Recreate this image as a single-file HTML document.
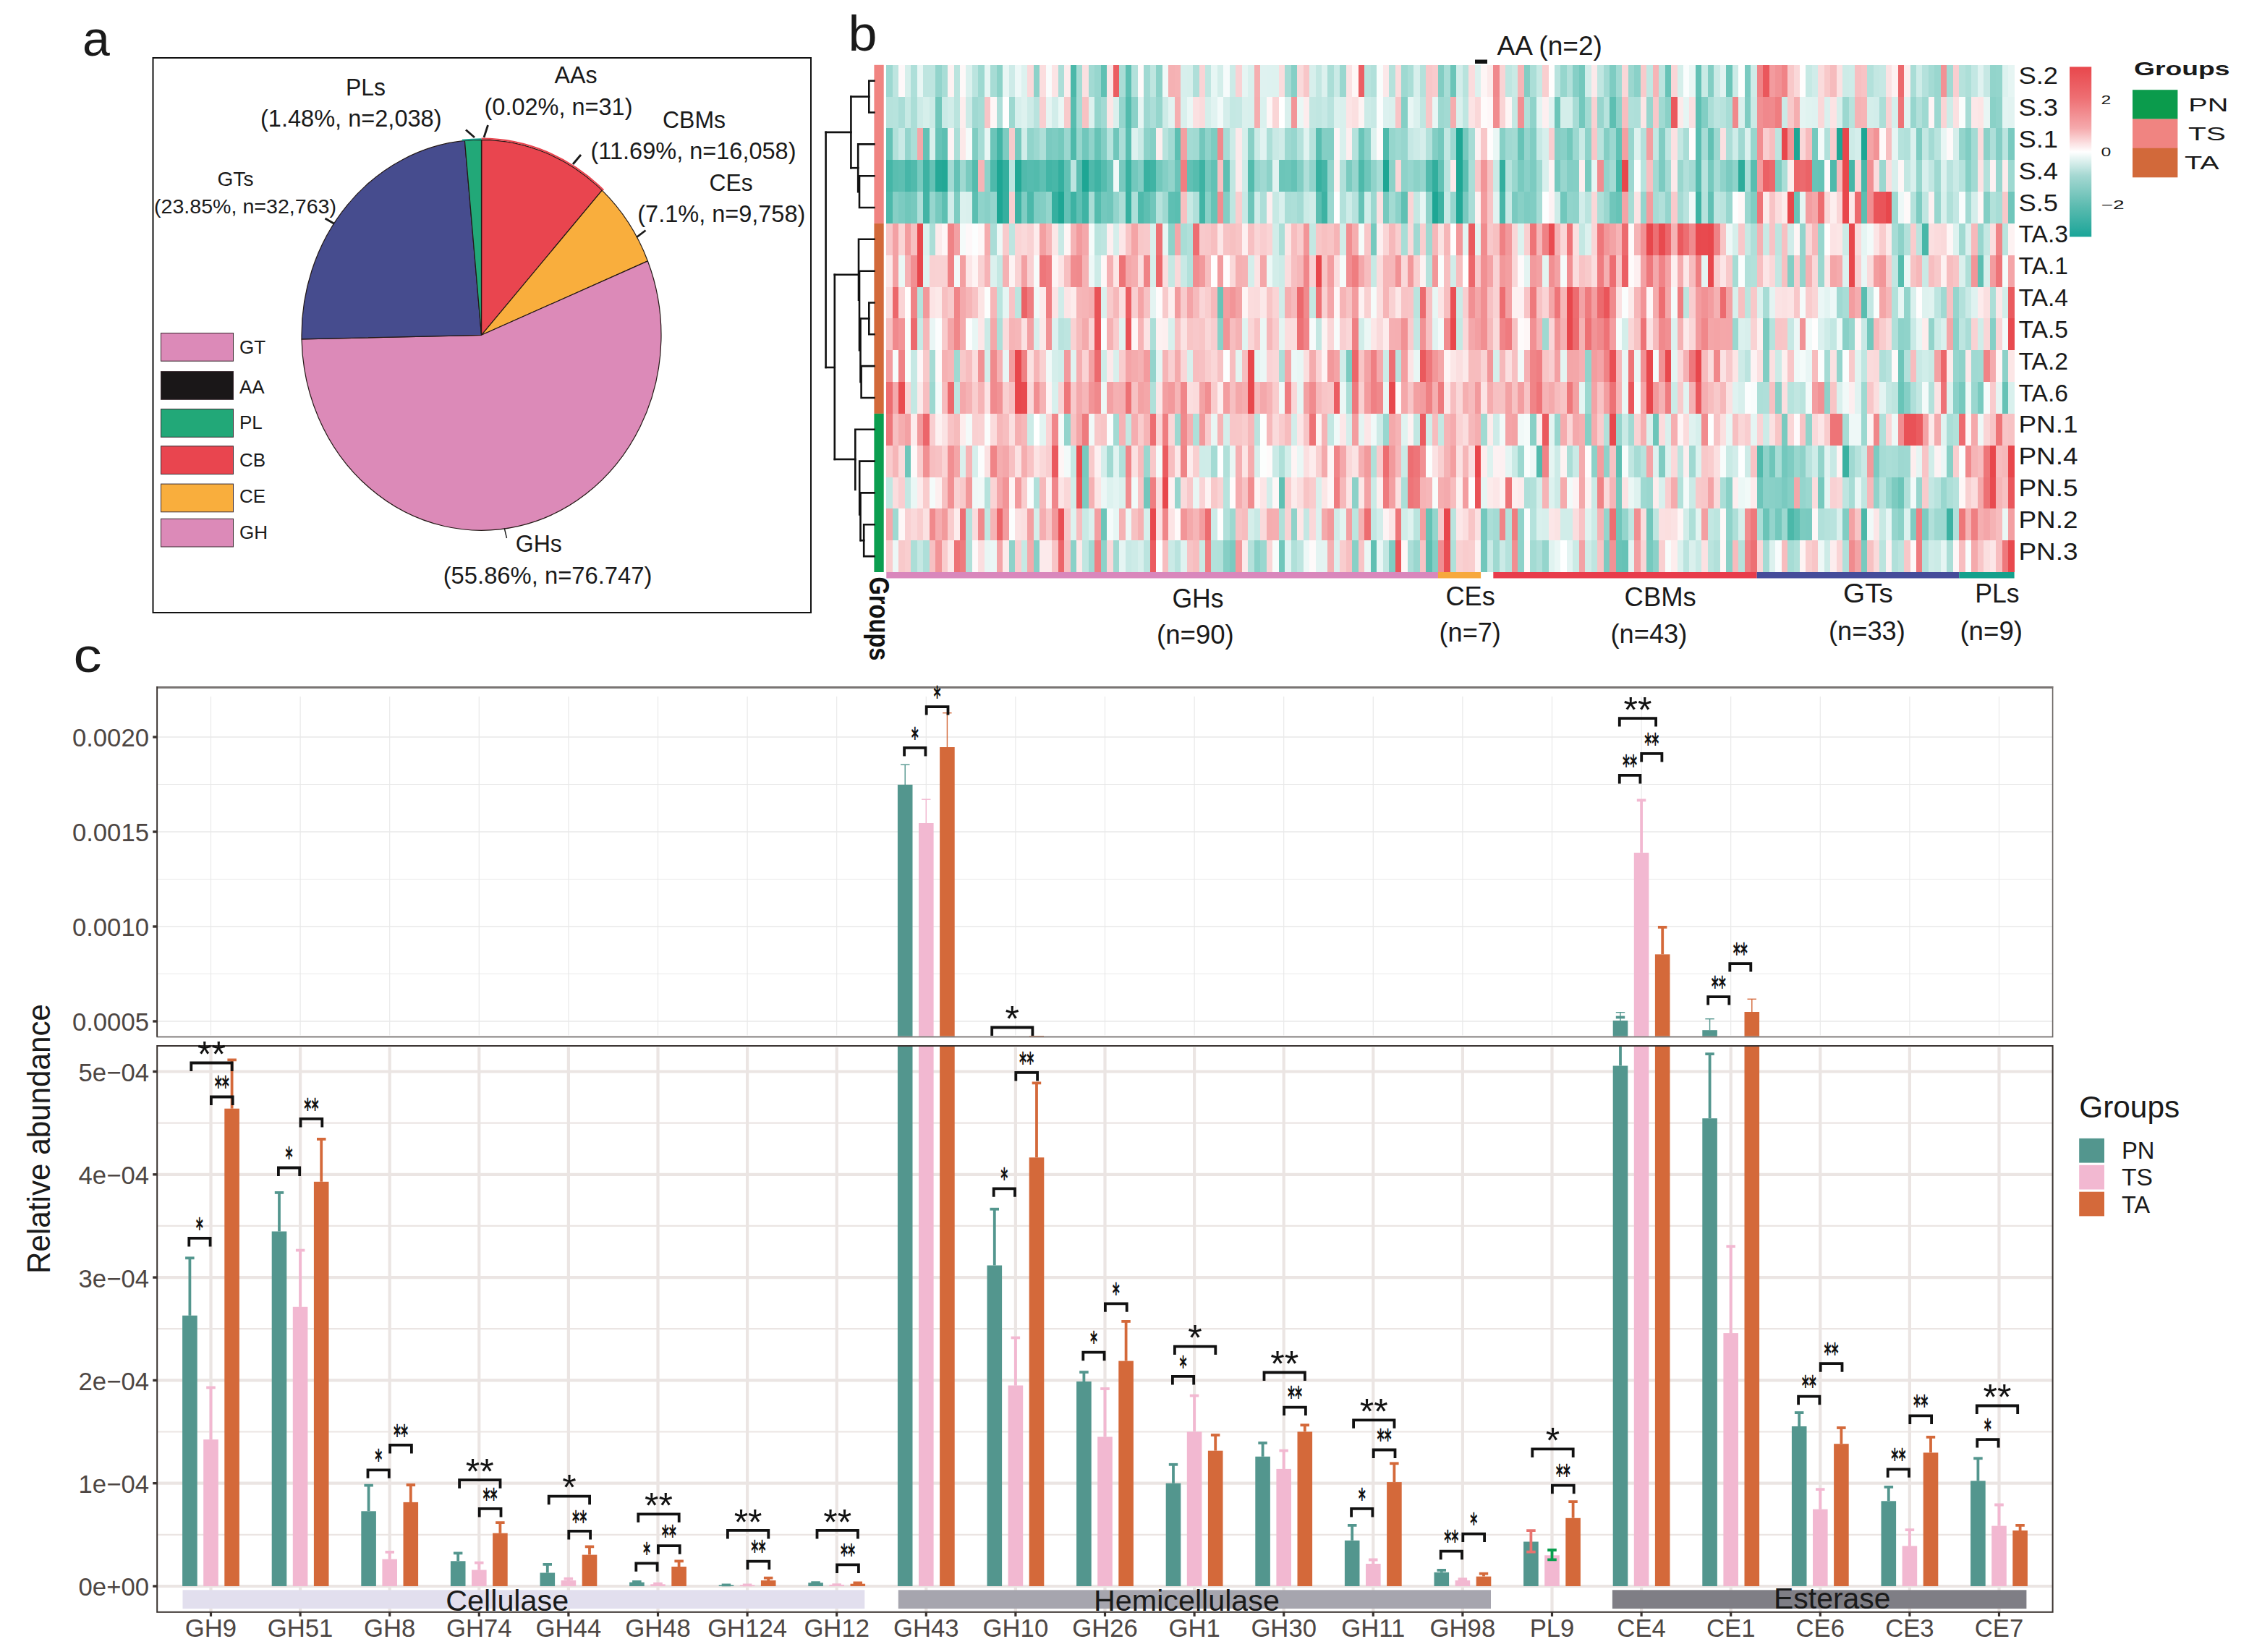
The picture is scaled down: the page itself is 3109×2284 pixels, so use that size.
<!DOCTYPE html>
<html lang="en"><head><meta charset="utf-8"><title>CAZyme figure</title>
<style>
html,body{margin:0;padding:0;background:#fff;}
body{width:3109px;height:2284px;overflow:hidden;}
svg{display:block;}
svg text{font-family:"Liberation Sans",sans-serif;}
</style></head><body>
<svg width="3109" height="2284" viewBox="0 0 3109 2284">
<rect x="0" y="0" width="3109" height="2284" fill="#ffffff"/>
<g id="panel-a">
<text x="114.0" y="77.0" font-size="68" fill="#1a1a1a">a</text>
<rect x="211.5" y="80" width="909.5" height="767" fill="none" stroke="#111" stroke-width="2"/>
<path d="M665.5,463.3 L665.50,193.30 A248.5,270 0 0 1 665.81,193.30 Z" fill="#1a1718" stroke="#231815" stroke-width="1.2" stroke-linejoin="round"/>
<path d="M665.5,463.3 L665.81,193.30 A248.5,270 0 0 1 832.28,263.14 Z" fill="#E9454F" stroke="#231815" stroke-width="1.2" stroke-linejoin="round"/>
<path d="M665.5,463.3 L832.28,263.14 A248.5,270 0 0 1 895.44,360.92 Z" fill="#F9AE3D" stroke="#231815" stroke-width="1.2" stroke-linejoin="round"/>
<path d="M665.5,463.3 L895.44,360.92 A248.5,270 0 1 1 417.05,468.90 Z" fill="#DC8AB8" stroke="#231815" stroke-width="1.2" stroke-linejoin="round"/>
<path d="M665.5,463.3 L417.05,468.90 A248.5,270 0 0 1 642.42,194.47 Z" fill="#464C8E" stroke="#231815" stroke-width="1.2" stroke-linejoin="round"/>
<path d="M665.5,463.3 L642.42,194.47 A248.5,270 0 0 1 665.50,193.30 Z" fill="#22A878" stroke="#231815" stroke-width="1.2" stroke-linejoin="round"/>
<path d="M665.50,191.68 A250.0,271.6 0 0 1 834.33,262.98" fill="none" stroke="#E9454F" stroke-width="2.2"/>
<path d="M638.90,193.76 A249.5,271.1 0 0 1 665.50,192.22" fill="none" stroke="#13A08C" stroke-width="2"/>
<line x1="644.0" y1="179.5" x2="656.0" y2="190.0" stroke="#1a1a1a" stroke-width="2.8"/>
<line x1="674.5" y1="173.0" x2="669.0" y2="190.0" stroke="#1a1a1a" stroke-width="2.8"/>
<line x1="803.0" y1="214.0" x2="792.0" y2="227.0" stroke="#1a1a1a" stroke-width="2.8"/>
<line x1="892.5" y1="318.5" x2="880.0" y2="328.0" stroke="#1a1a1a" stroke-width="2.8"/>
<line x1="449.5" y1="302.0" x2="461.5" y2="309.0" stroke="#1a1a1a" stroke-width="2.8"/>
<line x1="697.3" y1="730.5" x2="700.5" y2="744.0" stroke="#1a1a1a" stroke-width="1.4"/>
<text x="478.0" y="131.5" font-size="33.5" textLength="55.0" lengthAdjust="spacingAndGlyphs" fill="#1a1a1a">PLs</text>
<text x="360.0" y="174.5" font-size="33.5" textLength="250.5" lengthAdjust="spacingAndGlyphs" fill="#1a1a1a">(1.48%, n=2,038)</text>
<text x="766.5" y="115.3" font-size="33.5" textLength="59.0" lengthAdjust="spacingAndGlyphs" fill="#1a1a1a">AAs</text>
<text x="669.5" y="158.6" font-size="33.5" textLength="205.0" lengthAdjust="spacingAndGlyphs" fill="#1a1a1a">(0.02%, n=31)</text>
<text x="916.0" y="176.6" font-size="33.5" textLength="87.0" lengthAdjust="spacingAndGlyphs" fill="#1a1a1a">CBMs</text>
<text x="816.5" y="220.0" font-size="33.5" textLength="284.0" lengthAdjust="spacingAndGlyphs" fill="#1a1a1a">(11.69%, n=16,058)</text>
<text x="980.6" y="263.7" font-size="33.5" textLength="60.0" lengthAdjust="spacingAndGlyphs" fill="#1a1a1a">CEs</text>
<text x="881.3" y="307.3" font-size="33.5" textLength="232.0" lengthAdjust="spacingAndGlyphs" fill="#1a1a1a">(7.1%, n=9,758)</text>
<text x="300.5" y="256.5" font-size="28.5" textLength="50.0" lengthAdjust="spacingAndGlyphs" fill="#1a1a1a">GTs</text>
<text x="213.0" y="295.0" font-size="28.5" textLength="252.0" lengthAdjust="spacingAndGlyphs" fill="#1a1a1a">(23.85%, n=32,763)</text>
<text x="712.8" y="762.8" font-size="33.5" textLength="64.0" lengthAdjust="spacingAndGlyphs" fill="#1a1a1a">GHs</text>
<text x="612.7" y="807.2" font-size="33.5" textLength="288.7" lengthAdjust="spacingAndGlyphs" fill="#1a1a1a">(55.86%, n=76.747)</text>
<rect x="222.5" y="460.5" width="100" height="38.7" fill="#DC8AB8" stroke="#3a2a30" stroke-width="1"/>
<text x="331.0" y="489.4" font-size="26" fill="#1a1a1a">GT</text>
<rect x="222.5" y="513.6" width="100" height="38.7" fill="#1a1718" stroke="#3a2a30" stroke-width="1"/>
<text x="331.0" y="543.6" font-size="26" fill="#1a1a1a">AA</text>
<rect x="222.5" y="565.6" width="100" height="38.7" fill="#22A878" stroke="#3a2a30" stroke-width="1"/>
<text x="331.0" y="592.9" font-size="26" fill="#1a1a1a">PL</text>
<rect x="222.5" y="616.8" width="100" height="38.7" fill="#E9454F" stroke="#3a2a30" stroke-width="1"/>
<text x="331.0" y="645.1" font-size="26" fill="#1a1a1a">CB</text>
<rect x="222.5" y="669.1" width="100" height="38.7" fill="#F9AE3D" stroke="#3a2a30" stroke-width="1"/>
<text x="331.0" y="694.7" font-size="26" fill="#1a1a1a">CE</text>
<rect x="222.5" y="717.3" width="100" height="38.7" fill="#DC8AB8" stroke="#3a2a30" stroke-width="1"/>
<text x="331.0" y="744.5" font-size="26" fill="#1a1a1a">GH</text>
</g>
<g id="panel-b">
<text x="1172.5" y="69.5" font-size="68" textLength="40.0" lengthAdjust="spacingAndGlyphs" fill="#1a1a1a">b</text>
<g shape-rendering="crispEdges">
<rect x="1225.30" y="89.80" width="8.77" height="44.12" fill="#9dd8d1"/>
<rect x="1233.77" y="89.80" width="8.77" height="44.12" fill="#bee5e0"/>
<rect x="1242.25" y="89.80" width="8.77" height="44.12" fill="#fef8f9"/>
<rect x="1250.72" y="89.80" width="8.77" height="44.12" fill="#d6efeb"/>
<rect x="1259.20" y="89.80" width="8.77" height="44.12" fill="#aedfd9"/>
<rect x="1267.67" y="89.80" width="8.77" height="44.12" fill="#e8f6f4"/>
<rect x="1276.15" y="89.80" width="8.77" height="44.12" fill="#bee5e0"/>
<rect x="1284.62" y="89.80" width="8.77" height="44.12" fill="#bee5e0"/>
<rect x="1293.10" y="89.80" width="8.77" height="44.12" fill="#93d4cc"/>
<rect x="1301.57" y="89.80" width="8.77" height="44.12" fill="#a9ddd6"/>
<rect x="1310.04" y="89.80" width="8.77" height="44.12" fill="#fdf2f2"/>
<rect x="1318.52" y="89.80" width="8.77" height="44.12" fill="#bae4de"/>
<rect x="1326.99" y="89.80" width="8.77" height="44.12" fill="#fef8f8"/>
<rect x="1335.47" y="89.80" width="8.77" height="44.12" fill="#dbf1ee"/>
<rect x="1343.94" y="89.80" width="8.77" height="44.12" fill="#bbe4df"/>
<rect x="1352.42" y="89.80" width="8.77" height="44.12" fill="#9ed9d1"/>
<rect x="1360.89" y="89.80" width="8.77" height="44.12" fill="#e6f5f3"/>
<rect x="1369.37" y="89.80" width="8.77" height="44.12" fill="#a7dcd5"/>
<rect x="1377.84" y="89.80" width="8.77" height="44.12" fill="#8cd2c8"/>
<rect x="1386.31" y="89.80" width="8.77" height="44.12" fill="#e8f6f4"/>
<rect x="1394.79" y="89.80" width="8.77" height="44.12" fill="#ceebe8"/>
<rect x="1403.26" y="89.80" width="8.77" height="44.12" fill="#edf8f7"/>
<rect x="1411.74" y="89.80" width="8.77" height="44.12" fill="#ddf2ef"/>
<rect x="1420.21" y="89.80" width="8.77" height="44.12" fill="#fad9da"/>
<rect x="1428.69" y="89.80" width="8.77" height="44.12" fill="#8dd2c9"/>
<rect x="1437.16" y="89.80" width="8.77" height="44.12" fill="#fbddde"/>
<rect x="1445.64" y="89.80" width="8.77" height="44.12" fill="#f9fcfc"/>
<rect x="1454.11" y="89.80" width="8.77" height="44.12" fill="#fce4e5"/>
<rect x="1462.58" y="89.80" width="8.77" height="44.12" fill="#acded8"/>
<rect x="1471.06" y="89.80" width="8.77" height="44.12" fill="#fdeced"/>
<rect x="1479.53" y="89.80" width="8.77" height="44.12" fill="#4bb8a9"/>
<rect x="1488.01" y="89.80" width="8.77" height="44.12" fill="#a5dcd4"/>
<rect x="1496.48" y="89.80" width="8.77" height="44.12" fill="#fbe0e1"/>
<rect x="1504.96" y="89.80" width="8.77" height="44.12" fill="#a2dad3"/>
<rect x="1513.43" y="89.80" width="8.77" height="44.12" fill="#97d6ce"/>
<rect x="1521.91" y="89.80" width="8.77" height="44.12" fill="#60c0b3"/>
<rect x="1530.38" y="89.80" width="8.77" height="44.12" fill="#fce6e7"/>
<rect x="1538.85" y="89.80" width="8.77" height="44.12" fill="#eb5e62"/>
<rect x="1547.33" y="89.80" width="8.77" height="44.12" fill="#a9ddd6"/>
<rect x="1555.80" y="89.80" width="8.77" height="44.12" fill="#5cbfb2"/>
<rect x="1564.28" y="89.80" width="8.77" height="44.12" fill="#b3e1db"/>
<rect x="1572.75" y="89.80" width="8.77" height="44.12" fill="#fefafa"/>
<rect x="1581.23" y="89.80" width="8.77" height="44.12" fill="#a0d9d2"/>
<rect x="1589.70" y="89.80" width="8.77" height="44.12" fill="#bfe6e0"/>
<rect x="1598.18" y="89.80" width="8.77" height="44.12" fill="#8cd2c8"/>
<rect x="1606.65" y="89.80" width="8.77" height="44.12" fill="#eff9f8"/>
<rect x="1615.12" y="89.80" width="8.77" height="44.12" fill="#f5b1b3"/>
<rect x="1623.60" y="89.80" width="8.77" height="44.12" fill="#f6b3b5"/>
<rect x="1632.07" y="89.80" width="8.77" height="44.12" fill="#d7efec"/>
<rect x="1640.55" y="89.80" width="8.77" height="44.12" fill="#d6efeb"/>
<rect x="1649.02" y="89.80" width="8.77" height="44.12" fill="#afdfd9"/>
<rect x="1657.50" y="89.80" width="8.77" height="44.12" fill="#fad3d5"/>
<rect x="1665.97" y="89.80" width="8.77" height="44.12" fill="#bfe6e1"/>
<rect x="1674.45" y="89.80" width="8.77" height="44.12" fill="#e7f6f4"/>
<rect x="1682.92" y="89.80" width="8.77" height="44.12" fill="#d4eeea"/>
<rect x="1691.40" y="89.80" width="8.77" height="44.12" fill="#f6fbfb"/>
<rect x="1699.87" y="89.80" width="8.77" height="44.12" fill="#ccebe7"/>
<rect x="1708.34" y="89.80" width="8.77" height="44.12" fill="#f9d2d4"/>
<rect x="1716.82" y="89.80" width="8.77" height="44.12" fill="#e6f5f3"/>
<rect x="1725.29" y="89.80" width="8.77" height="44.12" fill="#d9f0ed"/>
<rect x="1733.77" y="89.80" width="8.77" height="44.12" fill="#f5aeb0"/>
<rect x="1742.24" y="89.80" width="8.77" height="44.12" fill="#dff2f0"/>
<rect x="1750.72" y="89.80" width="8.77" height="44.12" fill="#def2f0"/>
<rect x="1759.19" y="89.80" width="8.77" height="44.12" fill="#def2ef"/>
<rect x="1767.67" y="89.80" width="8.77" height="44.12" fill="#fbdcdd"/>
<rect x="1776.14" y="89.80" width="8.77" height="44.12" fill="#a5dbd4"/>
<rect x="1784.61" y="89.80" width="8.77" height="44.12" fill="#86cfc6"/>
<rect x="1793.09" y="89.80" width="8.77" height="44.12" fill="#fadadb"/>
<rect x="1801.56" y="89.80" width="8.77" height="44.12" fill="#f8c6c8"/>
<rect x="1810.04" y="89.80" width="8.77" height="44.12" fill="#d7efec"/>
<rect x="1818.51" y="89.80" width="8.77" height="44.12" fill="#c3e7e2"/>
<rect x="1826.99" y="89.80" width="8.77" height="44.12" fill="#dcf1ee"/>
<rect x="1835.46" y="89.80" width="8.77" height="44.12" fill="#abded7"/>
<rect x="1843.94" y="89.80" width="8.77" height="44.12" fill="#caeae6"/>
<rect x="1852.41" y="89.80" width="8.77" height="44.12" fill="#9ad7cf"/>
<rect x="1860.88" y="89.80" width="8.77" height="44.12" fill="#fbe2e3"/>
<rect x="1869.36" y="89.80" width="8.77" height="44.12" fill="#fef7f7"/>
<rect x="1877.83" y="89.80" width="8.77" height="44.12" fill="#eb5f64"/>
<rect x="1886.31" y="89.80" width="8.77" height="44.12" fill="#b7e3dd"/>
<rect x="1894.78" y="89.80" width="8.77" height="44.12" fill="#b1e0da"/>
<rect x="1903.26" y="89.80" width="8.77" height="44.12" fill="#f9fdfc"/>
<rect x="1911.73" y="89.80" width="8.77" height="44.12" fill="#fce8e9"/>
<rect x="1920.21" y="89.80" width="8.77" height="44.12" fill="#b5e2dc"/>
<rect x="1928.68" y="89.80" width="8.77" height="44.12" fill="#fbdbdc"/>
<rect x="1937.15" y="89.80" width="8.77" height="44.12" fill="#9ed9d1"/>
<rect x="1945.63" y="89.80" width="8.77" height="44.12" fill="#abded7"/>
<rect x="1954.10" y="89.80" width="8.77" height="44.12" fill="#d7efec"/>
<rect x="1962.58" y="89.80" width="8.77" height="44.12" fill="#b4e1db"/>
<rect x="1971.05" y="89.80" width="8.77" height="44.12" fill="#f8c7c9"/>
<rect x="1979.53" y="89.80" width="8.77" height="44.12" fill="#f9cbcd"/>
<rect x="1988.00" y="89.80" width="8.77" height="44.12" fill="#82cdc3"/>
<rect x="1996.48" y="89.80" width="8.77" height="44.12" fill="#a8ddd6"/>
<rect x="2004.95" y="89.80" width="8.77" height="44.12" fill="#6ac4b8"/>
<rect x="2013.42" y="89.80" width="8.77" height="44.12" fill="#d2edea"/>
<rect x="2021.90" y="89.80" width="8.77" height="44.12" fill="#b8e3dd"/>
<rect x="2030.37" y="89.80" width="8.77" height="44.12" fill="#fbdcdd"/>
<rect x="2038.85" y="89.80" width="8.77" height="44.12" fill="#dcf1ee"/>
<rect x="2047.32" y="89.80" width="8.77" height="44.12" fill="#fef5f5"/>
<rect x="2055.80" y="89.80" width="8.77" height="44.12" fill="#fceaea"/>
<rect x="2064.27" y="89.80" width="8.77" height="44.12" fill="#f0888c"/>
<rect x="2072.75" y="89.80" width="8.77" height="44.12" fill="#f9d3d4"/>
<rect x="2081.22" y="89.80" width="8.77" height="44.12" fill="#bfe6e1"/>
<rect x="2089.69" y="89.80" width="8.77" height="44.12" fill="#c9eae5"/>
<rect x="2098.17" y="89.80" width="8.77" height="44.12" fill="#f6b5b7"/>
<rect x="2106.64" y="89.80" width="8.77" height="44.12" fill="#82cdc3"/>
<rect x="2115.12" y="89.80" width="8.77" height="44.12" fill="#abded7"/>
<rect x="2123.59" y="89.80" width="8.77" height="44.12" fill="#c7e9e4"/>
<rect x="2132.07" y="89.80" width="8.77" height="44.12" fill="#f9cecf"/>
<rect x="2140.54" y="89.80" width="8.77" height="44.12" fill="#fffdfd"/>
<rect x="2149.02" y="89.80" width="8.77" height="44.12" fill="#b9e3de"/>
<rect x="2157.49" y="89.80" width="8.77" height="44.12" fill="#96d6cd"/>
<rect x="2165.96" y="89.80" width="8.77" height="44.12" fill="#b2e0da"/>
<rect x="2174.44" y="89.80" width="8.77" height="44.12" fill="#86cfc6"/>
<rect x="2182.91" y="89.80" width="8.77" height="44.12" fill="#74c8bd"/>
<rect x="2191.39" y="89.80" width="8.77" height="44.12" fill="#d2edea"/>
<rect x="2199.86" y="89.80" width="8.77" height="44.12" fill="#fce9ea"/>
<rect x="2208.34" y="89.80" width="8.77" height="44.12" fill="#c0e6e1"/>
<rect x="2216.81" y="89.80" width="8.77" height="44.12" fill="#a2dad3"/>
<rect x="2225.29" y="89.80" width="8.77" height="44.12" fill="#7eccc2"/>
<rect x="2233.76" y="89.80" width="8.77" height="44.12" fill="#a2dad3"/>
<rect x="2242.23" y="89.80" width="8.77" height="44.12" fill="#fad7d8"/>
<rect x="2250.71" y="89.80" width="8.77" height="44.12" fill="#9bd7cf"/>
<rect x="2259.18" y="89.80" width="8.77" height="44.12" fill="#8ad1c8"/>
<rect x="2267.66" y="89.80" width="8.77" height="44.12" fill="#f8cacb"/>
<rect x="2276.13" y="89.80" width="8.77" height="44.12" fill="#c1e7e2"/>
<rect x="2284.61" y="89.80" width="8.77" height="44.12" fill="#f6b4b6"/>
<rect x="2293.08" y="89.80" width="8.77" height="44.12" fill="#bbe4df"/>
<rect x="2301.56" y="89.80" width="8.77" height="44.12" fill="#67c3b7"/>
<rect x="2310.03" y="89.80" width="8.77" height="44.12" fill="#fad6d7"/>
<rect x="2318.50" y="89.80" width="8.77" height="44.12" fill="#d6efeb"/>
<rect x="2326.98" y="89.80" width="8.77" height="44.12" fill="#fafdfd"/>
<rect x="2335.45" y="89.80" width="8.77" height="44.12" fill="#eaf7f5"/>
<rect x="2343.93" y="89.80" width="8.77" height="44.12" fill="#63c1b5"/>
<rect x="2352.40" y="89.80" width="8.77" height="44.12" fill="#c9eae5"/>
<rect x="2360.88" y="89.80" width="8.77" height="44.12" fill="#83cec4"/>
<rect x="2369.35" y="89.80" width="8.77" height="44.12" fill="#cbeae6"/>
<rect x="2377.83" y="89.80" width="8.77" height="44.12" fill="#e1f3f1"/>
<rect x="2386.30" y="89.80" width="8.77" height="44.12" fill="#6cc5b9"/>
<rect x="2394.77" y="89.80" width="8.77" height="44.12" fill="#ccebe7"/>
<rect x="2403.25" y="89.80" width="8.77" height="44.12" fill="#fcfefd"/>
<rect x="2411.72" y="89.80" width="8.77" height="44.12" fill="#7acac0"/>
<rect x="2420.20" y="89.80" width="8.77" height="44.12" fill="#cfece8"/>
<rect x="2428.67" y="89.80" width="8.77" height="44.12" fill="#f08588"/>
<rect x="2437.15" y="89.80" width="8.77" height="44.12" fill="#ea575c"/>
<rect x="2445.62" y="89.80" width="8.77" height="44.12" fill="#f39b9e"/>
<rect x="2454.10" y="89.80" width="8.77" height="44.12" fill="#f19295"/>
<rect x="2462.57" y="89.80" width="8.77" height="44.12" fill="#f08386"/>
<rect x="2471.05" y="89.80" width="8.77" height="44.12" fill="#f8c8c9"/>
<rect x="2479.52" y="89.80" width="8.77" height="44.12" fill="#fad8d9"/>
<rect x="2487.99" y="89.80" width="8.77" height="44.12" fill="#fffdfd"/>
<rect x="2496.47" y="89.80" width="8.77" height="44.12" fill="#c6e9e4"/>
<rect x="2504.94" y="89.80" width="8.77" height="44.12" fill="#d0ece9"/>
<rect x="2513.42" y="89.80" width="8.77" height="44.12" fill="#fadbdc"/>
<rect x="2521.89" y="89.80" width="8.77" height="44.12" fill="#f8c9ca"/>
<rect x="2530.37" y="89.80" width="8.77" height="44.12" fill="#f6bbbd"/>
<rect x="2538.84" y="89.80" width="8.77" height="44.12" fill="#fbe1e2"/>
<rect x="2547.32" y="89.80" width="8.77" height="44.12" fill="#cdebe7"/>
<rect x="2555.79" y="89.80" width="8.77" height="44.12" fill="#ceece8"/>
<rect x="2564.26" y="89.80" width="8.77" height="44.12" fill="#f7bfc1"/>
<rect x="2572.74" y="89.80" width="8.77" height="44.12" fill="#f8c3c5"/>
<rect x="2581.21" y="89.80" width="8.77" height="44.12" fill="#b3e1db"/>
<rect x="2589.69" y="89.80" width="8.77" height="44.12" fill="#c3e7e2"/>
<rect x="2598.16" y="89.80" width="8.77" height="44.12" fill="#c6e8e4"/>
<rect x="2606.64" y="89.80" width="8.77" height="44.12" fill="#fbe2e3"/>
<rect x="2615.11" y="89.80" width="8.77" height="44.12" fill="#fdf2f2"/>
<rect x="2623.59" y="89.80" width="8.77" height="44.12" fill="#ec686c"/>
<rect x="2632.06" y="89.80" width="8.77" height="44.12" fill="#fdeeef"/>
<rect x="2640.53" y="89.80" width="8.77" height="44.12" fill="#a9ddd6"/>
<rect x="2649.01" y="89.80" width="8.77" height="44.12" fill="#ceece8"/>
<rect x="2657.48" y="89.80" width="8.77" height="44.12" fill="#b4e1dc"/>
<rect x="2665.96" y="89.80" width="8.77" height="44.12" fill="#a4dbd4"/>
<rect x="2674.43" y="89.80" width="8.77" height="44.12" fill="#9ad7cf"/>
<rect x="2682.91" y="89.80" width="8.77" height="44.12" fill="#f19295"/>
<rect x="2691.38" y="89.80" width="8.77" height="44.12" fill="#a2dad3"/>
<rect x="2699.86" y="89.80" width="8.77" height="44.12" fill="#f9ced0"/>
<rect x="2708.33" y="89.80" width="8.77" height="44.12" fill="#b6e2dc"/>
<rect x="2716.80" y="89.80" width="8.77" height="44.12" fill="#addfd8"/>
<rect x="2725.28" y="89.80" width="8.77" height="44.12" fill="#c3e7e3"/>
<rect x="2733.75" y="89.80" width="8.77" height="44.12" fill="#dff2f0"/>
<rect x="2742.23" y="89.80" width="8.77" height="44.12" fill="#c6e8e4"/>
<rect x="2750.70" y="89.80" width="8.77" height="44.12" fill="#92d4cb"/>
<rect x="2759.18" y="89.80" width="8.77" height="44.12" fill="#94d5cc"/>
<rect x="2767.65" y="89.80" width="8.77" height="44.12" fill="#ddf2ef"/>
<rect x="2776.13" y="89.80" width="8.77" height="44.12" fill="#e6f5f3"/>
<rect x="1225.30" y="133.62" width="8.77" height="44.12" fill="#b6e2dc"/>
<rect x="1233.77" y="133.62" width="8.77" height="44.12" fill="#b7e3dd"/>
<rect x="1242.25" y="133.62" width="8.77" height="44.12" fill="#aaddd7"/>
<rect x="1250.72" y="133.62" width="8.77" height="44.12" fill="#c7e9e4"/>
<rect x="1259.20" y="133.62" width="8.77" height="44.12" fill="#abded7"/>
<rect x="1267.67" y="133.62" width="8.77" height="44.12" fill="#cdebe7"/>
<rect x="1276.15" y="133.62" width="8.77" height="44.12" fill="#d6efeb"/>
<rect x="1284.62" y="133.62" width="8.77" height="44.12" fill="#cbebe6"/>
<rect x="1293.10" y="133.62" width="8.77" height="44.12" fill="#71c7bb"/>
<rect x="1301.57" y="133.62" width="8.77" height="44.12" fill="#caeae6"/>
<rect x="1310.04" y="133.62" width="8.77" height="44.12" fill="#d1ede9"/>
<rect x="1318.52" y="133.62" width="8.77" height="44.12" fill="#bae4de"/>
<rect x="1326.99" y="133.62" width="8.77" height="44.12" fill="#fdeded"/>
<rect x="1335.47" y="133.62" width="8.77" height="44.12" fill="#cdebe7"/>
<rect x="1343.94" y="133.62" width="8.77" height="44.12" fill="#a0d9d2"/>
<rect x="1352.42" y="133.62" width="8.77" height="44.12" fill="#a6dcd5"/>
<rect x="1360.89" y="133.62" width="8.77" height="44.12" fill="#f8c5c7"/>
<rect x="1369.37" y="133.62" width="8.77" height="44.12" fill="#fef6f6"/>
<rect x="1377.84" y="133.62" width="8.77" height="44.12" fill="#acded8"/>
<rect x="1386.31" y="133.62" width="8.77" height="44.12" fill="#fffefe"/>
<rect x="1394.79" y="133.62" width="8.77" height="44.12" fill="#9dd8d0"/>
<rect x="1403.26" y="133.62" width="8.77" height="44.12" fill="#d7efec"/>
<rect x="1411.74" y="133.62" width="8.77" height="44.12" fill="#def2ef"/>
<rect x="1420.21" y="133.62" width="8.77" height="44.12" fill="#cdebe7"/>
<rect x="1428.69" y="133.62" width="8.77" height="44.12" fill="#b9e3de"/>
<rect x="1437.16" y="133.62" width="8.77" height="44.12" fill="#f9ced0"/>
<rect x="1445.64" y="133.62" width="8.77" height="44.12" fill="#e6f5f3"/>
<rect x="1454.11" y="133.62" width="8.77" height="44.12" fill="#d2edea"/>
<rect x="1462.58" y="133.62" width="8.77" height="44.12" fill="#eaf7f5"/>
<rect x="1471.06" y="133.62" width="8.77" height="44.12" fill="#f8cacb"/>
<rect x="1479.53" y="133.62" width="8.77" height="44.12" fill="#57bdaf"/>
<rect x="1488.01" y="133.62" width="8.77" height="44.12" fill="#a6dcd5"/>
<rect x="1496.48" y="133.62" width="8.77" height="44.12" fill="#f7c2c3"/>
<rect x="1504.96" y="133.62" width="8.77" height="44.12" fill="#dcf1ee"/>
<rect x="1513.43" y="133.62" width="8.77" height="44.12" fill="#94d5cc"/>
<rect x="1521.91" y="133.62" width="8.77" height="44.12" fill="#a2dad3"/>
<rect x="1530.38" y="133.62" width="8.77" height="44.12" fill="#fce6e6"/>
<rect x="1538.85" y="133.62" width="8.77" height="44.12" fill="#daf0ed"/>
<rect x="1547.33" y="133.62" width="8.77" height="44.12" fill="#95d5cd"/>
<rect x="1555.80" y="133.62" width="8.77" height="44.12" fill="#52bbad"/>
<rect x="1564.28" y="133.62" width="8.77" height="44.12" fill="#8bd1c8"/>
<rect x="1572.75" y="133.62" width="8.77" height="44.12" fill="#e6f5f3"/>
<rect x="1581.23" y="133.62" width="8.77" height="44.12" fill="#9ed8d1"/>
<rect x="1589.70" y="133.62" width="8.77" height="44.12" fill="#acded8"/>
<rect x="1598.18" y="133.62" width="8.77" height="44.12" fill="#96d6cd"/>
<rect x="1606.65" y="133.62" width="8.77" height="44.12" fill="#cdebe7"/>
<rect x="1615.12" y="133.62" width="8.77" height="44.12" fill="#e2f3f1"/>
<rect x="1623.60" y="133.62" width="8.77" height="44.12" fill="#f5aeb0"/>
<rect x="1632.07" y="133.62" width="8.77" height="44.12" fill="#d9f0ed"/>
<rect x="1640.55" y="133.62" width="8.77" height="44.12" fill="#eaf7f5"/>
<rect x="1649.02" y="133.62" width="8.77" height="44.12" fill="#fbe0e1"/>
<rect x="1657.50" y="133.62" width="8.77" height="44.12" fill="#fadbdc"/>
<rect x="1665.97" y="133.62" width="8.77" height="44.12" fill="#d5efeb"/>
<rect x="1674.45" y="133.62" width="8.77" height="44.12" fill="#e1f3f1"/>
<rect x="1682.92" y="133.62" width="8.77" height="44.12" fill="#f2faf9"/>
<rect x="1691.40" y="133.62" width="8.77" height="44.12" fill="#d5eeeb"/>
<rect x="1699.87" y="133.62" width="8.77" height="44.12" fill="#c4e8e3"/>
<rect x="1708.34" y="133.62" width="8.77" height="44.12" fill="#c6e8e4"/>
<rect x="1716.82" y="133.62" width="8.77" height="44.12" fill="#daf0ed"/>
<rect x="1725.29" y="133.62" width="8.77" height="44.12" fill="#d8f0ed"/>
<rect x="1733.77" y="133.62" width="8.77" height="44.12" fill="#f5acae"/>
<rect x="1742.24" y="133.62" width="8.77" height="44.12" fill="#daf1ee"/>
<rect x="1750.72" y="133.62" width="8.77" height="44.12" fill="#fef6f6"/>
<rect x="1759.19" y="133.62" width="8.77" height="44.12" fill="#fad5d6"/>
<rect x="1767.67" y="133.62" width="8.77" height="44.12" fill="#ffffff"/>
<rect x="1776.14" y="133.62" width="8.77" height="44.12" fill="#d9f0ed"/>
<rect x="1784.61" y="133.62" width="8.77" height="44.12" fill="#f29598"/>
<rect x="1793.09" y="133.62" width="8.77" height="44.12" fill="#eaf7f5"/>
<rect x="1801.56" y="133.62" width="8.77" height="44.12" fill="#fdeced"/>
<rect x="1810.04" y="133.62" width="8.77" height="44.12" fill="#c3e7e2"/>
<rect x="1818.51" y="133.62" width="8.77" height="44.12" fill="#c0e6e1"/>
<rect x="1826.99" y="133.62" width="8.77" height="44.12" fill="#c7e9e5"/>
<rect x="1835.46" y="133.62" width="8.77" height="44.12" fill="#b9e3de"/>
<rect x="1843.94" y="133.62" width="8.77" height="44.12" fill="#dcf1ee"/>
<rect x="1852.41" y="133.62" width="8.77" height="44.12" fill="#d9f0ed"/>
<rect x="1860.88" y="133.62" width="8.77" height="44.12" fill="#fce4e5"/>
<rect x="1869.36" y="133.62" width="8.77" height="44.12" fill="#fbdfe0"/>
<rect x="1877.83" y="133.62" width="8.77" height="44.12" fill="#fdf3f3"/>
<rect x="1886.31" y="133.62" width="8.77" height="44.12" fill="#ccebe7"/>
<rect x="1894.78" y="133.62" width="8.77" height="44.12" fill="#c8e9e5"/>
<rect x="1903.26" y="133.62" width="8.77" height="44.12" fill="#fbfdfd"/>
<rect x="1911.73" y="133.62" width="8.77" height="44.12" fill="#dcf1ef"/>
<rect x="1920.21" y="133.62" width="8.77" height="44.12" fill="#daf0ed"/>
<rect x="1928.68" y="133.62" width="8.77" height="44.12" fill="#f8c4c6"/>
<rect x="1937.15" y="133.62" width="8.77" height="44.12" fill="#84cfc5"/>
<rect x="1945.63" y="133.62" width="8.77" height="44.12" fill="#e8f6f4"/>
<rect x="1954.10" y="133.62" width="8.77" height="44.12" fill="#dbf1ee"/>
<rect x="1962.58" y="133.62" width="8.77" height="44.12" fill="#c0e6e1"/>
<rect x="1971.05" y="133.62" width="8.77" height="44.12" fill="#f8c7c8"/>
<rect x="1979.53" y="133.62" width="8.77" height="44.12" fill="#e8f6f4"/>
<rect x="1988.00" y="133.62" width="8.77" height="44.12" fill="#9dd8d0"/>
<rect x="1996.48" y="133.62" width="8.77" height="44.12" fill="#a2dad3"/>
<rect x="2004.95" y="133.62" width="8.77" height="44.12" fill="#f5acae"/>
<rect x="2013.42" y="133.62" width="8.77" height="44.12" fill="#d9f0ed"/>
<rect x="2021.90" y="133.62" width="8.77" height="44.12" fill="#bfe6e1"/>
<rect x="2030.37" y="133.62" width="8.77" height="44.12" fill="#fce3e4"/>
<rect x="2038.85" y="133.62" width="8.77" height="44.12" fill="#fad7d8"/>
<rect x="2047.32" y="133.62" width="8.77" height="44.12" fill="#fefbfb"/>
<rect x="2055.80" y="133.62" width="8.77" height="44.12" fill="#fef7f8"/>
<rect x="2064.27" y="133.62" width="8.77" height="44.12" fill="#f18c8f"/>
<rect x="2072.75" y="133.62" width="8.77" height="44.12" fill="#fad4d5"/>
<rect x="2081.22" y="133.62" width="8.77" height="44.12" fill="#fef5f5"/>
<rect x="2089.69" y="133.62" width="8.77" height="44.12" fill="#c5e8e3"/>
<rect x="2098.17" y="133.62" width="8.77" height="44.12" fill="#f18f92"/>
<rect x="2106.64" y="133.62" width="8.77" height="44.12" fill="#b0e0d9"/>
<rect x="2115.12" y="133.62" width="8.77" height="44.12" fill="#90d3ca"/>
<rect x="2123.59" y="133.62" width="8.77" height="44.12" fill="#e3f4f2"/>
<rect x="2132.07" y="133.62" width="8.77" height="44.12" fill="#fdeff0"/>
<rect x="2140.54" y="133.62" width="8.77" height="44.12" fill="#e1f3f1"/>
<rect x="2149.02" y="133.62" width="8.77" height="44.12" fill="#6dc5b9"/>
<rect x="2157.49" y="133.62" width="8.77" height="44.12" fill="#d4eeea"/>
<rect x="2165.96" y="133.62" width="8.77" height="44.12" fill="#d4eeea"/>
<rect x="2174.44" y="133.62" width="8.77" height="44.12" fill="#a7dcd5"/>
<rect x="2182.91" y="133.62" width="8.77" height="44.12" fill="#73c8bd"/>
<rect x="2191.39" y="133.62" width="8.77" height="44.12" fill="#a3dbd3"/>
<rect x="2199.86" y="133.62" width="8.77" height="44.12" fill="#f9d1d2"/>
<rect x="2208.34" y="133.62" width="8.77" height="44.12" fill="#98d6ce"/>
<rect x="2216.81" y="133.62" width="8.77" height="44.12" fill="#b7e3dd"/>
<rect x="2225.29" y="133.62" width="8.77" height="44.12" fill="#5dbfb2"/>
<rect x="2233.76" y="133.62" width="8.77" height="44.12" fill="#8ed2c9"/>
<rect x="2242.23" y="133.62" width="8.77" height="44.12" fill="#f7bec0"/>
<rect x="2250.71" y="133.62" width="8.77" height="44.12" fill="#b0e0da"/>
<rect x="2259.18" y="133.62" width="8.77" height="44.12" fill="#aedfd9"/>
<rect x="2267.66" y="133.62" width="8.77" height="44.12" fill="#fce5e5"/>
<rect x="2276.13" y="133.62" width="8.77" height="44.12" fill="#98d6ce"/>
<rect x="2284.61" y="133.62" width="8.77" height="44.12" fill="#f8c7c9"/>
<rect x="2293.08" y="133.62" width="8.77" height="44.12" fill="#a0dad2"/>
<rect x="2301.56" y="133.62" width="8.77" height="44.12" fill="#8ad1c7"/>
<rect x="2310.03" y="133.62" width="8.77" height="44.12" fill="#ea585d"/>
<rect x="2318.50" y="133.62" width="8.77" height="44.12" fill="#fceaea"/>
<rect x="2326.98" y="133.62" width="8.77" height="44.12" fill="#e5f5f3"/>
<rect x="2335.45" y="133.62" width="8.77" height="44.12" fill="#fbe0e1"/>
<rect x="2343.93" y="133.62" width="8.77" height="44.12" fill="#5cbfb2"/>
<rect x="2352.40" y="133.62" width="8.77" height="44.12" fill="#82cec4"/>
<rect x="2360.88" y="133.62" width="8.77" height="44.12" fill="#abded7"/>
<rect x="2369.35" y="133.62" width="8.77" height="44.12" fill="#bde5e0"/>
<rect x="2377.83" y="133.62" width="8.77" height="44.12" fill="#b8e3dd"/>
<rect x="2386.30" y="133.62" width="8.77" height="44.12" fill="#a8ddd6"/>
<rect x="2394.77" y="133.62" width="8.77" height="44.12" fill="#f0888b"/>
<rect x="2403.25" y="133.62" width="8.77" height="44.12" fill="#daf0ed"/>
<rect x="2411.72" y="133.62" width="8.77" height="44.12" fill="#7fccc2"/>
<rect x="2420.20" y="133.62" width="8.77" height="44.12" fill="#caeae6"/>
<rect x="2428.67" y="133.62" width="8.77" height="44.12" fill="#f19093"/>
<rect x="2437.15" y="133.62" width="8.77" height="44.12" fill="#f0888c"/>
<rect x="2445.62" y="133.62" width="8.77" height="44.12" fill="#f08a8d"/>
<rect x="2454.10" y="133.62" width="8.77" height="44.12" fill="#ef7d80"/>
<rect x="2462.57" y="133.62" width="8.77" height="44.12" fill="#cbeae6"/>
<rect x="2471.05" y="133.62" width="8.77" height="44.12" fill="#f8c9ca"/>
<rect x="2479.52" y="133.62" width="8.77" height="44.12" fill="#f5aeb0"/>
<rect x="2487.99" y="133.62" width="8.77" height="44.12" fill="#e4f4f2"/>
<rect x="2496.47" y="133.62" width="8.77" height="44.12" fill="#e0f3f0"/>
<rect x="2504.94" y="133.62" width="8.77" height="44.12" fill="#dff2f0"/>
<rect x="2513.42" y="133.62" width="8.77" height="44.12" fill="#fad8d9"/>
<rect x="2521.89" y="133.62" width="8.77" height="44.12" fill="#daf0ee"/>
<rect x="2530.37" y="133.62" width="8.77" height="44.12" fill="#fce3e4"/>
<rect x="2538.84" y="133.62" width="8.77" height="44.12" fill="#d6efeb"/>
<rect x="2547.32" y="133.62" width="8.77" height="44.12" fill="#9cd8d0"/>
<rect x="2555.79" y="133.62" width="8.77" height="44.12" fill="#b8e3dd"/>
<rect x="2564.26" y="133.62" width="8.77" height="44.12" fill="#f5b3b5"/>
<rect x="2572.74" y="133.62" width="8.77" height="44.12" fill="#f6b5b7"/>
<rect x="2581.21" y="133.62" width="8.77" height="44.12" fill="#d4eeea"/>
<rect x="2589.69" y="133.62" width="8.77" height="44.12" fill="#d2edea"/>
<rect x="2598.16" y="133.62" width="8.77" height="44.12" fill="#acded7"/>
<rect x="2606.64" y="133.62" width="8.77" height="44.12" fill="#f9d2d3"/>
<rect x="2615.11" y="133.62" width="8.77" height="44.12" fill="#d5efeb"/>
<rect x="2623.59" y="133.62" width="8.77" height="44.12" fill="#ee7377"/>
<rect x="2632.06" y="133.62" width="8.77" height="44.12" fill="#e1f3f1"/>
<rect x="2640.53" y="133.62" width="8.77" height="44.12" fill="#97d6ce"/>
<rect x="2649.01" y="133.62" width="8.77" height="44.12" fill="#b2e0da"/>
<rect x="2657.48" y="133.62" width="8.77" height="44.12" fill="#9ed9d1"/>
<rect x="2665.96" y="133.62" width="8.77" height="44.12" fill="#fef4f5"/>
<rect x="2674.43" y="133.62" width="8.77" height="44.12" fill="#9cd8d0"/>
<rect x="2682.91" y="133.62" width="8.77" height="44.12" fill="#fad4d5"/>
<rect x="2691.38" y="133.62" width="8.77" height="44.12" fill="#ceece8"/>
<rect x="2699.86" y="133.62" width="8.77" height="44.12" fill="#fbe0e1"/>
<rect x="2708.33" y="133.62" width="8.77" height="44.12" fill="#f9fdfc"/>
<rect x="2716.80" y="133.62" width="8.77" height="44.12" fill="#a6dcd5"/>
<rect x="2725.28" y="133.62" width="8.77" height="44.12" fill="#fce7e8"/>
<rect x="2733.75" y="133.62" width="8.77" height="44.12" fill="#fce5e5"/>
<rect x="2742.23" y="133.62" width="8.77" height="44.12" fill="#e8f6f4"/>
<rect x="2750.70" y="133.62" width="8.77" height="44.12" fill="#8ad1c7"/>
<rect x="2759.18" y="133.62" width="8.77" height="44.12" fill="#90d3ca"/>
<rect x="2767.65" y="133.62" width="8.77" height="44.12" fill="#e3f4f2"/>
<rect x="2776.13" y="133.62" width="8.77" height="44.12" fill="#e2f3f1"/>
<rect x="1225.30" y="177.45" width="8.77" height="44.12" fill="#65c2b6"/>
<rect x="1233.77" y="177.45" width="8.77" height="44.12" fill="#b2e1da"/>
<rect x="1242.25" y="177.45" width="8.77" height="44.12" fill="#caeae6"/>
<rect x="1250.72" y="177.45" width="8.77" height="44.12" fill="#95d5cd"/>
<rect x="1259.20" y="177.45" width="8.77" height="44.12" fill="#abded7"/>
<rect x="1267.67" y="177.45" width="8.77" height="44.12" fill="#f4a7a9"/>
<rect x="1276.15" y="177.45" width="8.77" height="44.12" fill="#62c1b5"/>
<rect x="1284.62" y="177.45" width="8.77" height="44.12" fill="#d8f0ec"/>
<rect x="1293.10" y="177.45" width="8.77" height="44.12" fill="#67c3b7"/>
<rect x="1301.57" y="177.45" width="8.77" height="44.12" fill="#5dbfb2"/>
<rect x="1310.04" y="177.45" width="8.77" height="44.12" fill="#fef3f4"/>
<rect x="1318.52" y="177.45" width="8.77" height="44.12" fill="#acded7"/>
<rect x="1326.99" y="177.45" width="8.77" height="44.12" fill="#fce9e9"/>
<rect x="1335.47" y="177.45" width="8.77" height="44.12" fill="#f5fbfa"/>
<rect x="1343.94" y="177.45" width="8.77" height="44.12" fill="#80cdc2"/>
<rect x="1352.42" y="177.45" width="8.77" height="44.12" fill="#a6dcd5"/>
<rect x="1360.89" y="177.45" width="8.77" height="44.12" fill="#e8f6f4"/>
<rect x="1369.37" y="177.45" width="8.77" height="44.12" fill="#6cc5b9"/>
<rect x="1377.84" y="177.45" width="8.77" height="44.12" fill="#42b4a5"/>
<rect x="1386.31" y="177.45" width="8.77" height="44.12" fill="#7dccc1"/>
<rect x="1394.79" y="177.45" width="8.77" height="44.12" fill="#f8cbcc"/>
<rect x="1403.26" y="177.45" width="8.77" height="44.12" fill="#76c9be"/>
<rect x="1411.74" y="177.45" width="8.77" height="44.12" fill="#d1ede9"/>
<rect x="1420.21" y="177.45" width="8.77" height="44.12" fill="#91d4cb"/>
<rect x="1428.69" y="177.45" width="8.77" height="44.12" fill="#9cd8d0"/>
<rect x="1437.16" y="177.45" width="8.77" height="44.12" fill="#aedfd8"/>
<rect x="1445.64" y="177.45" width="8.77" height="44.12" fill="#7acac0"/>
<rect x="1454.11" y="177.45" width="8.77" height="44.12" fill="#7eccc2"/>
<rect x="1462.58" y="177.45" width="8.77" height="44.12" fill="#75c9bd"/>
<rect x="1471.06" y="177.45" width="8.77" height="44.12" fill="#9bd7cf"/>
<rect x="1479.53" y="177.45" width="8.77" height="44.12" fill="#4db9aa"/>
<rect x="1488.01" y="177.45" width="8.77" height="44.12" fill="#97d6cd"/>
<rect x="1496.48" y="177.45" width="8.77" height="44.12" fill="#71c7bc"/>
<rect x="1504.96" y="177.45" width="8.77" height="44.12" fill="#90d3ca"/>
<rect x="1513.43" y="177.45" width="8.77" height="44.12" fill="#67c3b6"/>
<rect x="1521.91" y="177.45" width="8.77" height="44.12" fill="#83cec4"/>
<rect x="1530.38" y="177.45" width="8.77" height="44.12" fill="#b7e3dd"/>
<rect x="1538.85" y="177.45" width="8.77" height="44.12" fill="#70c6bb"/>
<rect x="1547.33" y="177.45" width="8.77" height="44.12" fill="#acded8"/>
<rect x="1555.80" y="177.45" width="8.77" height="44.12" fill="#59bdb0"/>
<rect x="1564.28" y="177.45" width="8.77" height="44.12" fill="#ddf1ef"/>
<rect x="1572.75" y="177.45" width="8.77" height="44.12" fill="#caeae6"/>
<rect x="1581.23" y="177.45" width="8.77" height="44.12" fill="#8dd2c9"/>
<rect x="1589.70" y="177.45" width="8.77" height="44.12" fill="#85cfc5"/>
<rect x="1598.18" y="177.45" width="8.77" height="44.12" fill="#fdeeee"/>
<rect x="1606.65" y="177.45" width="8.77" height="44.12" fill="#b8e3dd"/>
<rect x="1615.12" y="177.45" width="8.77" height="44.12" fill="#a2dad3"/>
<rect x="1623.60" y="177.45" width="8.77" height="44.12" fill="#5dbfb2"/>
<rect x="1632.07" y="177.45" width="8.77" height="44.12" fill="#f39fa2"/>
<rect x="1640.55" y="177.45" width="8.77" height="44.12" fill="#a4dbd4"/>
<rect x="1649.02" y="177.45" width="8.77" height="44.12" fill="#a1dad2"/>
<rect x="1657.50" y="177.45" width="8.77" height="44.12" fill="#73c7bc"/>
<rect x="1665.97" y="177.45" width="8.77" height="44.12" fill="#90d3ca"/>
<rect x="1674.45" y="177.45" width="8.77" height="44.12" fill="#7dccc1"/>
<rect x="1682.92" y="177.45" width="8.77" height="44.12" fill="#f0898c"/>
<rect x="1691.40" y="177.45" width="8.77" height="44.12" fill="#a7dcd5"/>
<rect x="1699.87" y="177.45" width="8.77" height="44.12" fill="#cdebe7"/>
<rect x="1708.34" y="177.45" width="8.77" height="44.12" fill="#fce9ea"/>
<rect x="1716.82" y="177.45" width="8.77" height="44.12" fill="#d5efeb"/>
<rect x="1725.29" y="177.45" width="8.77" height="44.12" fill="#88d0c6"/>
<rect x="1733.77" y="177.45" width="8.77" height="44.12" fill="#cbebe6"/>
<rect x="1742.24" y="177.45" width="8.77" height="44.12" fill="#e1f3f1"/>
<rect x="1750.72" y="177.45" width="8.77" height="44.12" fill="#addfd8"/>
<rect x="1759.19" y="177.45" width="8.77" height="44.12" fill="#c9e9e5"/>
<rect x="1767.67" y="177.45" width="8.77" height="44.12" fill="#d0ece8"/>
<rect x="1776.14" y="177.45" width="8.77" height="44.12" fill="#9ed9d1"/>
<rect x="1784.61" y="177.45" width="8.77" height="44.12" fill="#97d6ce"/>
<rect x="1793.09" y="177.45" width="8.77" height="44.12" fill="#b5e2dc"/>
<rect x="1801.56" y="177.45" width="8.77" height="44.12" fill="#e0f3f0"/>
<rect x="1810.04" y="177.45" width="8.77" height="44.12" fill="#b8e3dd"/>
<rect x="1818.51" y="177.45" width="8.77" height="44.12" fill="#59bdb0"/>
<rect x="1826.99" y="177.45" width="8.77" height="44.12" fill="#84cec4"/>
<rect x="1835.46" y="177.45" width="8.77" height="44.12" fill="#83cec4"/>
<rect x="1843.94" y="177.45" width="8.77" height="44.12" fill="#fef5f6"/>
<rect x="1852.41" y="177.45" width="8.77" height="44.12" fill="#d9f0ed"/>
<rect x="1860.88" y="177.45" width="8.77" height="44.12" fill="#fdeeef"/>
<rect x="1869.36" y="177.45" width="8.77" height="44.12" fill="#b5e2dc"/>
<rect x="1877.83" y="177.45" width="8.77" height="44.12" fill="#69c4b8"/>
<rect x="1886.31" y="177.45" width="8.77" height="44.12" fill="#8bd1c8"/>
<rect x="1894.78" y="177.45" width="8.77" height="44.12" fill="#def2ef"/>
<rect x="1903.26" y="177.45" width="8.77" height="44.12" fill="#fefbfb"/>
<rect x="1911.73" y="177.45" width="8.77" height="44.12" fill="#4fbaab"/>
<rect x="1920.21" y="177.45" width="8.77" height="44.12" fill="#96d6cd"/>
<rect x="1928.68" y="177.45" width="8.77" height="44.12" fill="#9ed9d1"/>
<rect x="1937.15" y="177.45" width="8.77" height="44.12" fill="#97d6ce"/>
<rect x="1945.63" y="177.45" width="8.77" height="44.12" fill="#c6e8e4"/>
<rect x="1954.10" y="177.45" width="8.77" height="44.12" fill="#cdebe7"/>
<rect x="1962.58" y="177.45" width="8.77" height="44.12" fill="#d5eeeb"/>
<rect x="1971.05" y="177.45" width="8.77" height="44.12" fill="#b3e1db"/>
<rect x="1979.53" y="177.45" width="8.77" height="44.12" fill="#83cec4"/>
<rect x="1988.00" y="177.45" width="8.77" height="44.12" fill="#74c8bd"/>
<rect x="1996.48" y="177.45" width="8.77" height="44.12" fill="#c3e7e2"/>
<rect x="2004.95" y="177.45" width="8.77" height="44.12" fill="#9dd8d1"/>
<rect x="2013.42" y="177.45" width="8.77" height="44.12" fill="#1ea694"/>
<rect x="2021.90" y="177.45" width="8.77" height="44.12" fill="#76c9be"/>
<rect x="2030.37" y="177.45" width="8.77" height="44.12" fill="#a7dcd5"/>
<rect x="2038.85" y="177.45" width="8.77" height="44.12" fill="#fdf1f2"/>
<rect x="2047.32" y="177.45" width="8.77" height="44.12" fill="#f8c6c8"/>
<rect x="2055.80" y="177.45" width="8.77" height="44.12" fill="#fffcfc"/>
<rect x="2064.27" y="177.45" width="8.77" height="44.12" fill="#eaf7f5"/>
<rect x="2072.75" y="177.45" width="8.77" height="44.12" fill="#87d0c6"/>
<rect x="2081.22" y="177.45" width="8.77" height="44.12" fill="#a0d9d2"/>
<rect x="2089.69" y="177.45" width="8.77" height="44.12" fill="#a3dbd3"/>
<rect x="2098.17" y="177.45" width="8.77" height="44.12" fill="#67c3b7"/>
<rect x="2106.64" y="177.45" width="8.77" height="44.12" fill="#95d5cd"/>
<rect x="2115.12" y="177.45" width="8.77" height="44.12" fill="#81cdc3"/>
<rect x="2123.59" y="177.45" width="8.77" height="44.12" fill="#c7e9e5"/>
<rect x="2132.07" y="177.45" width="8.77" height="44.12" fill="#d7efec"/>
<rect x="2140.54" y="177.45" width="8.77" height="44.12" fill="#f9ced0"/>
<rect x="2149.02" y="177.45" width="8.77" height="44.12" fill="#84cec4"/>
<rect x="2157.49" y="177.45" width="8.77" height="44.12" fill="#89d0c7"/>
<rect x="2165.96" y="177.45" width="8.77" height="44.12" fill="#73c8bc"/>
<rect x="2174.44" y="177.45" width="8.77" height="44.12" fill="#9cd8d0"/>
<rect x="2182.91" y="177.45" width="8.77" height="44.12" fill="#c9eae5"/>
<rect x="2191.39" y="177.45" width="8.77" height="44.12" fill="#8dd2c9"/>
<rect x="2199.86" y="177.45" width="8.77" height="44.12" fill="#f8c6c8"/>
<rect x="2208.34" y="177.45" width="8.77" height="44.12" fill="#b8e3dd"/>
<rect x="2216.81" y="177.45" width="8.77" height="44.12" fill="#84cec4"/>
<rect x="2225.29" y="177.45" width="8.77" height="44.12" fill="#9cd8d0"/>
<rect x="2233.76" y="177.45" width="8.77" height="44.12" fill="#61c1b4"/>
<rect x="2242.23" y="177.45" width="8.77" height="44.12" fill="#f3a0a2"/>
<rect x="2250.71" y="177.45" width="8.77" height="44.12" fill="#97d6ce"/>
<rect x="2259.18" y="177.45" width="8.77" height="44.12" fill="#def2ef"/>
<rect x="2267.66" y="177.45" width="8.77" height="44.12" fill="#b3e1db"/>
<rect x="2276.13" y="177.45" width="8.77" height="44.12" fill="#f39fa1"/>
<rect x="2284.61" y="177.45" width="8.77" height="44.12" fill="#c3e7e2"/>
<rect x="2293.08" y="177.45" width="8.77" height="44.12" fill="#81cdc3"/>
<rect x="2301.56" y="177.45" width="8.77" height="44.12" fill="#c0e6e1"/>
<rect x="2310.03" y="177.45" width="8.77" height="44.12" fill="#fbe1e2"/>
<rect x="2318.50" y="177.45" width="8.77" height="44.12" fill="#c3e7e2"/>
<rect x="2326.98" y="177.45" width="8.77" height="44.12" fill="#a9ddd6"/>
<rect x="2335.45" y="177.45" width="8.77" height="44.12" fill="#fffcfc"/>
<rect x="2343.93" y="177.45" width="8.77" height="44.12" fill="#59bdb0"/>
<rect x="2352.40" y="177.45" width="8.77" height="44.12" fill="#a7dcd5"/>
<rect x="2360.88" y="177.45" width="8.77" height="44.12" fill="#62c1b4"/>
<rect x="2369.35" y="177.45" width="8.77" height="44.12" fill="#9ed9d1"/>
<rect x="2377.83" y="177.45" width="8.77" height="44.12" fill="#fbe0e1"/>
<rect x="2386.30" y="177.45" width="8.77" height="44.12" fill="#added8"/>
<rect x="2394.77" y="177.45" width="8.77" height="44.12" fill="#ceece8"/>
<rect x="2403.25" y="177.45" width="8.77" height="44.12" fill="#a0d9d2"/>
<rect x="2411.72" y="177.45" width="8.77" height="44.12" fill="#dcf1ee"/>
<rect x="2420.20" y="177.45" width="8.77" height="44.12" fill="#97d6cd"/>
<rect x="2428.67" y="177.45" width="8.77" height="44.12" fill="#f18e91"/>
<rect x="2437.15" y="177.45" width="8.77" height="44.12" fill="#f9cdcf"/>
<rect x="2445.62" y="177.45" width="8.77" height="44.12" fill="#f7bfc0"/>
<rect x="2454.10" y="177.45" width="8.77" height="44.12" fill="#bde5e0"/>
<rect x="2462.57" y="177.45" width="8.77" height="44.12" fill="#e8474c"/>
<rect x="2471.05" y="177.45" width="8.77" height="44.12" fill="#f29496"/>
<rect x="2479.52" y="177.45" width="8.77" height="44.12" fill="#1ea694"/>
<rect x="2487.99" y="177.45" width="8.77" height="44.12" fill="#fad7d8"/>
<rect x="2496.47" y="177.45" width="8.77" height="44.12" fill="#f7bbbd"/>
<rect x="2504.94" y="177.45" width="8.77" height="44.12" fill="#75c9be"/>
<rect x="2513.42" y="177.45" width="8.77" height="44.12" fill="#f3faf9"/>
<rect x="2521.89" y="177.45" width="8.77" height="44.12" fill="#b1e0da"/>
<rect x="2530.37" y="177.45" width="8.77" height="44.12" fill="#f9ccce"/>
<rect x="2538.84" y="177.45" width="8.77" height="44.12" fill="#1ea694"/>
<rect x="2547.32" y="177.45" width="8.77" height="44.12" fill="#e8474c"/>
<rect x="2555.79" y="177.45" width="8.77" height="44.12" fill="#cdebe7"/>
<rect x="2564.26" y="177.45" width="8.77" height="44.12" fill="#d4eeeb"/>
<rect x="2572.74" y="177.45" width="8.77" height="44.12" fill="#1ea694"/>
<rect x="2581.21" y="177.45" width="8.77" height="44.12" fill="#f4a4a6"/>
<rect x="2589.69" y="177.45" width="8.77" height="44.12" fill="#f29396"/>
<rect x="2598.16" y="177.45" width="8.77" height="44.12" fill="#fef9f9"/>
<rect x="2606.64" y="177.45" width="8.77" height="44.12" fill="#f7bec0"/>
<rect x="2615.11" y="177.45" width="8.77" height="44.12" fill="#e6f5f3"/>
<rect x="2623.59" y="177.45" width="8.77" height="44.12" fill="#b5e2dc"/>
<rect x="2632.06" y="177.45" width="8.77" height="44.12" fill="#b1e0da"/>
<rect x="2640.53" y="177.45" width="8.77" height="44.12" fill="#dbf1ee"/>
<rect x="2649.01" y="177.45" width="8.77" height="44.12" fill="#80cdc3"/>
<rect x="2657.48" y="177.45" width="8.77" height="44.12" fill="#c2e7e2"/>
<rect x="2665.96" y="177.45" width="8.77" height="44.12" fill="#a4dbd4"/>
<rect x="2674.43" y="177.45" width="8.77" height="44.12" fill="#bae4de"/>
<rect x="2682.91" y="177.45" width="8.77" height="44.12" fill="#e9f6f4"/>
<rect x="2691.38" y="177.45" width="8.77" height="44.12" fill="#fef9f9"/>
<rect x="2699.86" y="177.45" width="8.77" height="44.12" fill="#d5eeeb"/>
<rect x="2708.33" y="177.45" width="8.77" height="44.12" fill="#94d5cc"/>
<rect x="2716.80" y="177.45" width="8.77" height="44.12" fill="#80cdc3"/>
<rect x="2725.28" y="177.45" width="8.77" height="44.12" fill="#a4dbd4"/>
<rect x="2733.75" y="177.45" width="8.77" height="44.12" fill="#fadbdc"/>
<rect x="2742.23" y="177.45" width="8.77" height="44.12" fill="#8cd1c8"/>
<rect x="2750.70" y="177.45" width="8.77" height="44.12" fill="#aedfd9"/>
<rect x="2759.18" y="177.45" width="8.77" height="44.12" fill="#84cec5"/>
<rect x="2767.65" y="177.45" width="8.77" height="44.12" fill="#bbe4df"/>
<rect x="2776.13" y="177.45" width="8.77" height="44.12" fill="#7acac0"/>
<rect x="1225.30" y="221.28" width="8.77" height="44.12" fill="#45b6a7"/>
<rect x="1233.77" y="221.28" width="8.77" height="44.12" fill="#5abeb0"/>
<rect x="1242.25" y="221.28" width="8.77" height="44.12" fill="#5ebfb2"/>
<rect x="1250.72" y="221.28" width="8.77" height="44.12" fill="#47b6a8"/>
<rect x="1259.20" y="221.28" width="8.77" height="44.12" fill="#51baac"/>
<rect x="1267.67" y="221.28" width="8.77" height="44.12" fill="#7acbc0"/>
<rect x="1276.15" y="221.28" width="8.77" height="44.12" fill="#3db2a3"/>
<rect x="1284.62" y="221.28" width="8.77" height="44.12" fill="#66c2b6"/>
<rect x="1293.10" y="221.28" width="8.77" height="44.12" fill="#26a998"/>
<rect x="1301.57" y="221.28" width="8.77" height="44.12" fill="#22a896"/>
<rect x="1310.04" y="221.28" width="8.77" height="44.12" fill="#a4dbd4"/>
<rect x="1318.52" y="221.28" width="8.77" height="44.12" fill="#65c2b6"/>
<rect x="1326.99" y="221.28" width="8.77" height="44.12" fill="#9fd9d1"/>
<rect x="1335.47" y="221.28" width="8.77" height="44.12" fill="#7acbc0"/>
<rect x="1343.94" y="221.28" width="8.77" height="44.12" fill="#53bbad"/>
<rect x="1352.42" y="221.28" width="8.77" height="44.12" fill="#f6b4b6"/>
<rect x="1360.89" y="221.28" width="8.77" height="44.12" fill="#8dd2c9"/>
<rect x="1369.37" y="221.28" width="8.77" height="44.12" fill="#4eb9ab"/>
<rect x="1377.84" y="221.28" width="8.77" height="44.12" fill="#1ea694"/>
<rect x="1386.31" y="221.28" width="8.77" height="44.12" fill="#34af9e"/>
<rect x="1394.79" y="221.28" width="8.77" height="44.12" fill="#bee5e0"/>
<rect x="1403.26" y="221.28" width="8.77" height="44.12" fill="#23a896"/>
<rect x="1411.74" y="221.28" width="8.77" height="44.12" fill="#51baac"/>
<rect x="1420.21" y="221.28" width="8.77" height="44.12" fill="#56bcaf"/>
<rect x="1428.69" y="221.28" width="8.77" height="44.12" fill="#53bbad"/>
<rect x="1437.16" y="221.28" width="8.77" height="44.12" fill="#5fc0b3"/>
<rect x="1445.64" y="221.28" width="8.77" height="44.12" fill="#43b5a6"/>
<rect x="1454.11" y="221.28" width="8.77" height="44.12" fill="#48b7a8"/>
<rect x="1462.58" y="221.28" width="8.77" height="44.12" fill="#34af9f"/>
<rect x="1471.06" y="221.28" width="8.77" height="44.12" fill="#62c1b4"/>
<rect x="1479.53" y="221.28" width="8.77" height="44.12" fill="#bee5e0"/>
<rect x="1488.01" y="221.28" width="8.77" height="44.12" fill="#5cbeb1"/>
<rect x="1496.48" y="221.28" width="8.77" height="44.12" fill="#1ea694"/>
<rect x="1504.96" y="221.28" width="8.77" height="44.12" fill="#4fb9ab"/>
<rect x="1513.43" y="221.28" width="8.77" height="44.12" fill="#3fb3a4"/>
<rect x="1521.91" y="221.28" width="8.77" height="44.12" fill="#55bcae"/>
<rect x="1530.38" y="221.28" width="8.77" height="44.12" fill="#6dc5ba"/>
<rect x="1538.85" y="221.28" width="8.77" height="44.12" fill="#f0f9f8"/>
<rect x="1547.33" y="221.28" width="8.77" height="44.12" fill="#78c9bf"/>
<rect x="1555.80" y="221.28" width="8.77" height="44.12" fill="#39b1a1"/>
<rect x="1564.28" y="221.28" width="8.77" height="44.12" fill="#73c8bd"/>
<rect x="1572.75" y="221.28" width="8.77" height="44.12" fill="#84cec5"/>
<rect x="1581.23" y="221.28" width="8.77" height="44.12" fill="#3ab1a1"/>
<rect x="1589.70" y="221.28" width="8.77" height="44.12" fill="#40b3a4"/>
<rect x="1598.18" y="221.28" width="8.77" height="44.12" fill="#73c8bc"/>
<rect x="1606.65" y="221.28" width="8.77" height="44.12" fill="#84cfc5"/>
<rect x="1615.12" y="221.28" width="8.77" height="44.12" fill="#92d4cb"/>
<rect x="1623.60" y="221.28" width="8.77" height="44.12" fill="#6bc4b9"/>
<rect x="1632.07" y="221.28" width="8.77" height="44.12" fill="#ef7e81"/>
<rect x="1640.55" y="221.28" width="8.77" height="44.12" fill="#61c0b4"/>
<rect x="1649.02" y="221.28" width="8.77" height="44.12" fill="#57bdaf"/>
<rect x="1657.50" y="221.28" width="8.77" height="44.12" fill="#3db2a3"/>
<rect x="1665.97" y="221.28" width="8.77" height="44.12" fill="#75c8bd"/>
<rect x="1674.45" y="221.28" width="8.77" height="44.12" fill="#62c1b5"/>
<rect x="1682.92" y="221.28" width="8.77" height="44.12" fill="#f7c0c2"/>
<rect x="1691.40" y="221.28" width="8.77" height="44.12" fill="#5cbfb2"/>
<rect x="1699.87" y="221.28" width="8.77" height="44.12" fill="#c0e6e1"/>
<rect x="1708.34" y="221.28" width="8.77" height="44.12" fill="#fceaeb"/>
<rect x="1716.82" y="221.28" width="8.77" height="44.12" fill="#cfece8"/>
<rect x="1725.29" y="221.28" width="8.77" height="44.12" fill="#53bbad"/>
<rect x="1733.77" y="221.28" width="8.77" height="44.12" fill="#95d5cd"/>
<rect x="1742.24" y="221.28" width="8.77" height="44.12" fill="#a0d9d2"/>
<rect x="1750.72" y="221.28" width="8.77" height="44.12" fill="#8dd2c9"/>
<rect x="1759.19" y="221.28" width="8.77" height="44.12" fill="#e1f3f1"/>
<rect x="1767.67" y="221.28" width="8.77" height="44.12" fill="#6cc5b9"/>
<rect x="1776.14" y="221.28" width="8.77" height="44.12" fill="#6ec6ba"/>
<rect x="1784.61" y="221.28" width="8.77" height="44.12" fill="#65c2b6"/>
<rect x="1793.09" y="221.28" width="8.77" height="44.12" fill="#82cec4"/>
<rect x="1801.56" y="221.28" width="8.77" height="44.12" fill="#afdfd9"/>
<rect x="1810.04" y="221.28" width="8.77" height="44.12" fill="#93d4cc"/>
<rect x="1818.51" y="221.28" width="8.77" height="44.12" fill="#37b0a0"/>
<rect x="1826.99" y="221.28" width="8.77" height="44.12" fill="#45b5a7"/>
<rect x="1835.46" y="221.28" width="8.77" height="44.12" fill="#92d4cb"/>
<rect x="1843.94" y="221.28" width="8.77" height="44.12" fill="#fdf1f1"/>
<rect x="1852.41" y="221.28" width="8.77" height="44.12" fill="#b1e0da"/>
<rect x="1860.88" y="221.28" width="8.77" height="44.12" fill="#7bcbc0"/>
<rect x="1869.36" y="221.28" width="8.77" height="44.12" fill="#96d5cd"/>
<rect x="1877.83" y="221.28" width="8.77" height="44.12" fill="#4db9aa"/>
<rect x="1886.31" y="221.28" width="8.77" height="44.12" fill="#6ec6ba"/>
<rect x="1894.78" y="221.28" width="8.77" height="44.12" fill="#90d3ca"/>
<rect x="1903.26" y="221.28" width="8.77" height="44.12" fill="#a8ddd6"/>
<rect x="1911.73" y="221.28" width="8.77" height="44.12" fill="#1ea694"/>
<rect x="1920.21" y="221.28" width="8.77" height="44.12" fill="#8cd2c8"/>
<rect x="1928.68" y="221.28" width="8.77" height="44.12" fill="#fad5d6"/>
<rect x="1937.15" y="221.28" width="8.77" height="44.12" fill="#8ed2c9"/>
<rect x="1945.63" y="221.28" width="8.77" height="44.12" fill="#97d6ce"/>
<rect x="1954.10" y="221.28" width="8.77" height="44.12" fill="#8cd2c8"/>
<rect x="1962.58" y="221.28" width="8.77" height="44.12" fill="#96d5cd"/>
<rect x="1971.05" y="221.28" width="8.77" height="44.12" fill="#54bbae"/>
<rect x="1979.53" y="221.28" width="8.77" height="44.12" fill="#32ae9d"/>
<rect x="1988.00" y="221.28" width="8.77" height="44.12" fill="#62c1b4"/>
<rect x="1996.48" y="221.28" width="8.77" height="44.12" fill="#bbe4df"/>
<rect x="2004.95" y="221.28" width="8.77" height="44.12" fill="#fce9ea"/>
<rect x="2013.42" y="221.28" width="8.77" height="44.12" fill="#1ea694"/>
<rect x="2021.90" y="221.28" width="8.77" height="44.12" fill="#5cbfb2"/>
<rect x="2030.37" y="221.28" width="8.77" height="44.12" fill="#abded7"/>
<rect x="2038.85" y="221.28" width="8.77" height="44.12" fill="#f8c8c9"/>
<rect x="2047.32" y="221.28" width="8.77" height="44.12" fill="#f29598"/>
<rect x="2055.80" y="221.28" width="8.77" height="44.12" fill="#f7c1c2"/>
<rect x="2064.27" y="221.28" width="8.77" height="44.12" fill="#cbeae6"/>
<rect x="2072.75" y="221.28" width="8.77" height="44.12" fill="#34af9f"/>
<rect x="2081.22" y="221.28" width="8.77" height="44.12" fill="#b6e2dc"/>
<rect x="2089.69" y="221.28" width="8.77" height="44.12" fill="#99d7ce"/>
<rect x="2098.17" y="221.28" width="8.77" height="44.12" fill="#79cabf"/>
<rect x="2106.64" y="221.28" width="8.77" height="44.12" fill="#8ad1c8"/>
<rect x="2115.12" y="221.28" width="8.77" height="44.12" fill="#7ccbc1"/>
<rect x="2123.59" y="221.28" width="8.77" height="44.12" fill="#a0dad2"/>
<rect x="2132.07" y="221.28" width="8.77" height="44.12" fill="#d9f0ed"/>
<rect x="2140.54" y="221.28" width="8.77" height="44.12" fill="#fdf3f3"/>
<rect x="2149.02" y="221.28" width="8.77" height="44.12" fill="#76c9be"/>
<rect x="2157.49" y="221.28" width="8.77" height="44.12" fill="#98d6ce"/>
<rect x="2165.96" y="221.28" width="8.77" height="44.12" fill="#84cec5"/>
<rect x="2174.44" y="221.28" width="8.77" height="44.12" fill="#85cfc5"/>
<rect x="2182.91" y="221.28" width="8.77" height="44.12" fill="#fdeeef"/>
<rect x="2191.39" y="221.28" width="8.77" height="44.12" fill="#79cabf"/>
<rect x="2199.86" y="221.28" width="8.77" height="44.12" fill="#e6f5f3"/>
<rect x="2208.34" y="221.28" width="8.77" height="44.12" fill="#f18d90"/>
<rect x="2216.81" y="221.28" width="8.77" height="44.12" fill="#93d4cb"/>
<rect x="2225.29" y="221.28" width="8.77" height="44.12" fill="#a4dbd4"/>
<rect x="2233.76" y="221.28" width="8.77" height="44.12" fill="#48b7a8"/>
<rect x="2242.23" y="221.28" width="8.77" height="44.12" fill="#e8474c"/>
<rect x="2250.71" y="221.28" width="8.77" height="44.12" fill="#9dd8d1"/>
<rect x="2259.18" y="221.28" width="8.77" height="44.12" fill="#fafdfc"/>
<rect x="2267.66" y="221.28" width="8.77" height="44.12" fill="#b7e3dd"/>
<rect x="2276.13" y="221.28" width="8.77" height="44.12" fill="#f7bfc1"/>
<rect x="2284.61" y="221.28" width="8.77" height="44.12" fill="#a1dad2"/>
<rect x="2293.08" y="221.28" width="8.77" height="44.12" fill="#7ccbc1"/>
<rect x="2301.56" y="221.28" width="8.77" height="44.12" fill="#a5dbd4"/>
<rect x="2310.03" y="221.28" width="8.77" height="44.12" fill="#fce9ea"/>
<rect x="2318.50" y="221.28" width="8.77" height="44.12" fill="#99d7ce"/>
<rect x="2326.98" y="221.28" width="8.77" height="44.12" fill="#b1e0da"/>
<rect x="2335.45" y="221.28" width="8.77" height="44.12" fill="#a4dbd4"/>
<rect x="2343.93" y="221.28" width="8.77" height="44.12" fill="#56bcaf"/>
<rect x="2352.40" y="221.28" width="8.77" height="44.12" fill="#b8e3dd"/>
<rect x="2360.88" y="221.28" width="8.77" height="44.12" fill="#76c9be"/>
<rect x="2369.35" y="221.28" width="8.77" height="44.12" fill="#a6dcd5"/>
<rect x="2377.83" y="221.28" width="8.77" height="44.12" fill="#90d3ca"/>
<rect x="2386.30" y="221.28" width="8.77" height="44.12" fill="#7ccbc1"/>
<rect x="2394.77" y="221.28" width="8.77" height="44.12" fill="#8fd3ca"/>
<rect x="2403.25" y="221.28" width="8.77" height="44.12" fill="#2dac9b"/>
<rect x="2411.72" y="221.28" width="8.77" height="44.12" fill="#acded8"/>
<rect x="2420.20" y="221.28" width="8.77" height="44.12" fill="#59bdb0"/>
<rect x="2428.67" y="221.28" width="8.77" height="44.12" fill="#f39c9e"/>
<rect x="2437.15" y="221.28" width="8.77" height="44.12" fill="#eb6166"/>
<rect x="2445.62" y="221.28" width="8.77" height="44.12" fill="#ec686c"/>
<rect x="2454.10" y="221.28" width="8.77" height="44.12" fill="#7dccc1"/>
<rect x="2462.57" y="221.28" width="8.77" height="44.12" fill="#abded7"/>
<rect x="2471.05" y="221.28" width="8.77" height="44.12" fill="#fdeded"/>
<rect x="2479.52" y="221.28" width="8.77" height="44.12" fill="#ec6569"/>
<rect x="2487.99" y="221.28" width="8.77" height="44.12" fill="#ec6a6e"/>
<rect x="2496.47" y="221.28" width="8.77" height="44.12" fill="#eb6367"/>
<rect x="2504.94" y="221.28" width="8.77" height="44.12" fill="#68c3b7"/>
<rect x="2513.42" y="221.28" width="8.77" height="44.12" fill="#66c3b6"/>
<rect x="2521.89" y="221.28" width="8.77" height="44.12" fill="#fef9fa"/>
<rect x="2530.37" y="221.28" width="8.77" height="44.12" fill="#4eb9ab"/>
<rect x="2538.84" y="221.28" width="8.77" height="44.12" fill="#f6babc"/>
<rect x="2547.32" y="221.28" width="8.77" height="44.12" fill="#e8474c"/>
<rect x="2555.79" y="221.28" width="8.77" height="44.12" fill="#46b6a7"/>
<rect x="2564.26" y="221.28" width="8.77" height="44.12" fill="#fad6d7"/>
<rect x="2572.74" y="221.28" width="8.77" height="44.12" fill="#4ab7a9"/>
<rect x="2581.21" y="221.28" width="8.77" height="44.12" fill="#f19093"/>
<rect x="2589.69" y="221.28" width="8.77" height="44.12" fill="#fbddde"/>
<rect x="2598.16" y="221.28" width="8.77" height="44.12" fill="#9bd7cf"/>
<rect x="2606.64" y="221.28" width="8.77" height="44.12" fill="#fbdedf"/>
<rect x="2615.11" y="221.28" width="8.77" height="44.12" fill="#d8efec"/>
<rect x="2623.59" y="221.28" width="8.77" height="44.12" fill="#fef6f6"/>
<rect x="2632.06" y="221.28" width="8.77" height="44.12" fill="#c3e7e2"/>
<rect x="2640.53" y="221.28" width="8.77" height="44.12" fill="#d9f0ed"/>
<rect x="2649.01" y="221.28" width="8.77" height="44.12" fill="#97d6cd"/>
<rect x="2657.48" y="221.28" width="8.77" height="44.12" fill="#d7efec"/>
<rect x="2665.96" y="221.28" width="8.77" height="44.12" fill="#c2e7e2"/>
<rect x="2674.43" y="221.28" width="8.77" height="44.12" fill="#9fd9d1"/>
<rect x="2682.91" y="221.28" width="8.77" height="44.12" fill="#dcf1ee"/>
<rect x="2691.38" y="221.28" width="8.77" height="44.12" fill="#b9e3de"/>
<rect x="2699.86" y="221.28" width="8.77" height="44.12" fill="#caeae6"/>
<rect x="2708.33" y="221.28" width="8.77" height="44.12" fill="#b7e3dd"/>
<rect x="2716.80" y="221.28" width="8.77" height="44.12" fill="#87d0c6"/>
<rect x="2725.28" y="221.28" width="8.77" height="44.12" fill="#a2dad3"/>
<rect x="2733.75" y="221.28" width="8.77" height="44.12" fill="#fce3e4"/>
<rect x="2742.23" y="221.28" width="8.77" height="44.12" fill="#b3e1db"/>
<rect x="2750.70" y="221.28" width="8.77" height="44.12" fill="#fdf1f2"/>
<rect x="2759.18" y="221.28" width="8.77" height="44.12" fill="#98d6ce"/>
<rect x="2767.65" y="221.28" width="8.77" height="44.12" fill="#fcebeb"/>
<rect x="2776.13" y="221.28" width="8.77" height="44.12" fill="#9ed9d1"/>
<rect x="1225.30" y="265.10" width="8.77" height="44.12" fill="#4db9ab"/>
<rect x="1233.77" y="265.10" width="8.77" height="44.12" fill="#86cfc5"/>
<rect x="1242.25" y="265.10" width="8.77" height="44.12" fill="#7ccbc1"/>
<rect x="1250.72" y="265.10" width="8.77" height="44.12" fill="#71c7bb"/>
<rect x="1259.20" y="265.10" width="8.77" height="44.12" fill="#77c9be"/>
<rect x="1267.67" y="265.10" width="8.77" height="44.12" fill="#afdfd9"/>
<rect x="1276.15" y="265.10" width="8.77" height="44.12" fill="#42b4a5"/>
<rect x="1284.62" y="265.10" width="8.77" height="44.12" fill="#97d6ce"/>
<rect x="1293.10" y="265.10" width="8.77" height="44.12" fill="#78cabf"/>
<rect x="1301.57" y="265.10" width="8.77" height="44.12" fill="#5ebfb2"/>
<rect x="1310.04" y="265.10" width="8.77" height="44.12" fill="#d2edea"/>
<rect x="1318.52" y="265.10" width="8.77" height="44.12" fill="#7eccc1"/>
<rect x="1326.99" y="265.10" width="8.77" height="44.12" fill="#dcf1ee"/>
<rect x="1335.47" y="265.10" width="8.77" height="44.12" fill="#daf0ed"/>
<rect x="1343.94" y="265.10" width="8.77" height="44.12" fill="#5bbeb1"/>
<rect x="1352.42" y="265.10" width="8.77" height="44.12" fill="#8fd3ca"/>
<rect x="1360.89" y="265.10" width="8.77" height="44.12" fill="#89d0c7"/>
<rect x="1369.37" y="265.10" width="8.77" height="44.12" fill="#95d5cd"/>
<rect x="1377.84" y="265.10" width="8.77" height="44.12" fill="#1ea694"/>
<rect x="1386.31" y="265.10" width="8.77" height="44.12" fill="#36af9f"/>
<rect x="1394.79" y="265.10" width="8.77" height="44.12" fill="#f9cfd0"/>
<rect x="1403.26" y="265.10" width="8.77" height="44.12" fill="#3db2a3"/>
<rect x="1411.74" y="265.10" width="8.77" height="44.12" fill="#80cdc3"/>
<rect x="1420.21" y="265.10" width="8.77" height="44.12" fill="#4cb8aa"/>
<rect x="1428.69" y="265.10" width="8.77" height="44.12" fill="#80cdc3"/>
<rect x="1437.16" y="265.10" width="8.77" height="44.12" fill="#83cec4"/>
<rect x="1445.64" y="265.10" width="8.77" height="44.12" fill="#94d5cc"/>
<rect x="1454.11" y="265.10" width="8.77" height="44.12" fill="#35af9f"/>
<rect x="1462.58" y="265.10" width="8.77" height="44.12" fill="#1ea694"/>
<rect x="1471.06" y="265.10" width="8.77" height="44.12" fill="#65c2b6"/>
<rect x="1479.53" y="265.10" width="8.77" height="44.12" fill="#3db2a3"/>
<rect x="1488.01" y="265.10" width="8.77" height="44.12" fill="#60c0b4"/>
<rect x="1496.48" y="265.10" width="8.77" height="44.12" fill="#3fb3a4"/>
<rect x="1504.96" y="265.10" width="8.77" height="44.12" fill="#a9ddd6"/>
<rect x="1513.43" y="265.10" width="8.77" height="44.12" fill="#55bcae"/>
<rect x="1521.91" y="265.10" width="8.77" height="44.12" fill="#74c8bd"/>
<rect x="1530.38" y="265.10" width="8.77" height="44.12" fill="#70c6bb"/>
<rect x="1538.85" y="265.10" width="8.77" height="44.12" fill="#93d4cc"/>
<rect x="1547.33" y="265.10" width="8.77" height="44.12" fill="#acded7"/>
<rect x="1555.80" y="265.10" width="8.77" height="44.12" fill="#36b0a0"/>
<rect x="1564.28" y="265.10" width="8.77" height="44.12" fill="#aedfd9"/>
<rect x="1572.75" y="265.10" width="8.77" height="44.12" fill="#4fb9ab"/>
<rect x="1581.23" y="265.10" width="8.77" height="44.12" fill="#5ebfb2"/>
<rect x="1589.70" y="265.10" width="8.77" height="44.12" fill="#70c6bb"/>
<rect x="1598.18" y="265.10" width="8.77" height="44.12" fill="#b6e2dc"/>
<rect x="1606.65" y="265.10" width="8.77" height="44.12" fill="#9fd9d1"/>
<rect x="1615.12" y="265.10" width="8.77" height="44.12" fill="#5ebfb3"/>
<rect x="1623.60" y="265.10" width="8.77" height="44.12" fill="#5abeb1"/>
<rect x="1632.07" y="265.10" width="8.77" height="44.12" fill="#f7c0c1"/>
<rect x="1640.55" y="265.10" width="8.77" height="44.12" fill="#c7e9e4"/>
<rect x="1649.02" y="265.10" width="8.77" height="44.12" fill="#b1e0da"/>
<rect x="1657.50" y="265.10" width="8.77" height="44.12" fill="#41b4a5"/>
<rect x="1665.97" y="265.10" width="8.77" height="44.12" fill="#89d1c7"/>
<rect x="1674.45" y="265.10" width="8.77" height="44.12" fill="#66c3b6"/>
<rect x="1682.92" y="265.10" width="8.77" height="44.12" fill="#f18d90"/>
<rect x="1691.40" y="265.10" width="8.77" height="44.12" fill="#83cec4"/>
<rect x="1699.87" y="265.10" width="8.77" height="44.12" fill="#bfe6e1"/>
<rect x="1708.34" y="265.10" width="8.77" height="44.12" fill="#f9cecf"/>
<rect x="1716.82" y="265.10" width="8.77" height="44.12" fill="#c8e9e5"/>
<rect x="1725.29" y="265.10" width="8.77" height="44.12" fill="#6dc5ba"/>
<rect x="1733.77" y="265.10" width="8.77" height="44.12" fill="#d0ece9"/>
<rect x="1742.24" y="265.10" width="8.77" height="44.12" fill="#added8"/>
<rect x="1750.72" y="265.10" width="8.77" height="44.12" fill="#fdeeef"/>
<rect x="1759.19" y="265.10" width="8.77" height="44.12" fill="#c7e9e4"/>
<rect x="1767.67" y="265.10" width="8.77" height="44.12" fill="#d9f0ed"/>
<rect x="1776.14" y="265.10" width="8.77" height="44.12" fill="#abded7"/>
<rect x="1784.61" y="265.10" width="8.77" height="44.12" fill="#addfd8"/>
<rect x="1793.09" y="265.10" width="8.77" height="44.12" fill="#a4dbd4"/>
<rect x="1801.56" y="265.10" width="8.77" height="44.12" fill="#cbebe6"/>
<rect x="1810.04" y="265.10" width="8.77" height="44.12" fill="#d1ede9"/>
<rect x="1818.51" y="265.10" width="8.77" height="44.12" fill="#5bbeb1"/>
<rect x="1826.99" y="265.10" width="8.77" height="44.12" fill="#3db2a3"/>
<rect x="1835.46" y="265.10" width="8.77" height="44.12" fill="#9bd8d0"/>
<rect x="1843.94" y="265.10" width="8.77" height="44.12" fill="#fffefe"/>
<rect x="1852.41" y="265.10" width="8.77" height="44.12" fill="#b3e1db"/>
<rect x="1860.88" y="265.10" width="8.77" height="44.12" fill="#ceece8"/>
<rect x="1869.36" y="265.10" width="8.77" height="44.12" fill="#b7e2dd"/>
<rect x="1877.83" y="265.10" width="8.77" height="44.12" fill="#65c2b6"/>
<rect x="1886.31" y="265.10" width="8.77" height="44.12" fill="#d1ede9"/>
<rect x="1894.78" y="265.10" width="8.77" height="44.12" fill="#9cd8d0"/>
<rect x="1903.26" y="265.10" width="8.77" height="44.12" fill="#fbe0e1"/>
<rect x="1911.73" y="265.10" width="8.77" height="44.12" fill="#77c9be"/>
<rect x="1920.21" y="265.10" width="8.77" height="44.12" fill="#a3dbd3"/>
<rect x="1928.68" y="265.10" width="8.77" height="44.12" fill="#8cd2c9"/>
<rect x="1937.15" y="265.10" width="8.77" height="44.12" fill="#5fc0b3"/>
<rect x="1945.63" y="265.10" width="8.77" height="44.12" fill="#fad5d6"/>
<rect x="1954.10" y="265.10" width="8.77" height="44.12" fill="#c5e8e3"/>
<rect x="1962.58" y="265.10" width="8.77" height="44.12" fill="#e7f6f4"/>
<rect x="1971.05" y="265.10" width="8.77" height="44.12" fill="#8fd3ca"/>
<rect x="1979.53" y="265.10" width="8.77" height="44.12" fill="#1ea694"/>
<rect x="1988.00" y="265.10" width="8.77" height="44.12" fill="#3cb2a2"/>
<rect x="1996.48" y="265.10" width="8.77" height="44.12" fill="#c8e9e5"/>
<rect x="2004.95" y="265.10" width="8.77" height="44.12" fill="#97d6ce"/>
<rect x="2013.42" y="265.10" width="8.77" height="44.12" fill="#24a897"/>
<rect x="2021.90" y="265.10" width="8.77" height="44.12" fill="#78c9bf"/>
<rect x="2030.37" y="265.10" width="8.77" height="44.12" fill="#aaddd7"/>
<rect x="2038.85" y="265.10" width="8.77" height="44.12" fill="#fdf2f2"/>
<rect x="2047.32" y="265.10" width="8.77" height="44.12" fill="#f39b9e"/>
<rect x="2055.80" y="265.10" width="8.77" height="44.12" fill="#f8c4c6"/>
<rect x="2064.27" y="265.10" width="8.77" height="44.12" fill="#e2f3f1"/>
<rect x="2072.75" y="265.10" width="8.77" height="44.12" fill="#48b6a8"/>
<rect x="2081.22" y="265.10" width="8.77" height="44.12" fill="#c8e9e5"/>
<rect x="2089.69" y="265.10" width="8.77" height="44.12" fill="#7acac0"/>
<rect x="2098.17" y="265.10" width="8.77" height="44.12" fill="#88d0c6"/>
<rect x="2106.64" y="265.10" width="8.77" height="44.12" fill="#7eccc2"/>
<rect x="2115.12" y="265.10" width="8.77" height="44.12" fill="#81cdc3"/>
<rect x="2123.59" y="265.10" width="8.77" height="44.12" fill="#a7dcd5"/>
<rect x="2132.07" y="265.10" width="8.77" height="44.12" fill="#fdfefe"/>
<rect x="2140.54" y="265.10" width="8.77" height="44.12" fill="#fdf2f3"/>
<rect x="2149.02" y="265.10" width="8.77" height="44.12" fill="#cfece8"/>
<rect x="2157.49" y="265.10" width="8.77" height="44.12" fill="#71c7bc"/>
<rect x="2165.96" y="265.10" width="8.77" height="44.12" fill="#91d4cb"/>
<rect x="2174.44" y="265.10" width="8.77" height="44.12" fill="#8fd3ca"/>
<rect x="2182.91" y="265.10" width="8.77" height="44.12" fill="#d2edea"/>
<rect x="2191.39" y="265.10" width="8.77" height="44.12" fill="#bbe4df"/>
<rect x="2199.86" y="265.10" width="8.77" height="44.12" fill="#fad7d8"/>
<rect x="2208.34" y="265.10" width="8.77" height="44.12" fill="#aedfd8"/>
<rect x="2216.81" y="265.10" width="8.77" height="44.12" fill="#9bd7cf"/>
<rect x="2225.29" y="265.10" width="8.77" height="44.12" fill="#70c6bb"/>
<rect x="2233.76" y="265.10" width="8.77" height="44.12" fill="#67c3b7"/>
<rect x="2242.23" y="265.10" width="8.77" height="44.12" fill="#f4a4a7"/>
<rect x="2250.71" y="265.10" width="8.77" height="44.12" fill="#a6dcd4"/>
<rect x="2259.18" y="265.10" width="8.77" height="44.12" fill="#fce4e5"/>
<rect x="2267.66" y="265.10" width="8.77" height="44.12" fill="#95d5cd"/>
<rect x="2276.13" y="265.10" width="8.77" height="44.12" fill="#f39d9f"/>
<rect x="2284.61" y="265.10" width="8.77" height="44.12" fill="#a7dcd5"/>
<rect x="2293.08" y="265.10" width="8.77" height="44.12" fill="#b1e0da"/>
<rect x="2301.56" y="265.10" width="8.77" height="44.12" fill="#95d5cd"/>
<rect x="2310.03" y="265.10" width="8.77" height="44.12" fill="#f8cacc"/>
<rect x="2318.50" y="265.10" width="8.77" height="44.12" fill="#a5dbd4"/>
<rect x="2326.98" y="265.10" width="8.77" height="44.12" fill="#b9e3de"/>
<rect x="2335.45" y="265.10" width="8.77" height="44.12" fill="#f0f9f8"/>
<rect x="2343.93" y="265.10" width="8.77" height="44.12" fill="#3eb3a3"/>
<rect x="2352.40" y="265.10" width="8.77" height="44.12" fill="#b6e2dc"/>
<rect x="2360.88" y="265.10" width="8.77" height="44.12" fill="#61c0b4"/>
<rect x="2369.35" y="265.10" width="8.77" height="44.12" fill="#bfe6e1"/>
<rect x="2377.83" y="265.10" width="8.77" height="44.12" fill="#bae4de"/>
<rect x="2386.30" y="265.10" width="8.77" height="44.12" fill="#99d7cf"/>
<rect x="2394.77" y="265.10" width="8.77" height="44.12" fill="#fdfefe"/>
<rect x="2403.25" y="265.10" width="8.77" height="44.12" fill="#fef7f7"/>
<rect x="2411.72" y="265.10" width="8.77" height="44.12" fill="#9ad7cf"/>
<rect x="2420.20" y="265.10" width="8.77" height="44.12" fill="#7fcdc2"/>
<rect x="2428.67" y="265.10" width="8.77" height="44.12" fill="#ee7478"/>
<rect x="2437.15" y="265.10" width="8.77" height="44.12" fill="#fcebeb"/>
<rect x="2445.62" y="265.10" width="8.77" height="44.12" fill="#f8c4c6"/>
<rect x="2454.10" y="265.10" width="8.77" height="44.12" fill="#fbddde"/>
<rect x="2462.57" y="265.10" width="8.77" height="44.12" fill="#fcebeb"/>
<rect x="2471.05" y="265.10" width="8.77" height="44.12" fill="#e8474c"/>
<rect x="2479.52" y="265.10" width="8.77" height="44.12" fill="#69c4b8"/>
<rect x="2487.99" y="265.10" width="8.77" height="44.12" fill="#e5f5f3"/>
<rect x="2496.47" y="265.10" width="8.77" height="44.12" fill="#f39ea1"/>
<rect x="2504.94" y="265.10" width="8.77" height="44.12" fill="#f4a7a9"/>
<rect x="2513.42" y="265.10" width="8.77" height="44.12" fill="#ed6c70"/>
<rect x="2521.89" y="265.10" width="8.77" height="44.12" fill="#fad8d9"/>
<rect x="2530.37" y="265.10" width="8.77" height="44.12" fill="#fdeeee"/>
<rect x="2538.84" y="265.10" width="8.77" height="44.12" fill="#fad6d7"/>
<rect x="2547.32" y="265.10" width="8.77" height="44.12" fill="#e8474c"/>
<rect x="2555.79" y="265.10" width="8.77" height="44.12" fill="#fce6e7"/>
<rect x="2564.26" y="265.10" width="8.77" height="44.12" fill="#ec696d"/>
<rect x="2572.74" y="265.10" width="8.77" height="44.12" fill="#5cbeb1"/>
<rect x="2581.21" y="265.10" width="8.77" height="44.12" fill="#f18e91"/>
<rect x="2589.69" y="265.10" width="8.77" height="44.12" fill="#ea555a"/>
<rect x="2598.16" y="265.10" width="8.77" height="44.12" fill="#ea5459"/>
<rect x="2606.64" y="265.10" width="8.77" height="44.12" fill="#e8474c"/>
<rect x="2615.11" y="265.10" width="8.77" height="44.12" fill="#9ed9d1"/>
<rect x="2623.59" y="265.10" width="8.77" height="44.12" fill="#edf8f7"/>
<rect x="2632.06" y="265.10" width="8.77" height="44.12" fill="#fef9f9"/>
<rect x="2640.53" y="265.10" width="8.77" height="44.12" fill="#b5e2dc"/>
<rect x="2649.01" y="265.10" width="8.77" height="44.12" fill="#7eccc2"/>
<rect x="2657.48" y="265.10" width="8.77" height="44.12" fill="#c0e6e1"/>
<rect x="2665.96" y="265.10" width="8.77" height="44.12" fill="#fdf0f1"/>
<rect x="2674.43" y="265.10" width="8.77" height="44.12" fill="#98d6ce"/>
<rect x="2682.91" y="265.10" width="8.77" height="44.12" fill="#d8f0ec"/>
<rect x="2691.38" y="265.10" width="8.77" height="44.12" fill="#b0e0d9"/>
<rect x="2699.86" y="265.10" width="8.77" height="44.12" fill="#c3e7e3"/>
<rect x="2708.33" y="265.10" width="8.77" height="44.12" fill="#f8fcfc"/>
<rect x="2716.80" y="265.10" width="8.77" height="44.12" fill="#a2dad3"/>
<rect x="2725.28" y="265.10" width="8.77" height="44.12" fill="#d5eeeb"/>
<rect x="2733.75" y="265.10" width="8.77" height="44.12" fill="#fef6f6"/>
<rect x="2742.23" y="265.10" width="8.77" height="44.12" fill="#83cec4"/>
<rect x="2750.70" y="265.10" width="8.77" height="44.12" fill="#b2e1da"/>
<rect x="2759.18" y="265.10" width="8.77" height="44.12" fill="#a8ddd6"/>
<rect x="2767.65" y="265.10" width="8.77" height="44.12" fill="#f8c8c9"/>
<rect x="2776.13" y="265.10" width="8.77" height="44.12" fill="#70c6bb"/>
<rect x="1225.30" y="308.93" width="8.77" height="44.12" fill="#f8c6c8"/>
<rect x="1233.77" y="308.93" width="8.77" height="44.12" fill="#f3a1a4"/>
<rect x="1242.25" y="308.93" width="8.77" height="44.12" fill="#fad4d5"/>
<rect x="1250.72" y="308.93" width="8.77" height="44.12" fill="#f39c9f"/>
<rect x="1259.20" y="308.93" width="8.77" height="44.12" fill="#f7c0c1"/>
<rect x="1267.67" y="308.93" width="8.77" height="44.12" fill="#e8474c"/>
<rect x="1276.15" y="308.93" width="8.77" height="44.12" fill="#dbf1ee"/>
<rect x="1284.62" y="308.93" width="8.77" height="44.12" fill="#abded7"/>
<rect x="1293.10" y="308.93" width="8.77" height="44.12" fill="#fcebeb"/>
<rect x="1301.57" y="308.93" width="8.77" height="44.12" fill="#fef6f6"/>
<rect x="1310.04" y="308.93" width="8.77" height="44.12" fill="#ef8386"/>
<rect x="1318.52" y="308.93" width="8.77" height="44.12" fill="#f3a1a4"/>
<rect x="1326.99" y="308.93" width="8.77" height="44.12" fill="#f5fbfa"/>
<rect x="1335.47" y="308.93" width="8.77" height="44.12" fill="#fef8f9"/>
<rect x="1343.94" y="308.93" width="8.77" height="44.12" fill="#fcfefe"/>
<rect x="1352.42" y="308.93" width="8.77" height="44.12" fill="#fef7f7"/>
<rect x="1360.89" y="308.93" width="8.77" height="44.12" fill="#f5acae"/>
<rect x="1369.37" y="308.93" width="8.77" height="44.12" fill="#aaddd7"/>
<rect x="1377.84" y="308.93" width="8.77" height="44.12" fill="#edf8f6"/>
<rect x="1386.31" y="308.93" width="8.77" height="44.12" fill="#f8cbcc"/>
<rect x="1394.79" y="308.93" width="8.77" height="44.12" fill="#bee5e0"/>
<rect x="1403.26" y="308.93" width="8.77" height="44.12" fill="#fad4d5"/>
<rect x="1411.74" y="308.93" width="8.77" height="44.12" fill="#fad9da"/>
<rect x="1420.21" y="308.93" width="8.77" height="44.12" fill="#f9d2d3"/>
<rect x="1428.69" y="308.93" width="8.77" height="44.12" fill="#fdecec"/>
<rect x="1437.16" y="308.93" width="8.77" height="44.12" fill="#f39fa1"/>
<rect x="1445.64" y="308.93" width="8.77" height="44.12" fill="#f6b5b7"/>
<rect x="1454.11" y="308.93" width="8.77" height="44.12" fill="#fce7e7"/>
<rect x="1462.58" y="308.93" width="8.77" height="44.12" fill="#c8e9e5"/>
<rect x="1471.06" y="308.93" width="8.77" height="44.12" fill="#fef5f5"/>
<rect x="1479.53" y="308.93" width="8.77" height="44.12" fill="#f5b3b5"/>
<rect x="1488.01" y="308.93" width="8.77" height="44.12" fill="#f29a9d"/>
<rect x="1496.48" y="308.93" width="8.77" height="44.12" fill="#f4a8ab"/>
<rect x="1504.96" y="308.93" width="8.77" height="44.12" fill="#f5fbfa"/>
<rect x="1513.43" y="308.93" width="8.77" height="44.12" fill="#bae4de"/>
<rect x="1521.91" y="308.93" width="8.77" height="44.12" fill="#bee5e0"/>
<rect x="1530.38" y="308.93" width="8.77" height="44.12" fill="#fdeff0"/>
<rect x="1538.85" y="308.93" width="8.77" height="44.12" fill="#d5eeeb"/>
<rect x="1547.33" y="308.93" width="8.77" height="44.12" fill="#fce7e8"/>
<rect x="1555.80" y="308.93" width="8.77" height="44.12" fill="#f8c5c6"/>
<rect x="1564.28" y="308.93" width="8.77" height="44.12" fill="#f4a4a6"/>
<rect x="1572.75" y="308.93" width="8.77" height="44.12" fill="#f8c7c8"/>
<rect x="1581.23" y="308.93" width="8.77" height="44.12" fill="#f8c9cb"/>
<rect x="1589.70" y="308.93" width="8.77" height="44.12" fill="#daf0ed"/>
<rect x="1598.18" y="308.93" width="8.77" height="44.12" fill="#ed7074"/>
<rect x="1606.65" y="308.93" width="8.77" height="44.12" fill="#e8f6f4"/>
<rect x="1615.12" y="308.93" width="8.77" height="44.12" fill="#8ed2c9"/>
<rect x="1623.60" y="308.93" width="8.77" height="44.12" fill="#f4a6a9"/>
<rect x="1632.07" y="308.93" width="8.77" height="44.12" fill="#a9ddd6"/>
<rect x="1640.55" y="308.93" width="8.77" height="44.12" fill="#b1e0da"/>
<rect x="1649.02" y="308.93" width="8.77" height="44.12" fill="#ed6d71"/>
<rect x="1657.50" y="308.93" width="8.77" height="44.12" fill="#f8c9cb"/>
<rect x="1665.97" y="308.93" width="8.77" height="44.12" fill="#f8c7c9"/>
<rect x="1674.45" y="308.93" width="8.77" height="44.12" fill="#f7bec0"/>
<rect x="1682.92" y="308.93" width="8.77" height="44.12" fill="#fce6e7"/>
<rect x="1691.40" y="308.93" width="8.77" height="44.12" fill="#f7c3c5"/>
<rect x="1699.87" y="308.93" width="8.77" height="44.12" fill="#f7c0c1"/>
<rect x="1708.34" y="308.93" width="8.77" height="44.12" fill="#f8c5c6"/>
<rect x="1716.82" y="308.93" width="8.77" height="44.12" fill="#fdf0f1"/>
<rect x="1725.29" y="308.93" width="8.77" height="44.12" fill="#f7c0c2"/>
<rect x="1733.77" y="308.93" width="8.77" height="44.12" fill="#fad5d6"/>
<rect x="1742.24" y="308.93" width="8.77" height="44.12" fill="#f9cdcf"/>
<rect x="1750.72" y="308.93" width="8.77" height="44.12" fill="#fad4d5"/>
<rect x="1759.19" y="308.93" width="8.77" height="44.12" fill="#d1ede9"/>
<rect x="1767.67" y="308.93" width="8.77" height="44.12" fill="#abded7"/>
<rect x="1776.14" y="308.93" width="8.77" height="44.12" fill="#fce6e6"/>
<rect x="1784.61" y="308.93" width="8.77" height="44.12" fill="#f7bdbf"/>
<rect x="1793.09" y="308.93" width="8.77" height="44.12" fill="#f9cccd"/>
<rect x="1801.56" y="308.93" width="8.77" height="44.12" fill="#f29598"/>
<rect x="1810.04" y="308.93" width="8.77" height="44.12" fill="#c4e8e3"/>
<rect x="1818.51" y="308.93" width="8.77" height="44.12" fill="#f8c6c7"/>
<rect x="1826.99" y="308.93" width="8.77" height="44.12" fill="#f7c0c1"/>
<rect x="1835.46" y="308.93" width="8.77" height="44.12" fill="#f8c4c5"/>
<rect x="1843.94" y="308.93" width="8.77" height="44.12" fill="#f6b4b6"/>
<rect x="1852.41" y="308.93" width="8.77" height="44.12" fill="#d1ede9"/>
<rect x="1860.88" y="308.93" width="8.77" height="44.12" fill="#f18d90"/>
<rect x="1869.36" y="308.93" width="8.77" height="44.12" fill="#f5adaf"/>
<rect x="1877.83" y="308.93" width="8.77" height="44.12" fill="#f5fbfa"/>
<rect x="1886.31" y="308.93" width="8.77" height="44.12" fill="#f8c6c8"/>
<rect x="1894.78" y="308.93" width="8.77" height="44.12" fill="#76c9be"/>
<rect x="1903.26" y="308.93" width="8.77" height="44.12" fill="#fdeff0"/>
<rect x="1911.73" y="308.93" width="8.77" height="44.12" fill="#fad5d6"/>
<rect x="1920.21" y="308.93" width="8.77" height="44.12" fill="#f6b8ba"/>
<rect x="1928.68" y="308.93" width="8.77" height="44.12" fill="#f9cecf"/>
<rect x="1937.15" y="308.93" width="8.77" height="44.12" fill="#a8ddd6"/>
<rect x="1945.63" y="308.93" width="8.77" height="44.12" fill="#fad9da"/>
<rect x="1954.10" y="308.93" width="8.77" height="44.12" fill="#a0d9d2"/>
<rect x="1962.58" y="308.93" width="8.77" height="44.12" fill="#f9cecf"/>
<rect x="1971.05" y="308.93" width="8.77" height="44.12" fill="#9ed9d1"/>
<rect x="1979.53" y="308.93" width="8.77" height="44.12" fill="#f6b7b9"/>
<rect x="1988.00" y="308.93" width="8.77" height="44.12" fill="#fbe3e3"/>
<rect x="1996.48" y="308.93" width="8.77" height="44.12" fill="#f6b6b8"/>
<rect x="2004.95" y="308.93" width="8.77" height="44.12" fill="#fffdfd"/>
<rect x="2013.42" y="308.93" width="8.77" height="44.12" fill="#f2989b"/>
<rect x="2021.90" y="308.93" width="8.77" height="44.12" fill="#e3f4f2"/>
<rect x="2030.37" y="308.93" width="8.77" height="44.12" fill="#ea5b5f"/>
<rect x="2038.85" y="308.93" width="8.77" height="44.12" fill="#e4f4f2"/>
<rect x="2047.32" y="308.93" width="8.77" height="44.12" fill="#f18b8e"/>
<rect x="2055.80" y="308.93" width="8.77" height="44.12" fill="#f8c8ca"/>
<rect x="2064.27" y="308.93" width="8.77" height="44.12" fill="#f7c0c1"/>
<rect x="2072.75" y="308.93" width="8.77" height="44.12" fill="#ef8184"/>
<rect x="2081.22" y="308.93" width="8.77" height="44.12" fill="#f2999c"/>
<rect x="2089.69" y="308.93" width="8.77" height="44.12" fill="#fad7d8"/>
<rect x="2098.17" y="308.93" width="8.77" height="44.12" fill="#ddf2ef"/>
<rect x="2106.64" y="308.93" width="8.77" height="44.12" fill="#f9cfd0"/>
<rect x="2115.12" y="308.93" width="8.77" height="44.12" fill="#ee7477"/>
<rect x="2123.59" y="308.93" width="8.77" height="44.12" fill="#f6b7b9"/>
<rect x="2132.07" y="308.93" width="8.77" height="44.12" fill="#ef8184"/>
<rect x="2140.54" y="308.93" width="8.77" height="44.12" fill="#e94b50"/>
<rect x="2149.02" y="308.93" width="8.77" height="44.12" fill="#f5b3b5"/>
<rect x="2157.49" y="308.93" width="8.77" height="44.12" fill="#fad7d8"/>
<rect x="2165.96" y="308.93" width="8.77" height="44.12" fill="#ee7377"/>
<rect x="2174.44" y="308.93" width="8.77" height="44.12" fill="#fbe0e0"/>
<rect x="2182.91" y="308.93" width="8.77" height="44.12" fill="#c4e8e3"/>
<rect x="2191.39" y="308.93" width="8.77" height="44.12" fill="#dcf1ee"/>
<rect x="2199.86" y="308.93" width="8.77" height="44.12" fill="#fad6d7"/>
<rect x="2208.34" y="308.93" width="8.77" height="44.12" fill="#ee777b"/>
<rect x="2216.81" y="308.93" width="8.77" height="44.12" fill="#f2979a"/>
<rect x="2225.29" y="308.93" width="8.77" height="44.12" fill="#f3a3a5"/>
<rect x="2233.76" y="308.93" width="8.77" height="44.12" fill="#f6b4b6"/>
<rect x="2242.23" y="308.93" width="8.77" height="44.12" fill="#ec6a6e"/>
<rect x="2250.71" y="308.93" width="8.77" height="44.12" fill="#fefafa"/>
<rect x="2259.18" y="308.93" width="8.77" height="44.12" fill="#f5b3b5"/>
<rect x="2267.66" y="308.93" width="8.77" height="44.12" fill="#f19194"/>
<rect x="2276.13" y="308.93" width="8.77" height="44.12" fill="#e8474c"/>
<rect x="2284.61" y="308.93" width="8.77" height="44.12" fill="#ed6f73"/>
<rect x="2293.08" y="308.93" width="8.77" height="44.12" fill="#e84a4f"/>
<rect x="2301.56" y="308.93" width="8.77" height="44.12" fill="#ec686d"/>
<rect x="2310.03" y="308.93" width="8.77" height="44.12" fill="#f5b3b5"/>
<rect x="2318.50" y="308.93" width="8.77" height="44.12" fill="#ea5a5f"/>
<rect x="2326.98" y="308.93" width="8.77" height="44.12" fill="#ed6e72"/>
<rect x="2335.45" y="308.93" width="8.77" height="44.12" fill="#f08b8e"/>
<rect x="2343.93" y="308.93" width="8.77" height="44.12" fill="#e8494e"/>
<rect x="2352.40" y="308.93" width="8.77" height="44.12" fill="#e84a4f"/>
<rect x="2360.88" y="308.93" width="8.77" height="44.12" fill="#e8474c"/>
<rect x="2369.35" y="308.93" width="8.77" height="44.12" fill="#ef8286"/>
<rect x="2377.83" y="308.93" width="8.77" height="44.12" fill="#f8c4c5"/>
<rect x="2386.30" y="308.93" width="8.77" height="44.12" fill="#eef8f7"/>
<rect x="2394.77" y="308.93" width="8.77" height="44.12" fill="#d6efeb"/>
<rect x="2403.25" y="308.93" width="8.77" height="44.12" fill="#f8c8ca"/>
<rect x="2411.72" y="308.93" width="8.77" height="44.12" fill="#c7e9e4"/>
<rect x="2420.20" y="308.93" width="8.77" height="44.12" fill="#afdfd9"/>
<rect x="2428.67" y="308.93" width="8.77" height="44.12" fill="#f5b1b3"/>
<rect x="2437.15" y="308.93" width="8.77" height="44.12" fill="#c9eae5"/>
<rect x="2445.62" y="308.93" width="8.77" height="44.12" fill="#f8c3c5"/>
<rect x="2454.10" y="308.93" width="8.77" height="44.12" fill="#bde5e0"/>
<rect x="2462.57" y="308.93" width="8.77" height="44.12" fill="#f7c0c2"/>
<rect x="2471.05" y="308.93" width="8.77" height="44.12" fill="#d0ece9"/>
<rect x="2479.52" y="308.93" width="8.77" height="44.12" fill="#fef5f5"/>
<rect x="2487.99" y="308.93" width="8.77" height="44.12" fill="#93d4cc"/>
<rect x="2496.47" y="308.93" width="8.77" height="44.12" fill="#fad7d8"/>
<rect x="2504.94" y="308.93" width="8.77" height="44.12" fill="#f6b8ba"/>
<rect x="2513.42" y="308.93" width="8.77" height="44.12" fill="#98d6ce"/>
<rect x="2521.89" y="308.93" width="8.77" height="44.12" fill="#fffdfd"/>
<rect x="2530.37" y="308.93" width="8.77" height="44.12" fill="#fce3e4"/>
<rect x="2538.84" y="308.93" width="8.77" height="44.12" fill="#fce6e6"/>
<rect x="2547.32" y="308.93" width="8.77" height="44.12" fill="#cdebe7"/>
<rect x="2555.79" y="308.93" width="8.77" height="44.12" fill="#e8474c"/>
<rect x="2564.26" y="308.93" width="8.77" height="44.12" fill="#fadbdc"/>
<rect x="2572.74" y="308.93" width="8.77" height="44.12" fill="#e5f5f3"/>
<rect x="2581.21" y="308.93" width="8.77" height="44.12" fill="#f2faf9"/>
<rect x="2589.69" y="308.93" width="8.77" height="44.12" fill="#fce4e5"/>
<rect x="2598.16" y="308.93" width="8.77" height="44.12" fill="#f9cccd"/>
<rect x="2606.64" y="308.93" width="8.77" height="44.12" fill="#fceaea"/>
<rect x="2615.11" y="308.93" width="8.77" height="44.12" fill="#a6dcd5"/>
<rect x="2623.59" y="308.93" width="8.77" height="44.12" fill="#8ed2c9"/>
<rect x="2632.06" y="308.93" width="8.77" height="44.12" fill="#b4e1db"/>
<rect x="2640.53" y="308.93" width="8.77" height="44.12" fill="#f9cccd"/>
<rect x="2649.01" y="308.93" width="8.77" height="44.12" fill="#bce4df"/>
<rect x="2657.48" y="308.93" width="8.77" height="44.12" fill="#48b7a8"/>
<rect x="2665.96" y="308.93" width="8.77" height="44.12" fill="#fbdfe0"/>
<rect x="2674.43" y="308.93" width="8.77" height="44.12" fill="#fbdbdc"/>
<rect x="2682.91" y="308.93" width="8.77" height="44.12" fill="#fad9da"/>
<rect x="2691.38" y="308.93" width="8.77" height="44.12" fill="#fef6f6"/>
<rect x="2699.86" y="308.93" width="8.77" height="44.12" fill="#ddf2ef"/>
<rect x="2708.33" y="308.93" width="8.77" height="44.12" fill="#a1dad2"/>
<rect x="2716.80" y="308.93" width="8.77" height="44.12" fill="#daf0ee"/>
<rect x="2725.28" y="308.93" width="8.77" height="44.12" fill="#f6b9bb"/>
<rect x="2733.75" y="308.93" width="8.77" height="44.12" fill="#98d6ce"/>
<rect x="2742.23" y="308.93" width="8.77" height="44.12" fill="#c5e8e3"/>
<rect x="2750.70" y="308.93" width="8.77" height="44.12" fill="#fbdedf"/>
<rect x="2759.18" y="308.93" width="8.77" height="44.12" fill="#f08487"/>
<rect x="2767.65" y="308.93" width="8.77" height="44.12" fill="#bae4de"/>
<rect x="2776.13" y="308.93" width="8.77" height="44.12" fill="#fdf2f2"/>
<rect x="1225.30" y="352.75" width="8.77" height="44.12" fill="#fce7e8"/>
<rect x="1233.77" y="352.75" width="8.77" height="44.12" fill="#f3a0a3"/>
<rect x="1242.25" y="352.75" width="8.77" height="44.12" fill="#eaf7f5"/>
<rect x="1250.72" y="352.75" width="8.77" height="44.12" fill="#f5b1b4"/>
<rect x="1259.20" y="352.75" width="8.77" height="44.12" fill="#f18f92"/>
<rect x="1267.67" y="352.75" width="8.77" height="44.12" fill="#e8474c"/>
<rect x="1276.15" y="352.75" width="8.77" height="44.12" fill="#e0f3f0"/>
<rect x="1284.62" y="352.75" width="8.77" height="44.12" fill="#f9d1d2"/>
<rect x="1293.10" y="352.75" width="8.77" height="44.12" fill="#f9d2d3"/>
<rect x="1301.57" y="352.75" width="8.77" height="44.12" fill="#f9d2d3"/>
<rect x="1310.04" y="352.75" width="8.77" height="44.12" fill="#ef8285"/>
<rect x="1318.52" y="352.75" width="8.77" height="44.12" fill="#f3faf9"/>
<rect x="1326.99" y="352.75" width="8.77" height="44.12" fill="#f39fa1"/>
<rect x="1335.47" y="352.75" width="8.77" height="44.12" fill="#fce6e7"/>
<rect x="1343.94" y="352.75" width="8.77" height="44.12" fill="#fef4f4"/>
<rect x="1352.42" y="352.75" width="8.77" height="44.12" fill="#f9d2d3"/>
<rect x="1360.89" y="352.75" width="8.77" height="44.12" fill="#f6b3b6"/>
<rect x="1369.37" y="352.75" width="8.77" height="44.12" fill="#dbf1ee"/>
<rect x="1377.84" y="352.75" width="8.77" height="44.12" fill="#c4e8e3"/>
<rect x="1386.31" y="352.75" width="8.77" height="44.12" fill="#f5b1b3"/>
<rect x="1394.79" y="352.75" width="8.77" height="44.12" fill="#fdf3f3"/>
<rect x="1403.26" y="352.75" width="8.77" height="44.12" fill="#f9d2d3"/>
<rect x="1411.74" y="352.75" width="8.77" height="44.12" fill="#f3a0a3"/>
<rect x="1420.21" y="352.75" width="8.77" height="44.12" fill="#f9d0d2"/>
<rect x="1428.69" y="352.75" width="8.77" height="44.12" fill="#f7fcfb"/>
<rect x="1437.16" y="352.75" width="8.77" height="44.12" fill="#ee767a"/>
<rect x="1445.64" y="352.75" width="8.77" height="44.12" fill="#ef7d81"/>
<rect x="1454.11" y="352.75" width="8.77" height="44.12" fill="#fef4f4"/>
<rect x="1462.58" y="352.75" width="8.77" height="44.12" fill="#fce4e5"/>
<rect x="1471.06" y="352.75" width="8.77" height="44.12" fill="#f7bfc1"/>
<rect x="1479.53" y="352.75" width="8.77" height="44.12" fill="#f18c8f"/>
<rect x="1488.01" y="352.75" width="8.77" height="44.12" fill="#f08a8d"/>
<rect x="1496.48" y="352.75" width="8.77" height="44.12" fill="#f5b2b4"/>
<rect x="1504.96" y="352.75" width="8.77" height="44.12" fill="#eef8f7"/>
<rect x="1513.43" y="352.75" width="8.77" height="44.12" fill="#cdebe7"/>
<rect x="1521.91" y="352.75" width="8.77" height="44.12" fill="#fef7f7"/>
<rect x="1530.38" y="352.75" width="8.77" height="44.12" fill="#f5b0b3"/>
<rect x="1538.85" y="352.75" width="8.77" height="44.12" fill="#fce6e6"/>
<rect x="1547.33" y="352.75" width="8.77" height="44.12" fill="#ed7376"/>
<rect x="1555.80" y="352.75" width="8.77" height="44.12" fill="#f4a8aa"/>
<rect x="1564.28" y="352.75" width="8.77" height="44.12" fill="#f5aeb0"/>
<rect x="1572.75" y="352.75" width="8.77" height="44.12" fill="#fbddde"/>
<rect x="1581.23" y="352.75" width="8.77" height="44.12" fill="#ef8386"/>
<rect x="1589.70" y="352.75" width="8.77" height="44.12" fill="#d7efec"/>
<rect x="1598.18" y="352.75" width="8.77" height="44.12" fill="#ec686c"/>
<rect x="1606.65" y="352.75" width="8.77" height="44.12" fill="#fbdedf"/>
<rect x="1615.12" y="352.75" width="8.77" height="44.12" fill="#c5e8e3"/>
<rect x="1623.60" y="352.75" width="8.77" height="44.12" fill="#fad8d9"/>
<rect x="1632.07" y="352.75" width="8.77" height="44.12" fill="#c8e9e5"/>
<rect x="1640.55" y="352.75" width="8.77" height="44.12" fill="#b2e1db"/>
<rect x="1649.02" y="352.75" width="8.77" height="44.12" fill="#f18d90"/>
<rect x="1657.50" y="352.75" width="8.77" height="44.12" fill="#f2999c"/>
<rect x="1665.97" y="352.75" width="8.77" height="44.12" fill="#f7bec0"/>
<rect x="1674.45" y="352.75" width="8.77" height="44.12" fill="#fffefe"/>
<rect x="1682.92" y="352.75" width="8.77" height="44.12" fill="#f29b9e"/>
<rect x="1691.40" y="352.75" width="8.77" height="44.12" fill="#fffcfc"/>
<rect x="1699.87" y="352.75" width="8.77" height="44.12" fill="#fad8d9"/>
<rect x="1708.34" y="352.75" width="8.77" height="44.12" fill="#f5b0b2"/>
<rect x="1716.82" y="352.75" width="8.77" height="44.12" fill="#f5b2b4"/>
<rect x="1725.29" y="352.75" width="8.77" height="44.12" fill="#d4eeeb"/>
<rect x="1733.77" y="352.75" width="8.77" height="44.12" fill="#fce3e4"/>
<rect x="1742.24" y="352.75" width="8.77" height="44.12" fill="#f4a6a8"/>
<rect x="1750.72" y="352.75" width="8.77" height="44.12" fill="#ecf8f6"/>
<rect x="1759.19" y="352.75" width="8.77" height="44.12" fill="#d2ede9"/>
<rect x="1767.67" y="352.75" width="8.77" height="44.12" fill="#ccebe7"/>
<rect x="1776.14" y="352.75" width="8.77" height="44.12" fill="#fbddde"/>
<rect x="1784.61" y="352.75" width="8.77" height="44.12" fill="#f7bfc1"/>
<rect x="1793.09" y="352.75" width="8.77" height="44.12" fill="#f6b7b9"/>
<rect x="1801.56" y="352.75" width="8.77" height="44.12" fill="#f0868a"/>
<rect x="1810.04" y="352.75" width="8.77" height="44.12" fill="#f9d1d3"/>
<rect x="1818.51" y="352.75" width="8.77" height="44.12" fill="#e8474c"/>
<rect x="1826.99" y="352.75" width="8.77" height="44.12" fill="#f8c5c6"/>
<rect x="1835.46" y="352.75" width="8.77" height="44.12" fill="#f39ea1"/>
<rect x="1843.94" y="352.75" width="8.77" height="44.12" fill="#fbdedf"/>
<rect x="1852.41" y="352.75" width="8.77" height="44.12" fill="#f5fbfa"/>
<rect x="1860.88" y="352.75" width="8.77" height="44.12" fill="#f18e92"/>
<rect x="1869.36" y="352.75" width="8.77" height="44.12" fill="#ef7d80"/>
<rect x="1877.83" y="352.75" width="8.77" height="44.12" fill="#f4a7aa"/>
<rect x="1886.31" y="352.75" width="8.77" height="44.12" fill="#f7bdbf"/>
<rect x="1894.78" y="352.75" width="8.77" height="44.12" fill="#c7e9e4"/>
<rect x="1903.26" y="352.75" width="8.77" height="44.12" fill="#fbdcdd"/>
<rect x="1911.73" y="352.75" width="8.77" height="44.12" fill="#f6b6b8"/>
<rect x="1920.21" y="352.75" width="8.77" height="44.12" fill="#f6b7b9"/>
<rect x="1928.68" y="352.75" width="8.77" height="44.12" fill="#f19295"/>
<rect x="1937.15" y="352.75" width="8.77" height="44.12" fill="#fad8d9"/>
<rect x="1945.63" y="352.75" width="8.77" height="44.12" fill="#f2989b"/>
<rect x="1954.10" y="352.75" width="8.77" height="44.12" fill="#f9cfd0"/>
<rect x="1962.58" y="352.75" width="8.77" height="44.12" fill="#fdf2f2"/>
<rect x="1971.05" y="352.75" width="8.77" height="44.12" fill="#b6e2dc"/>
<rect x="1979.53" y="352.75" width="8.77" height="44.12" fill="#f29699"/>
<rect x="1988.00" y="352.75" width="8.77" height="44.12" fill="#fafdfd"/>
<rect x="1996.48" y="352.75" width="8.77" height="44.12" fill="#f7bec0"/>
<rect x="2004.95" y="352.75" width="8.77" height="44.12" fill="#d1ede9"/>
<rect x="2013.42" y="352.75" width="8.77" height="44.12" fill="#f7bebf"/>
<rect x="2021.90" y="352.75" width="8.77" height="44.12" fill="#fffefe"/>
<rect x="2030.37" y="352.75" width="8.77" height="44.12" fill="#ec676b"/>
<rect x="2038.85" y="352.75" width="8.77" height="44.12" fill="#f8c9cb"/>
<rect x="2047.32" y="352.75" width="8.77" height="44.12" fill="#f19093"/>
<rect x="2055.80" y="352.75" width="8.77" height="44.12" fill="#f4a3a6"/>
<rect x="2064.27" y="352.75" width="8.77" height="44.12" fill="#f9d2d4"/>
<rect x="2072.75" y="352.75" width="8.77" height="44.12" fill="#f2989a"/>
<rect x="2081.22" y="352.75" width="8.77" height="44.12" fill="#f39fa1"/>
<rect x="2089.69" y="352.75" width="8.77" height="44.12" fill="#fad8d9"/>
<rect x="2098.17" y="352.75" width="8.77" height="44.12" fill="#fefafb"/>
<rect x="2106.64" y="352.75" width="8.77" height="44.12" fill="#e4f4f2"/>
<rect x="2115.12" y="352.75" width="8.77" height="44.12" fill="#f29a9d"/>
<rect x="2123.59" y="352.75" width="8.77" height="44.12" fill="#f3a1a3"/>
<rect x="2132.07" y="352.75" width="8.77" height="44.12" fill="#e3f4f1"/>
<rect x="2140.54" y="352.75" width="8.77" height="44.12" fill="#f18f92"/>
<rect x="2149.02" y="352.75" width="8.77" height="44.12" fill="#f3a1a4"/>
<rect x="2157.49" y="352.75" width="8.77" height="44.12" fill="#f5fbfa"/>
<rect x="2165.96" y="352.75" width="8.77" height="44.12" fill="#f18f92"/>
<rect x="2174.44" y="352.75" width="8.77" height="44.12" fill="#fbdcdd"/>
<rect x="2182.91" y="352.75" width="8.77" height="44.12" fill="#f8c3c5"/>
<rect x="2191.39" y="352.75" width="8.77" height="44.12" fill="#f8cacb"/>
<rect x="2199.86" y="352.75" width="8.77" height="44.12" fill="#fbddde"/>
<rect x="2208.34" y="352.75" width="8.77" height="44.12" fill="#ef7c80"/>
<rect x="2216.81" y="352.75" width="8.77" height="44.12" fill="#f5afb1"/>
<rect x="2225.29" y="352.75" width="8.77" height="44.12" fill="#ed6d71"/>
<rect x="2233.76" y="352.75" width="8.77" height="44.12" fill="#f8c6c7"/>
<rect x="2242.23" y="352.75" width="8.77" height="44.12" fill="#eb5f64"/>
<rect x="2250.71" y="352.75" width="8.77" height="44.12" fill="#fefbfb"/>
<rect x="2259.18" y="352.75" width="8.77" height="44.12" fill="#fdeff0"/>
<rect x="2267.66" y="352.75" width="8.77" height="44.12" fill="#f3a1a4"/>
<rect x="2276.13" y="352.75" width="8.77" height="44.12" fill="#ee787c"/>
<rect x="2284.61" y="352.75" width="8.77" height="44.12" fill="#f4a8ab"/>
<rect x="2293.08" y="352.75" width="8.77" height="44.12" fill="#f08387"/>
<rect x="2301.56" y="352.75" width="8.77" height="44.12" fill="#f4a3a6"/>
<rect x="2310.03" y="352.75" width="8.77" height="44.12" fill="#fdefef"/>
<rect x="2318.50" y="352.75" width="8.77" height="44.12" fill="#f5abae"/>
<rect x="2326.98" y="352.75" width="8.77" height="44.12" fill="#fce7e8"/>
<rect x="2335.45" y="352.75" width="8.77" height="44.12" fill="#f7bcbe"/>
<rect x="2343.93" y="352.75" width="8.77" height="44.12" fill="#ef7e81"/>
<rect x="2352.40" y="352.75" width="8.77" height="44.12" fill="#e4f4f2"/>
<rect x="2360.88" y="352.75" width="8.77" height="44.12" fill="#e8474c"/>
<rect x="2369.35" y="352.75" width="8.77" height="44.12" fill="#f9cdce"/>
<rect x="2377.83" y="352.75" width="8.77" height="44.12" fill="#fce5e6"/>
<rect x="2386.30" y="352.75" width="8.77" height="44.12" fill="#f8c9ca"/>
<rect x="2394.77" y="352.75" width="8.77" height="44.12" fill="#a5dcd4"/>
<rect x="2403.25" y="352.75" width="8.77" height="44.12" fill="#fafdfd"/>
<rect x="2411.72" y="352.75" width="8.77" height="44.12" fill="#b1e0da"/>
<rect x="2420.20" y="352.75" width="8.77" height="44.12" fill="#b2e1da"/>
<rect x="2428.67" y="352.75" width="8.77" height="44.12" fill="#f7bfc1"/>
<rect x="2437.15" y="352.75" width="8.77" height="44.12" fill="#fce5e6"/>
<rect x="2445.62" y="352.75" width="8.77" height="44.12" fill="#fad8d9"/>
<rect x="2454.10" y="352.75" width="8.77" height="44.12" fill="#c3e7e3"/>
<rect x="2462.57" y="352.75" width="8.77" height="44.12" fill="#f7c0c1"/>
<rect x="2471.05" y="352.75" width="8.77" height="44.12" fill="#83cec4"/>
<rect x="2479.52" y="352.75" width="8.77" height="44.12" fill="#f9cbcd"/>
<rect x="2487.99" y="352.75" width="8.77" height="44.12" fill="#94d5cc"/>
<rect x="2496.47" y="352.75" width="8.77" height="44.12" fill="#f5b0b2"/>
<rect x="2504.94" y="352.75" width="8.77" height="44.12" fill="#fad7d8"/>
<rect x="2513.42" y="352.75" width="8.77" height="44.12" fill="#9bd7cf"/>
<rect x="2521.89" y="352.75" width="8.77" height="44.12" fill="#fce7e8"/>
<rect x="2530.37" y="352.75" width="8.77" height="44.12" fill="#f4a5a7"/>
<rect x="2538.84" y="352.75" width="8.77" height="44.12" fill="#f5abad"/>
<rect x="2547.32" y="352.75" width="8.77" height="44.12" fill="#dcf1ef"/>
<rect x="2555.79" y="352.75" width="8.77" height="44.12" fill="#e8474c"/>
<rect x="2564.26" y="352.75" width="8.77" height="44.12" fill="#f9d0d2"/>
<rect x="2572.74" y="352.75" width="8.77" height="44.12" fill="#e9f6f5"/>
<rect x="2581.21" y="352.75" width="8.77" height="44.12" fill="#fadbdc"/>
<rect x="2589.69" y="352.75" width="8.77" height="44.12" fill="#f39c9f"/>
<rect x="2598.16" y="352.75" width="8.77" height="44.12" fill="#f29598"/>
<rect x="2606.64" y="352.75" width="8.77" height="44.12" fill="#f8cbcc"/>
<rect x="2615.11" y="352.75" width="8.77" height="44.12" fill="#c1e6e1"/>
<rect x="2623.59" y="352.75" width="8.77" height="44.12" fill="#55bcae"/>
<rect x="2632.06" y="352.75" width="8.77" height="44.12" fill="#ebf7f6"/>
<rect x="2640.53" y="352.75" width="8.77" height="44.12" fill="#f7c2c3"/>
<rect x="2649.01" y="352.75" width="8.77" height="44.12" fill="#f6b7b9"/>
<rect x="2657.48" y="352.75" width="8.77" height="44.12" fill="#c9e9e5"/>
<rect x="2665.96" y="352.75" width="8.77" height="44.12" fill="#f7bec0"/>
<rect x="2674.43" y="352.75" width="8.77" height="44.12" fill="#f8c9ca"/>
<rect x="2682.91" y="352.75" width="8.77" height="44.12" fill="#fdf1f1"/>
<rect x="2691.38" y="352.75" width="8.77" height="44.12" fill="#f7bdbf"/>
<rect x="2699.86" y="352.75" width="8.77" height="44.12" fill="#f8c4c6"/>
<rect x="2708.33" y="352.75" width="8.77" height="44.12" fill="#daf0ed"/>
<rect x="2716.80" y="352.75" width="8.77" height="44.12" fill="#aedfd8"/>
<rect x="2725.28" y="352.75" width="8.77" height="44.12" fill="#f29598"/>
<rect x="2733.75" y="352.75" width="8.77" height="44.12" fill="#5cbeb1"/>
<rect x="2742.23" y="352.75" width="8.77" height="44.12" fill="#d6efeb"/>
<rect x="2750.70" y="352.75" width="8.77" height="44.12" fill="#f39c9f"/>
<rect x="2759.18" y="352.75" width="8.77" height="44.12" fill="#ee7478"/>
<rect x="2767.65" y="352.75" width="8.77" height="44.12" fill="#f4fbfa"/>
<rect x="2776.13" y="352.75" width="8.77" height="44.12" fill="#f4a5a8"/>
<rect x="1225.30" y="396.58" width="8.77" height="44.12" fill="#fadbdc"/>
<rect x="1233.77" y="396.58" width="8.77" height="44.12" fill="#ec676b"/>
<rect x="1242.25" y="396.58" width="8.77" height="44.12" fill="#fad3d5"/>
<rect x="1250.72" y="396.58" width="8.77" height="44.12" fill="#fffdfd"/>
<rect x="1259.20" y="396.58" width="8.77" height="44.12" fill="#ef8386"/>
<rect x="1267.67" y="396.58" width="8.77" height="44.12" fill="#b5e2dc"/>
<rect x="1276.15" y="396.58" width="8.77" height="44.12" fill="#f2989b"/>
<rect x="1284.62" y="396.58" width="8.77" height="44.12" fill="#fce4e5"/>
<rect x="1293.10" y="396.58" width="8.77" height="44.12" fill="#fce9e9"/>
<rect x="1301.57" y="396.58" width="8.77" height="44.12" fill="#f7bfc1"/>
<rect x="1310.04" y="396.58" width="8.77" height="44.12" fill="#f8cacb"/>
<rect x="1318.52" y="396.58" width="8.77" height="44.12" fill="#f08588"/>
<rect x="1326.99" y="396.58" width="8.77" height="44.12" fill="#f4a9ac"/>
<rect x="1335.47" y="396.58" width="8.77" height="44.12" fill="#f6b5b7"/>
<rect x="1343.94" y="396.58" width="8.77" height="44.12" fill="#f8c3c5"/>
<rect x="1352.42" y="396.58" width="8.77" height="44.12" fill="#fce4e4"/>
<rect x="1360.89" y="396.58" width="8.77" height="44.12" fill="#fbfefd"/>
<rect x="1369.37" y="396.58" width="8.77" height="44.12" fill="#f6b6b8"/>
<rect x="1377.84" y="396.58" width="8.77" height="44.12" fill="#b9e4de"/>
<rect x="1386.31" y="396.58" width="8.77" height="44.12" fill="#e5f5f3"/>
<rect x="1394.79" y="396.58" width="8.77" height="44.12" fill="#f8c4c6"/>
<rect x="1403.26" y="396.58" width="8.77" height="44.12" fill="#bce5df"/>
<rect x="1411.74" y="396.58" width="8.77" height="44.12" fill="#eb6266"/>
<rect x="1420.21" y="396.58" width="8.77" height="44.12" fill="#ef7d81"/>
<rect x="1428.69" y="396.58" width="8.77" height="44.12" fill="#f0f9f8"/>
<rect x="1437.16" y="396.58" width="8.77" height="44.12" fill="#fdebec"/>
<rect x="1445.64" y="396.58" width="8.77" height="44.12" fill="#ef7e82"/>
<rect x="1454.11" y="396.58" width="8.77" height="44.12" fill="#fce4e5"/>
<rect x="1462.58" y="396.58" width="8.77" height="44.12" fill="#d0ece9"/>
<rect x="1471.06" y="396.58" width="8.77" height="44.12" fill="#fce5e6"/>
<rect x="1479.53" y="396.58" width="8.77" height="44.12" fill="#fdecec"/>
<rect x="1488.01" y="396.58" width="8.77" height="44.12" fill="#f6b6b8"/>
<rect x="1496.48" y="396.58" width="8.77" height="44.12" fill="#f6b4b6"/>
<rect x="1504.96" y="396.58" width="8.77" height="44.12" fill="#f5afb1"/>
<rect x="1513.43" y="396.58" width="8.77" height="44.12" fill="#e95357"/>
<rect x="1521.91" y="396.58" width="8.77" height="44.12" fill="#daf0ed"/>
<rect x="1530.38" y="396.58" width="8.77" height="44.12" fill="#f8cacb"/>
<rect x="1538.85" y="396.58" width="8.77" height="44.12" fill="#f6b8ba"/>
<rect x="1547.33" y="396.58" width="8.77" height="44.12" fill="#fbdedf"/>
<rect x="1555.80" y="396.58" width="8.77" height="44.12" fill="#eb5d62"/>
<rect x="1564.28" y="396.58" width="8.77" height="44.12" fill="#f9ced0"/>
<rect x="1572.75" y="396.58" width="8.77" height="44.12" fill="#f4a4a6"/>
<rect x="1581.23" y="396.58" width="8.77" height="44.12" fill="#f7c2c4"/>
<rect x="1589.70" y="396.58" width="8.77" height="44.12" fill="#e4f4f2"/>
<rect x="1598.18" y="396.58" width="8.77" height="44.12" fill="#fefbfb"/>
<rect x="1606.65" y="396.58" width="8.77" height="44.12" fill="#f8cacb"/>
<rect x="1615.12" y="396.58" width="8.77" height="44.12" fill="#fdeeee"/>
<rect x="1623.60" y="396.58" width="8.77" height="44.12" fill="#f29b9e"/>
<rect x="1632.07" y="396.58" width="8.77" height="44.12" fill="#f8cbcc"/>
<rect x="1640.55" y="396.58" width="8.77" height="44.12" fill="#f4a4a7"/>
<rect x="1649.02" y="396.58" width="8.77" height="44.12" fill="#f6babc"/>
<rect x="1657.50" y="396.58" width="8.77" height="44.12" fill="#fad5d7"/>
<rect x="1665.97" y="396.58" width="8.77" height="44.12" fill="#f9cdce"/>
<rect x="1674.45" y="396.58" width="8.77" height="44.12" fill="#f6b9bb"/>
<rect x="1682.92" y="396.58" width="8.77" height="44.12" fill="#67c3b7"/>
<rect x="1691.40" y="396.58" width="8.77" height="44.12" fill="#f39ea1"/>
<rect x="1699.87" y="396.58" width="8.77" height="44.12" fill="#f29598"/>
<rect x="1708.34" y="396.58" width="8.77" height="44.12" fill="#f3a3a5"/>
<rect x="1716.82" y="396.58" width="8.77" height="44.12" fill="#fef5f5"/>
<rect x="1725.29" y="396.58" width="8.77" height="44.12" fill="#fbdcdd"/>
<rect x="1733.77" y="396.58" width="8.77" height="44.12" fill="#fadbdc"/>
<rect x="1742.24" y="396.58" width="8.77" height="44.12" fill="#fce8e9"/>
<rect x="1750.72" y="396.58" width="8.77" height="44.12" fill="#f8c5c6"/>
<rect x="1759.19" y="396.58" width="8.77" height="44.12" fill="#fad4d5"/>
<rect x="1767.67" y="396.58" width="8.77" height="44.12" fill="#d0ece9"/>
<rect x="1776.14" y="396.58" width="8.77" height="44.12" fill="#f5aeb0"/>
<rect x="1784.61" y="396.58" width="8.77" height="44.12" fill="#f6babc"/>
<rect x="1793.09" y="396.58" width="8.77" height="44.12" fill="#ec696d"/>
<rect x="1801.56" y="396.58" width="8.77" height="44.12" fill="#f08a8d"/>
<rect x="1810.04" y="396.58" width="8.77" height="44.12" fill="#c5e8e3"/>
<rect x="1818.51" y="396.58" width="8.77" height="44.12" fill="#ed7175"/>
<rect x="1826.99" y="396.58" width="8.77" height="44.12" fill="#f9d1d2"/>
<rect x="1835.46" y="396.58" width="8.77" height="44.12" fill="#f4a6a9"/>
<rect x="1843.94" y="396.58" width="8.77" height="44.12" fill="#fef7f7"/>
<rect x="1852.41" y="396.58" width="8.77" height="44.12" fill="#f6b4b6"/>
<rect x="1860.88" y="396.58" width="8.77" height="44.12" fill="#f7c3c4"/>
<rect x="1869.36" y="396.58" width="8.77" height="44.12" fill="#f39c9f"/>
<rect x="1877.83" y="396.58" width="8.77" height="44.12" fill="#fdf1f2"/>
<rect x="1886.31" y="396.58" width="8.77" height="44.12" fill="#f9d0d1"/>
<rect x="1894.78" y="396.58" width="8.77" height="44.12" fill="#f5fbfa"/>
<rect x="1903.26" y="396.58" width="8.77" height="44.12" fill="#fbdedf"/>
<rect x="1911.73" y="396.58" width="8.77" height="44.12" fill="#f6b5b7"/>
<rect x="1920.21" y="396.58" width="8.77" height="44.12" fill="#f9d1d2"/>
<rect x="1928.68" y="396.58" width="8.77" height="44.12" fill="#fce8e8"/>
<rect x="1937.15" y="396.58" width="8.77" height="44.12" fill="#f8c3c5"/>
<rect x="1945.63" y="396.58" width="8.77" height="44.12" fill="#f8c5c7"/>
<rect x="1954.10" y="396.58" width="8.77" height="44.12" fill="#bae4de"/>
<rect x="1962.58" y="396.58" width="8.77" height="44.12" fill="#ec6b6f"/>
<rect x="1971.05" y="396.58" width="8.77" height="44.12" fill="#f7c1c3"/>
<rect x="1979.53" y="396.58" width="8.77" height="44.12" fill="#e8f6f4"/>
<rect x="1988.00" y="396.58" width="8.77" height="44.12" fill="#fce4e5"/>
<rect x="1996.48" y="396.58" width="8.77" height="44.12" fill="#f7bdbf"/>
<rect x="2004.95" y="396.58" width="8.77" height="44.12" fill="#e95054"/>
<rect x="2013.42" y="396.58" width="8.77" height="44.12" fill="#cbeae6"/>
<rect x="2021.90" y="396.58" width="8.77" height="44.12" fill="#f9ced0"/>
<rect x="2030.37" y="396.58" width="8.77" height="44.12" fill="#f19093"/>
<rect x="2038.85" y="396.58" width="8.77" height="44.12" fill="#f4a7a9"/>
<rect x="2047.32" y="396.58" width="8.77" height="44.12" fill="#f18f92"/>
<rect x="2055.80" y="396.58" width="8.77" height="44.12" fill="#f7c1c3"/>
<rect x="2064.27" y="396.58" width="8.77" height="44.12" fill="#f9d2d3"/>
<rect x="2072.75" y="396.58" width="8.77" height="44.12" fill="#ed6d71"/>
<rect x="2081.22" y="396.58" width="8.77" height="44.12" fill="#f3a0a3"/>
<rect x="2089.69" y="396.58" width="8.77" height="44.12" fill="#fdf1f1"/>
<rect x="2098.17" y="396.58" width="8.77" height="44.12" fill="#fdf1f2"/>
<rect x="2106.64" y="396.58" width="8.77" height="44.12" fill="#f8c4c6"/>
<rect x="2115.12" y="396.58" width="8.77" height="44.12" fill="#ee797c"/>
<rect x="2123.59" y="396.58" width="8.77" height="44.12" fill="#f7c2c4"/>
<rect x="2132.07" y="396.58" width="8.77" height="44.12" fill="#fad3d5"/>
<rect x="2140.54" y="396.58" width="8.77" height="44.12" fill="#f4a6a8"/>
<rect x="2149.02" y="396.58" width="8.77" height="44.12" fill="#ee7579"/>
<rect x="2157.49" y="396.58" width="8.77" height="44.12" fill="#f6b7b8"/>
<rect x="2165.96" y="396.58" width="8.77" height="44.12" fill="#e8474c"/>
<rect x="2174.44" y="396.58" width="8.77" height="44.12" fill="#ed6c70"/>
<rect x="2182.91" y="396.58" width="8.77" height="44.12" fill="#f3a2a5"/>
<rect x="2191.39" y="396.58" width="8.77" height="44.12" fill="#ee7b7e"/>
<rect x="2199.86" y="396.58" width="8.77" height="44.12" fill="#f39ea1"/>
<rect x="2208.34" y="396.58" width="8.77" height="44.12" fill="#ec6a6e"/>
<rect x="2216.81" y="396.58" width="8.77" height="44.12" fill="#ea555a"/>
<rect x="2225.29" y="396.58" width="8.77" height="44.12" fill="#f08a8d"/>
<rect x="2233.76" y="396.58" width="8.77" height="44.12" fill="#fbe1e2"/>
<rect x="2242.23" y="396.58" width="8.77" height="44.12" fill="#fafdfd"/>
<rect x="2250.71" y="396.58" width="8.77" height="44.12" fill="#fceaea"/>
<rect x="2259.18" y="396.58" width="8.77" height="44.12" fill="#f6b6b8"/>
<rect x="2267.66" y="396.58" width="8.77" height="44.12" fill="#f29497"/>
<rect x="2276.13" y="396.58" width="8.77" height="44.12" fill="#fef6f7"/>
<rect x="2284.61" y="396.58" width="8.77" height="44.12" fill="#f4aaac"/>
<rect x="2293.08" y="396.58" width="8.77" height="44.12" fill="#ed6d71"/>
<rect x="2301.56" y="396.58" width="8.77" height="44.12" fill="#f4a8aa"/>
<rect x="2310.03" y="396.58" width="8.77" height="44.12" fill="#f4fafa"/>
<rect x="2318.50" y="396.58" width="8.77" height="44.12" fill="#ef7d80"/>
<rect x="2326.98" y="396.58" width="8.77" height="44.12" fill="#bce5df"/>
<rect x="2335.45" y="396.58" width="8.77" height="44.12" fill="#f9cdcf"/>
<rect x="2343.93" y="396.58" width="8.77" height="44.12" fill="#f39c9f"/>
<rect x="2352.40" y="396.58" width="8.77" height="44.12" fill="#f19295"/>
<rect x="2360.88" y="396.58" width="8.77" height="44.12" fill="#f39da0"/>
<rect x="2369.35" y="396.58" width="8.77" height="44.12" fill="#f5b1b3"/>
<rect x="2377.83" y="396.58" width="8.77" height="44.12" fill="#ec6b6f"/>
<rect x="2386.30" y="396.58" width="8.77" height="44.12" fill="#f3a3a5"/>
<rect x="2394.77" y="396.58" width="8.77" height="44.12" fill="#d8f0ec"/>
<rect x="2403.25" y="396.58" width="8.77" height="44.12" fill="#f7c0c1"/>
<rect x="2411.72" y="396.58" width="8.77" height="44.12" fill="#bce5df"/>
<rect x="2420.20" y="396.58" width="8.77" height="44.12" fill="#f8c8c9"/>
<rect x="2428.67" y="396.58" width="8.77" height="44.12" fill="#dcf1ee"/>
<rect x="2437.15" y="396.58" width="8.77" height="44.12" fill="#a7dcd5"/>
<rect x="2445.62" y="396.58" width="8.77" height="44.12" fill="#e4f4f2"/>
<rect x="2454.10" y="396.58" width="8.77" height="44.12" fill="#fbe3e4"/>
<rect x="2462.57" y="396.58" width="8.77" height="44.12" fill="#fbe1e2"/>
<rect x="2471.05" y="396.58" width="8.77" height="44.12" fill="#fce4e5"/>
<rect x="2479.52" y="396.58" width="8.77" height="44.12" fill="#f8c7c9"/>
<rect x="2487.99" y="396.58" width="8.77" height="44.12" fill="#f4fbfa"/>
<rect x="2496.47" y="396.58" width="8.77" height="44.12" fill="#f9cccd"/>
<rect x="2504.94" y="396.58" width="8.77" height="44.12" fill="#fad5d6"/>
<rect x="2513.42" y="396.58" width="8.77" height="44.12" fill="#ebf7f6"/>
<rect x="2521.89" y="396.58" width="8.77" height="44.12" fill="#e3f4f2"/>
<rect x="2530.37" y="396.58" width="8.77" height="44.12" fill="#edf8f7"/>
<rect x="2538.84" y="396.58" width="8.77" height="44.12" fill="#a0d9d2"/>
<rect x="2547.32" y="396.58" width="8.77" height="44.12" fill="#a8ddd6"/>
<rect x="2555.79" y="396.58" width="8.77" height="44.12" fill="#f39da0"/>
<rect x="2564.26" y="396.58" width="8.77" height="44.12" fill="#f5acaf"/>
<rect x="2572.74" y="396.58" width="8.77" height="44.12" fill="#59bdb0"/>
<rect x="2581.21" y="396.58" width="8.77" height="44.12" fill="#c3e7e3"/>
<rect x="2589.69" y="396.58" width="8.77" height="44.12" fill="#fafdfc"/>
<rect x="2598.16" y="396.58" width="8.77" height="44.12" fill="#f4a5a7"/>
<rect x="2606.64" y="396.58" width="8.77" height="44.12" fill="#f6b6b8"/>
<rect x="2615.11" y="396.58" width="8.77" height="44.12" fill="#b2e1da"/>
<rect x="2623.59" y="396.58" width="8.77" height="44.12" fill="#e7f6f4"/>
<rect x="2632.06" y="396.58" width="8.77" height="44.12" fill="#92d4cb"/>
<rect x="2640.53" y="396.58" width="8.77" height="44.12" fill="#daf0ed"/>
<rect x="2649.01" y="396.58" width="8.77" height="44.12" fill="#fffdfd"/>
<rect x="2657.48" y="396.58" width="8.77" height="44.12" fill="#def2ef"/>
<rect x="2665.96" y="396.58" width="8.77" height="44.12" fill="#e0f3f0"/>
<rect x="2674.43" y="396.58" width="8.77" height="44.12" fill="#bde5e0"/>
<rect x="2682.91" y="396.58" width="8.77" height="44.12" fill="#a0d9d2"/>
<rect x="2691.38" y="396.58" width="8.77" height="44.12" fill="#f7c1c3"/>
<rect x="2699.86" y="396.58" width="8.77" height="44.12" fill="#96d5cd"/>
<rect x="2708.33" y="396.58" width="8.77" height="44.12" fill="#b3e1db"/>
<rect x="2716.80" y="396.58" width="8.77" height="44.12" fill="#caeae6"/>
<rect x="2725.28" y="396.58" width="8.77" height="44.12" fill="#dff2f0"/>
<rect x="2733.75" y="396.58" width="8.77" height="44.12" fill="#fdebec"/>
<rect x="2742.23" y="396.58" width="8.77" height="44.12" fill="#fbdfe0"/>
<rect x="2750.70" y="396.58" width="8.77" height="44.12" fill="#acded7"/>
<rect x="2759.18" y="396.58" width="8.77" height="44.12" fill="#fce7e8"/>
<rect x="2767.65" y="396.58" width="8.77" height="44.12" fill="#d3edea"/>
<rect x="2776.13" y="396.58" width="8.77" height="44.12" fill="#ea5b5f"/>
<rect x="1225.30" y="440.40" width="8.77" height="44.12" fill="#f7c1c2"/>
<rect x="1233.77" y="440.40" width="8.77" height="44.12" fill="#f0898d"/>
<rect x="1242.25" y="440.40" width="8.77" height="44.12" fill="#f29497"/>
<rect x="1250.72" y="440.40" width="8.77" height="44.12" fill="#f9fdfc"/>
<rect x="1259.20" y="440.40" width="8.77" height="44.12" fill="#ec696d"/>
<rect x="1267.67" y="440.40" width="8.77" height="44.12" fill="#c8e9e5"/>
<rect x="1276.15" y="440.40" width="8.77" height="44.12" fill="#f6b6b8"/>
<rect x="1284.62" y="440.40" width="8.77" height="44.12" fill="#e9f6f5"/>
<rect x="1293.10" y="440.40" width="8.77" height="44.12" fill="#fbfdfd"/>
<rect x="1301.57" y="440.40" width="8.77" height="44.12" fill="#f8cbcc"/>
<rect x="1310.04" y="440.40" width="8.77" height="44.12" fill="#f4a5a8"/>
<rect x="1318.52" y="440.40" width="8.77" height="44.12" fill="#f0878a"/>
<rect x="1326.99" y="440.40" width="8.77" height="44.12" fill="#f4a9ac"/>
<rect x="1335.47" y="440.40" width="8.77" height="44.12" fill="#fbfdfd"/>
<rect x="1343.94" y="440.40" width="8.77" height="44.12" fill="#e8f6f4"/>
<rect x="1352.42" y="440.40" width="8.77" height="44.12" fill="#fce7e8"/>
<rect x="1360.89" y="440.40" width="8.77" height="44.12" fill="#caeae6"/>
<rect x="1369.37" y="440.40" width="8.77" height="44.12" fill="#f4a8aa"/>
<rect x="1377.84" y="440.40" width="8.77" height="44.12" fill="#acded8"/>
<rect x="1386.31" y="440.40" width="8.77" height="44.12" fill="#fadbdc"/>
<rect x="1394.79" y="440.40" width="8.77" height="44.12" fill="#f6b4b6"/>
<rect x="1403.26" y="440.40" width="8.77" height="44.12" fill="#f6b7b9"/>
<rect x="1411.74" y="440.40" width="8.77" height="44.12" fill="#fbe1e2"/>
<rect x="1420.21" y="440.40" width="8.77" height="44.12" fill="#f3a0a3"/>
<rect x="1428.69" y="440.40" width="8.77" height="44.12" fill="#d7efec"/>
<rect x="1437.16" y="440.40" width="8.77" height="44.12" fill="#fce9e9"/>
<rect x="1445.64" y="440.40" width="8.77" height="44.12" fill="#f19295"/>
<rect x="1454.11" y="440.40" width="8.77" height="44.12" fill="#dcf1ef"/>
<rect x="1462.58" y="440.40" width="8.77" height="44.12" fill="#b9e3de"/>
<rect x="1471.06" y="440.40" width="8.77" height="44.12" fill="#bde5e0"/>
<rect x="1479.53" y="440.40" width="8.77" height="44.12" fill="#f9d2d3"/>
<rect x="1488.01" y="440.40" width="8.77" height="44.12" fill="#f6bbbc"/>
<rect x="1496.48" y="440.40" width="8.77" height="44.12" fill="#f4aaac"/>
<rect x="1504.96" y="440.40" width="8.77" height="44.12" fill="#fad5d6"/>
<rect x="1513.43" y="440.40" width="8.77" height="44.12" fill="#e95257"/>
<rect x="1521.91" y="440.40" width="8.77" height="44.12" fill="#fafdfd"/>
<rect x="1530.38" y="440.40" width="8.77" height="44.12" fill="#f5b1b3"/>
<rect x="1538.85" y="440.40" width="8.77" height="44.12" fill="#f9cbcd"/>
<rect x="1547.33" y="440.40" width="8.77" height="44.12" fill="#e1f3f1"/>
<rect x="1555.80" y="440.40" width="8.77" height="44.12" fill="#e95257"/>
<rect x="1564.28" y="440.40" width="8.77" height="44.12" fill="#fef6f6"/>
<rect x="1572.75" y="440.40" width="8.77" height="44.12" fill="#f6b4b6"/>
<rect x="1581.23" y="440.40" width="8.77" height="44.12" fill="#fce3e4"/>
<rect x="1589.70" y="440.40" width="8.77" height="44.12" fill="#abded7"/>
<rect x="1598.18" y="440.40" width="8.77" height="44.12" fill="#fdf1f1"/>
<rect x="1606.65" y="440.40" width="8.77" height="44.12" fill="#fdefef"/>
<rect x="1615.12" y="440.40" width="8.77" height="44.12" fill="#d9f0ed"/>
<rect x="1623.60" y="440.40" width="8.77" height="44.12" fill="#f7c2c3"/>
<rect x="1632.07" y="440.40" width="8.77" height="44.12" fill="#fbe2e3"/>
<rect x="1640.55" y="440.40" width="8.77" height="44.12" fill="#f8c5c6"/>
<rect x="1649.02" y="440.40" width="8.77" height="44.12" fill="#f8c8ca"/>
<rect x="1657.50" y="440.40" width="8.77" height="44.12" fill="#f8c5c6"/>
<rect x="1665.97" y="440.40" width="8.77" height="44.12" fill="#fad7d8"/>
<rect x="1674.45" y="440.40" width="8.77" height="44.12" fill="#f9cdcf"/>
<rect x="1682.92" y="440.40" width="8.77" height="44.12" fill="#8ad1c8"/>
<rect x="1691.40" y="440.40" width="8.77" height="44.12" fill="#f29497"/>
<rect x="1699.87" y="440.40" width="8.77" height="44.12" fill="#f7bdbf"/>
<rect x="1708.34" y="440.40" width="8.77" height="44.12" fill="#f5b2b4"/>
<rect x="1716.82" y="440.40" width="8.77" height="44.12" fill="#e0f3f0"/>
<rect x="1725.29" y="440.40" width="8.77" height="44.12" fill="#fad5d6"/>
<rect x="1733.77" y="440.40" width="8.77" height="44.12" fill="#f8c3c5"/>
<rect x="1742.24" y="440.40" width="8.77" height="44.12" fill="#ebf7f5"/>
<rect x="1750.72" y="440.40" width="8.77" height="44.12" fill="#f6b7b9"/>
<rect x="1759.19" y="440.40" width="8.77" height="44.12" fill="#f9cbcd"/>
<rect x="1767.67" y="440.40" width="8.77" height="44.12" fill="#e4f4f2"/>
<rect x="1776.14" y="440.40" width="8.77" height="44.12" fill="#fbddde"/>
<rect x="1784.61" y="440.40" width="8.77" height="44.12" fill="#fbdedf"/>
<rect x="1793.09" y="440.40" width="8.77" height="44.12" fill="#ed7175"/>
<rect x="1801.56" y="440.40" width="8.77" height="44.12" fill="#f08488"/>
<rect x="1810.04" y="440.40" width="8.77" height="44.12" fill="#f6fbfb"/>
<rect x="1818.51" y="440.40" width="8.77" height="44.12" fill="#c3e7e2"/>
<rect x="1826.99" y="440.40" width="8.77" height="44.12" fill="#fdf3f3"/>
<rect x="1835.46" y="440.40" width="8.77" height="44.12" fill="#fad6d7"/>
<rect x="1843.94" y="440.40" width="8.77" height="44.12" fill="#f7fcfb"/>
<rect x="1852.41" y="440.40" width="8.77" height="44.12" fill="#f9cfd1"/>
<rect x="1860.88" y="440.40" width="8.77" height="44.12" fill="#fad7d8"/>
<rect x="1869.36" y="440.40" width="8.77" height="44.12" fill="#ef8084"/>
<rect x="1877.83" y="440.40" width="8.77" height="44.12" fill="#d1ede9"/>
<rect x="1886.31" y="440.40" width="8.77" height="44.12" fill="#ebf7f5"/>
<rect x="1894.78" y="440.40" width="8.77" height="44.12" fill="#fce7e7"/>
<rect x="1903.26" y="440.40" width="8.77" height="44.12" fill="#fadadb"/>
<rect x="1911.73" y="440.40" width="8.77" height="44.12" fill="#fdecec"/>
<rect x="1920.21" y="440.40" width="8.77" height="44.12" fill="#f5afb2"/>
<rect x="1928.68" y="440.40" width="8.77" height="44.12" fill="#f5aeb1"/>
<rect x="1937.15" y="440.40" width="8.77" height="44.12" fill="#f19194"/>
<rect x="1945.63" y="440.40" width="8.77" height="44.12" fill="#f9ccce"/>
<rect x="1954.10" y="440.40" width="8.77" height="44.12" fill="#c3e7e3"/>
<rect x="1962.58" y="440.40" width="8.77" height="44.12" fill="#f19194"/>
<rect x="1971.05" y="440.40" width="8.77" height="44.12" fill="#f7c0c2"/>
<rect x="1979.53" y="440.40" width="8.77" height="44.12" fill="#e1f3f1"/>
<rect x="1988.00" y="440.40" width="8.77" height="44.12" fill="#f2faf9"/>
<rect x="1996.48" y="440.40" width="8.77" height="44.12" fill="#f18b8e"/>
<rect x="2004.95" y="440.40" width="8.77" height="44.12" fill="#e8474c"/>
<rect x="2013.42" y="440.40" width="8.77" height="44.12" fill="#c5e8e3"/>
<rect x="2021.90" y="440.40" width="8.77" height="44.12" fill="#fad7d9"/>
<rect x="2030.37" y="440.40" width="8.77" height="44.12" fill="#f4a7aa"/>
<rect x="2038.85" y="440.40" width="8.77" height="44.12" fill="#f39fa2"/>
<rect x="2047.32" y="440.40" width="8.77" height="44.12" fill="#f18f92"/>
<rect x="2055.80" y="440.40" width="8.77" height="44.12" fill="#f6babc"/>
<rect x="2064.27" y="440.40" width="8.77" height="44.12" fill="#fadadb"/>
<rect x="2072.75" y="440.40" width="8.77" height="44.12" fill="#f08488"/>
<rect x="2081.22" y="440.40" width="8.77" height="44.12" fill="#ef7b7f"/>
<rect x="2089.69" y="440.40" width="8.77" height="44.12" fill="#f7c1c2"/>
<rect x="2098.17" y="440.40" width="8.77" height="44.12" fill="#fefbfb"/>
<rect x="2106.64" y="440.40" width="8.77" height="44.12" fill="#fef7f7"/>
<rect x="2115.12" y="440.40" width="8.77" height="44.12" fill="#f19093"/>
<rect x="2123.59" y="440.40" width="8.77" height="44.12" fill="#f5b1b3"/>
<rect x="2132.07" y="440.40" width="8.77" height="44.12" fill="#9fd9d1"/>
<rect x="2140.54" y="440.40" width="8.77" height="44.12" fill="#fad5d7"/>
<rect x="2149.02" y="440.40" width="8.77" height="44.12" fill="#f19395"/>
<rect x="2157.49" y="440.40" width="8.77" height="44.12" fill="#f5b1b3"/>
<rect x="2165.96" y="440.40" width="8.77" height="44.12" fill="#e8474c"/>
<rect x="2174.44" y="440.40" width="8.77" height="44.12" fill="#ec6a6e"/>
<rect x="2182.91" y="440.40" width="8.77" height="44.12" fill="#f5b2b4"/>
<rect x="2191.39" y="440.40" width="8.77" height="44.12" fill="#ed7074"/>
<rect x="2199.86" y="440.40" width="8.77" height="44.12" fill="#f19396"/>
<rect x="2208.34" y="440.40" width="8.77" height="44.12" fill="#f0898c"/>
<rect x="2216.81" y="440.40" width="8.77" height="44.12" fill="#ee7377"/>
<rect x="2225.29" y="440.40" width="8.77" height="44.12" fill="#f39da0"/>
<rect x="2233.76" y="440.40" width="8.77" height="44.12" fill="#f6fcfb"/>
<rect x="2242.23" y="440.40" width="8.77" height="44.12" fill="#d4eeea"/>
<rect x="2250.71" y="440.40" width="8.77" height="44.12" fill="#fad6d7"/>
<rect x="2259.18" y="440.40" width="8.77" height="44.12" fill="#f7c3c4"/>
<rect x="2267.66" y="440.40" width="8.77" height="44.12" fill="#ed7377"/>
<rect x="2276.13" y="440.40" width="8.77" height="44.12" fill="#fbe2e3"/>
<rect x="2284.61" y="440.40" width="8.77" height="44.12" fill="#f6bbbd"/>
<rect x="2293.08" y="440.40" width="8.77" height="44.12" fill="#f0898c"/>
<rect x="2301.56" y="440.40" width="8.77" height="44.12" fill="#f19093"/>
<rect x="2310.03" y="440.40" width="8.77" height="44.12" fill="#dcf1ef"/>
<rect x="2318.50" y="440.40" width="8.77" height="44.12" fill="#f5b1b3"/>
<rect x="2326.98" y="440.40" width="8.77" height="44.12" fill="#fce9ea"/>
<rect x="2335.45" y="440.40" width="8.77" height="44.12" fill="#fad7d8"/>
<rect x="2343.93" y="440.40" width="8.77" height="44.12" fill="#f29b9e"/>
<rect x="2352.40" y="440.40" width="8.77" height="44.12" fill="#f0878a"/>
<rect x="2360.88" y="440.40" width="8.77" height="44.12" fill="#f4a6a8"/>
<rect x="2369.35" y="440.40" width="8.77" height="44.12" fill="#f4a4a6"/>
<rect x="2377.83" y="440.40" width="8.77" height="44.12" fill="#f4a7a9"/>
<rect x="2386.30" y="440.40" width="8.77" height="44.12" fill="#f4a6a9"/>
<rect x="2394.77" y="440.40" width="8.77" height="44.12" fill="#9ad7cf"/>
<rect x="2403.25" y="440.40" width="8.77" height="44.12" fill="#dbf1ee"/>
<rect x="2411.72" y="440.40" width="8.77" height="44.12" fill="#d8efec"/>
<rect x="2420.20" y="440.40" width="8.77" height="44.12" fill="#f9d2d3"/>
<rect x="2428.67" y="440.40" width="8.77" height="44.12" fill="#fdf0f0"/>
<rect x="2437.15" y="440.40" width="8.77" height="44.12" fill="#79cabf"/>
<rect x="2445.62" y="440.40" width="8.77" height="44.12" fill="#b7e3dd"/>
<rect x="2454.10" y="440.40" width="8.77" height="44.12" fill="#f8c5c7"/>
<rect x="2462.57" y="440.40" width="8.77" height="44.12" fill="#f8c6c7"/>
<rect x="2471.05" y="440.40" width="8.77" height="44.12" fill="#c6e8e4"/>
<rect x="2479.52" y="440.40" width="8.77" height="44.12" fill="#ecf7f6"/>
<rect x="2487.99" y="440.40" width="8.77" height="44.12" fill="#f19295"/>
<rect x="2496.47" y="440.40" width="8.77" height="44.12" fill="#f3faf9"/>
<rect x="2504.94" y="440.40" width="8.77" height="44.12" fill="#fffdfd"/>
<rect x="2513.42" y="440.40" width="8.77" height="44.12" fill="#dcf1ef"/>
<rect x="2521.89" y="440.40" width="8.77" height="44.12" fill="#ceece8"/>
<rect x="2530.37" y="440.40" width="8.77" height="44.12" fill="#c2e7e2"/>
<rect x="2538.84" y="440.40" width="8.77" height="44.12" fill="#eff9f7"/>
<rect x="2547.32" y="440.40" width="8.77" height="44.12" fill="#89d0c7"/>
<rect x="2555.79" y="440.40" width="8.77" height="44.12" fill="#97d6cd"/>
<rect x="2564.26" y="440.40" width="8.77" height="44.12" fill="#fef5f5"/>
<rect x="2572.74" y="440.40" width="8.77" height="44.12" fill="#c8e9e5"/>
<rect x="2581.21" y="440.40" width="8.77" height="44.12" fill="#72c7bc"/>
<rect x="2589.69" y="440.40" width="8.77" height="44.12" fill="#f6b9bb"/>
<rect x="2598.16" y="440.40" width="8.77" height="44.12" fill="#f9cccd"/>
<rect x="2606.64" y="440.40" width="8.77" height="44.12" fill="#fadadb"/>
<rect x="2615.11" y="440.40" width="8.77" height="44.12" fill="#b0e0d9"/>
<rect x="2623.59" y="440.40" width="8.77" height="44.12" fill="#8dd2c9"/>
<rect x="2632.06" y="440.40" width="8.77" height="44.12" fill="#90d3ca"/>
<rect x="2640.53" y="440.40" width="8.77" height="44.12" fill="#c9eae6"/>
<rect x="2649.01" y="440.40" width="8.77" height="44.12" fill="#e7f6f4"/>
<rect x="2657.48" y="440.40" width="8.77" height="44.12" fill="#fdecec"/>
<rect x="2665.96" y="440.40" width="8.77" height="44.12" fill="#92d4cb"/>
<rect x="2674.43" y="440.40" width="8.77" height="44.12" fill="#cbebe6"/>
<rect x="2682.91" y="440.40" width="8.77" height="44.12" fill="#d9f0ed"/>
<rect x="2691.38" y="440.40" width="8.77" height="44.12" fill="#f4a6a8"/>
<rect x="2699.86" y="440.40" width="8.77" height="44.12" fill="#8bd1c8"/>
<rect x="2708.33" y="440.40" width="8.77" height="44.12" fill="#bde5e0"/>
<rect x="2716.80" y="440.40" width="8.77" height="44.12" fill="#aaddd7"/>
<rect x="2725.28" y="440.40" width="8.77" height="44.12" fill="#f9d2d3"/>
<rect x="2733.75" y="440.40" width="8.77" height="44.12" fill="#d1ede9"/>
<rect x="2742.23" y="440.40" width="8.77" height="44.12" fill="#fad6d7"/>
<rect x="2750.70" y="440.40" width="8.77" height="44.12" fill="#86cfc6"/>
<rect x="2759.18" y="440.40" width="8.77" height="44.12" fill="#fad4d5"/>
<rect x="2767.65" y="440.40" width="8.77" height="44.12" fill="#f2faf9"/>
<rect x="2776.13" y="440.40" width="8.77" height="44.12" fill="#e84a4f"/>
<rect x="1225.30" y="484.23" width="8.77" height="44.12" fill="#f39c9f"/>
<rect x="1233.77" y="484.23" width="8.77" height="44.12" fill="#f6fcfb"/>
<rect x="1242.25" y="484.23" width="8.77" height="44.12" fill="#ef8185"/>
<rect x="1250.72" y="484.23" width="8.77" height="44.12" fill="#f8fcfb"/>
<rect x="1259.20" y="484.23" width="8.77" height="44.12" fill="#c6e8e4"/>
<rect x="1267.67" y="484.23" width="8.77" height="44.12" fill="#fef6f7"/>
<rect x="1276.15" y="484.23" width="8.77" height="44.12" fill="#f8c9ca"/>
<rect x="1284.62" y="484.23" width="8.77" height="44.12" fill="#a5dbd4"/>
<rect x="1293.10" y="484.23" width="8.77" height="44.12" fill="#fef9f9"/>
<rect x="1301.57" y="484.23" width="8.77" height="44.12" fill="#f5b1b3"/>
<rect x="1310.04" y="484.23" width="8.77" height="44.12" fill="#f6b6b8"/>
<rect x="1318.52" y="484.23" width="8.77" height="44.12" fill="#9fd9d1"/>
<rect x="1326.99" y="484.23" width="8.77" height="44.12" fill="#f8c8c9"/>
<rect x="1335.47" y="484.23" width="8.77" height="44.12" fill="#f7bdbf"/>
<rect x="1343.94" y="484.23" width="8.77" height="44.12" fill="#fbdcdd"/>
<rect x="1352.42" y="484.23" width="8.77" height="44.12" fill="#f19295"/>
<rect x="1360.89" y="484.23" width="8.77" height="44.12" fill="#d4eeeb"/>
<rect x="1369.37" y="484.23" width="8.77" height="44.12" fill="#f08a8d"/>
<rect x="1377.84" y="484.23" width="8.77" height="44.12" fill="#f5b1b3"/>
<rect x="1386.31" y="484.23" width="8.77" height="44.12" fill="#e9f6f5"/>
<rect x="1394.79" y="484.23" width="8.77" height="44.12" fill="#f39d9f"/>
<rect x="1403.26" y="484.23" width="8.77" height="44.12" fill="#e8474c"/>
<rect x="1411.74" y="484.23" width="8.77" height="44.12" fill="#ef8083"/>
<rect x="1420.21" y="484.23" width="8.77" height="44.12" fill="#fbe1e1"/>
<rect x="1428.69" y="484.23" width="8.77" height="44.12" fill="#f6b5b7"/>
<rect x="1437.16" y="484.23" width="8.77" height="44.12" fill="#f9cfd0"/>
<rect x="1445.64" y="484.23" width="8.77" height="44.12" fill="#f1f9f8"/>
<rect x="1454.11" y="484.23" width="8.77" height="44.12" fill="#d5eeeb"/>
<rect x="1462.58" y="484.23" width="8.77" height="44.12" fill="#d0ede9"/>
<rect x="1471.06" y="484.23" width="8.77" height="44.12" fill="#f2999c"/>
<rect x="1479.53" y="484.23" width="8.77" height="44.12" fill="#e0f3f0"/>
<rect x="1488.01" y="484.23" width="8.77" height="44.12" fill="#f5afb1"/>
<rect x="1496.48" y="484.23" width="8.77" height="44.12" fill="#fad3d4"/>
<rect x="1504.96" y="484.23" width="8.77" height="44.12" fill="#f3a1a3"/>
<rect x="1513.43" y="484.23" width="8.77" height="44.12" fill="#ec6a6e"/>
<rect x="1521.91" y="484.23" width="8.77" height="44.12" fill="#cfece8"/>
<rect x="1530.38" y="484.23" width="8.77" height="44.12" fill="#fce9ea"/>
<rect x="1538.85" y="484.23" width="8.77" height="44.12" fill="#d8efec"/>
<rect x="1547.33" y="484.23" width="8.77" height="44.12" fill="#f9cdce"/>
<rect x="1555.80" y="484.23" width="8.77" height="44.12" fill="#f4a4a7"/>
<rect x="1564.28" y="484.23" width="8.77" height="44.12" fill="#f4abad"/>
<rect x="1572.75" y="484.23" width="8.77" height="44.12" fill="#f5b1b3"/>
<rect x="1581.23" y="484.23" width="8.77" height="44.12" fill="#f39b9e"/>
<rect x="1589.70" y="484.23" width="8.77" height="44.12" fill="#93d4cc"/>
<rect x="1598.18" y="484.23" width="8.77" height="44.12" fill="#e6f5f3"/>
<rect x="1606.65" y="484.23" width="8.77" height="44.12" fill="#f6b4b6"/>
<rect x="1615.12" y="484.23" width="8.77" height="44.12" fill="#f9cfd1"/>
<rect x="1623.60" y="484.23" width="8.77" height="44.12" fill="#f4aaac"/>
<rect x="1632.07" y="484.23" width="8.77" height="44.12" fill="#fad6d8"/>
<rect x="1640.55" y="484.23" width="8.77" height="44.12" fill="#d8efec"/>
<rect x="1649.02" y="484.23" width="8.77" height="44.12" fill="#f7bdbf"/>
<rect x="1657.50" y="484.23" width="8.77" height="44.12" fill="#f7c0c2"/>
<rect x="1665.97" y="484.23" width="8.77" height="44.12" fill="#f9cdce"/>
<rect x="1674.45" y="484.23" width="8.77" height="44.12" fill="#fad6d7"/>
<rect x="1682.92" y="484.23" width="8.77" height="44.12" fill="#f7c2c4"/>
<rect x="1691.40" y="484.23" width="8.77" height="44.12" fill="#fcfefe"/>
<rect x="1699.87" y="484.23" width="8.77" height="44.12" fill="#f7bdbf"/>
<rect x="1708.34" y="484.23" width="8.77" height="44.12" fill="#e3f4f1"/>
<rect x="1716.82" y="484.23" width="8.77" height="44.12" fill="#f7bec0"/>
<rect x="1725.29" y="484.23" width="8.77" height="44.12" fill="#e8474c"/>
<rect x="1733.77" y="484.23" width="8.77" height="44.12" fill="#e3f4f2"/>
<rect x="1742.24" y="484.23" width="8.77" height="44.12" fill="#ebf7f6"/>
<rect x="1750.72" y="484.23" width="8.77" height="44.12" fill="#fad3d5"/>
<rect x="1759.19" y="484.23" width="8.77" height="44.12" fill="#fad7d8"/>
<rect x="1767.67" y="484.23" width="8.77" height="44.12" fill="#acded8"/>
<rect x="1776.14" y="484.23" width="8.77" height="44.12" fill="#f4a5a7"/>
<rect x="1784.61" y="484.23" width="8.77" height="44.12" fill="#ebf7f6"/>
<rect x="1793.09" y="484.23" width="8.77" height="44.12" fill="#e8f6f4"/>
<rect x="1801.56" y="484.23" width="8.77" height="44.12" fill="#fbdede"/>
<rect x="1810.04" y="484.23" width="8.77" height="44.12" fill="#f4abad"/>
<rect x="1818.51" y="484.23" width="8.77" height="44.12" fill="#fad3d5"/>
<rect x="1826.99" y="484.23" width="8.77" height="44.12" fill="#fef3f4"/>
<rect x="1835.46" y="484.23" width="8.77" height="44.12" fill="#f2989b"/>
<rect x="1843.94" y="484.23" width="8.77" height="44.12" fill="#f4a3a6"/>
<rect x="1852.41" y="484.23" width="8.77" height="44.12" fill="#d0ede9"/>
<rect x="1860.88" y="484.23" width="8.77" height="44.12" fill="#7bcbc0"/>
<rect x="1869.36" y="484.23" width="8.77" height="44.12" fill="#ec666a"/>
<rect x="1877.83" y="484.23" width="8.77" height="44.12" fill="#f8c5c6"/>
<rect x="1886.31" y="484.23" width="8.77" height="44.12" fill="#f3a2a5"/>
<rect x="1894.78" y="484.23" width="8.77" height="44.12" fill="#ef7f83"/>
<rect x="1903.26" y="484.23" width="8.77" height="44.12" fill="#f4a9ac"/>
<rect x="1911.73" y="484.23" width="8.77" height="44.12" fill="#ccebe7"/>
<rect x="1920.21" y="484.23" width="8.77" height="44.12" fill="#ed7074"/>
<rect x="1928.68" y="484.23" width="8.77" height="44.12" fill="#b9e3de"/>
<rect x="1937.15" y="484.23" width="8.77" height="44.12" fill="#f39ea0"/>
<rect x="1945.63" y="484.23" width="8.77" height="44.12" fill="#fce4e5"/>
<rect x="1954.10" y="484.23" width="8.77" height="44.12" fill="#e8f6f4"/>
<rect x="1962.58" y="484.23" width="8.77" height="44.12" fill="#ea595d"/>
<rect x="1971.05" y="484.23" width="8.77" height="44.12" fill="#ee777b"/>
<rect x="1979.53" y="484.23" width="8.77" height="44.12" fill="#f29799"/>
<rect x="1988.00" y="484.23" width="8.77" height="44.12" fill="#f4a6a8"/>
<rect x="1996.48" y="484.23" width="8.77" height="44.12" fill="#fef5f5"/>
<rect x="2004.95" y="484.23" width="8.77" height="44.12" fill="#fce7e7"/>
<rect x="2013.42" y="484.23" width="8.77" height="44.12" fill="#fbdfe0"/>
<rect x="2021.90" y="484.23" width="8.77" height="44.12" fill="#fce9ea"/>
<rect x="2030.37" y="484.23" width="8.77" height="44.12" fill="#f7bcbd"/>
<rect x="2038.85" y="484.23" width="8.77" height="44.12" fill="#f7bcbe"/>
<rect x="2047.32" y="484.23" width="8.77" height="44.12" fill="#f9d3d4"/>
<rect x="2055.80" y="484.23" width="8.77" height="44.12" fill="#f2979a"/>
<rect x="2064.27" y="484.23" width="8.77" height="44.12" fill="#d5efeb"/>
<rect x="2072.75" y="484.23" width="8.77" height="44.12" fill="#f6b8ba"/>
<rect x="2081.22" y="484.23" width="8.77" height="44.12" fill="#fbdfe0"/>
<rect x="2089.69" y="484.23" width="8.77" height="44.12" fill="#f7c0c2"/>
<rect x="2098.17" y="484.23" width="8.77" height="44.12" fill="#f1faf9"/>
<rect x="2106.64" y="484.23" width="8.77" height="44.12" fill="#f5b1b4"/>
<rect x="2115.12" y="484.23" width="8.77" height="44.12" fill="#f08487"/>
<rect x="2123.59" y="484.23" width="8.77" height="44.12" fill="#ef7e82"/>
<rect x="2132.07" y="484.23" width="8.77" height="44.12" fill="#f8c5c6"/>
<rect x="2140.54" y="484.23" width="8.77" height="44.12" fill="#f9ced0"/>
<rect x="2149.02" y="484.23" width="8.77" height="44.12" fill="#f3a0a3"/>
<rect x="2157.49" y="484.23" width="8.77" height="44.12" fill="#e4f4f2"/>
<rect x="2165.96" y="484.23" width="8.77" height="44.12" fill="#f4a6a8"/>
<rect x="2174.44" y="484.23" width="8.77" height="44.12" fill="#f4a7a9"/>
<rect x="2182.91" y="484.23" width="8.77" height="44.12" fill="#f5b0b3"/>
<rect x="2191.39" y="484.23" width="8.77" height="44.12" fill="#91d3cb"/>
<rect x="2199.86" y="484.23" width="8.77" height="44.12" fill="#f39d9f"/>
<rect x="2208.34" y="484.23" width="8.77" height="44.12" fill="#f4a4a7"/>
<rect x="2216.81" y="484.23" width="8.77" height="44.12" fill="#f08386"/>
<rect x="2225.29" y="484.23" width="8.77" height="44.12" fill="#e94e53"/>
<rect x="2233.76" y="484.23" width="8.77" height="44.12" fill="#f6b8ba"/>
<rect x="2242.23" y="484.23" width="8.77" height="44.12" fill="#e9f6f5"/>
<rect x="2250.71" y="484.23" width="8.77" height="44.12" fill="#ee7578"/>
<rect x="2259.18" y="484.23" width="8.77" height="44.12" fill="#eaf7f5"/>
<rect x="2267.66" y="484.23" width="8.77" height="44.12" fill="#f18f93"/>
<rect x="2276.13" y="484.23" width="8.77" height="44.12" fill="#e8474c"/>
<rect x="2284.61" y="484.23" width="8.77" height="44.12" fill="#f5fbfa"/>
<rect x="2293.08" y="484.23" width="8.77" height="44.12" fill="#f19194"/>
<rect x="2301.56" y="484.23" width="8.77" height="44.12" fill="#e8484d"/>
<rect x="2310.03" y="484.23" width="8.77" height="44.12" fill="#e4f5f2"/>
<rect x="2318.50" y="484.23" width="8.77" height="44.12" fill="#fad8d9"/>
<rect x="2326.98" y="484.23" width="8.77" height="44.12" fill="#f5b1b4"/>
<rect x="2335.45" y="484.23" width="8.77" height="44.12" fill="#ee777b"/>
<rect x="2343.93" y="484.23" width="8.77" height="44.12" fill="#e8474c"/>
<rect x="2352.40" y="484.23" width="8.77" height="44.12" fill="#f7bcbe"/>
<rect x="2360.88" y="484.23" width="8.77" height="44.12" fill="#fbdcdd"/>
<rect x="2369.35" y="484.23" width="8.77" height="44.12" fill="#f0888b"/>
<rect x="2377.83" y="484.23" width="8.77" height="44.12" fill="#fbe2e3"/>
<rect x="2386.30" y="484.23" width="8.77" height="44.12" fill="#f8c9cb"/>
<rect x="2394.77" y="484.23" width="8.77" height="44.12" fill="#fce5e5"/>
<rect x="2403.25" y="484.23" width="8.77" height="44.12" fill="#cdebe7"/>
<rect x="2411.72" y="484.23" width="8.77" height="44.12" fill="#bce4df"/>
<rect x="2420.20" y="484.23" width="8.77" height="44.12" fill="#fdf2f3"/>
<rect x="2428.67" y="484.23" width="8.77" height="44.12" fill="#fbe0e1"/>
<rect x="2437.15" y="484.23" width="8.77" height="44.12" fill="#81cdc3"/>
<rect x="2445.62" y="484.23" width="8.77" height="44.12" fill="#fbe0e1"/>
<rect x="2454.10" y="484.23" width="8.77" height="44.12" fill="#ccebe7"/>
<rect x="2462.57" y="484.23" width="8.77" height="44.12" fill="#fdefef"/>
<rect x="2471.05" y="484.23" width="8.77" height="44.12" fill="#f8c6c8"/>
<rect x="2479.52" y="484.23" width="8.77" height="44.12" fill="#eff9f8"/>
<rect x="2487.99" y="484.23" width="8.77" height="44.12" fill="#f4fbfa"/>
<rect x="2496.47" y="484.23" width="8.77" height="44.12" fill="#e9f6f5"/>
<rect x="2504.94" y="484.23" width="8.77" height="44.12" fill="#f7bbbd"/>
<rect x="2513.42" y="484.23" width="8.77" height="44.12" fill="#fbfdfd"/>
<rect x="2521.89" y="484.23" width="8.77" height="44.12" fill="#a5dbd4"/>
<rect x="2530.37" y="484.23" width="8.77" height="44.12" fill="#fbe1e2"/>
<rect x="2538.84" y="484.23" width="8.77" height="44.12" fill="#93d4cc"/>
<rect x="2547.32" y="484.23" width="8.77" height="44.12" fill="#fafdfd"/>
<rect x="2555.79" y="484.23" width="8.77" height="44.12" fill="#f8cacb"/>
<rect x="2564.26" y="484.23" width="8.77" height="44.12" fill="#e2f4f1"/>
<rect x="2572.74" y="484.23" width="8.77" height="44.12" fill="#bfe6e1"/>
<rect x="2581.21" y="484.23" width="8.77" height="44.12" fill="#fadbdc"/>
<rect x="2589.69" y="484.23" width="8.77" height="44.12" fill="#fad9da"/>
<rect x="2598.16" y="484.23" width="8.77" height="44.12" fill="#afdfd9"/>
<rect x="2606.64" y="484.23" width="8.77" height="44.12" fill="#b9e3de"/>
<rect x="2615.11" y="484.23" width="8.77" height="44.12" fill="#fef9f9"/>
<rect x="2623.59" y="484.23" width="8.77" height="44.12" fill="#6ec6ba"/>
<rect x="2632.06" y="484.23" width="8.77" height="44.12" fill="#b3e1db"/>
<rect x="2640.53" y="484.23" width="8.77" height="44.12" fill="#f7bcbe"/>
<rect x="2649.01" y="484.23" width="8.77" height="44.12" fill="#c8e9e5"/>
<rect x="2657.48" y="484.23" width="8.77" height="44.12" fill="#d0ede9"/>
<rect x="2665.96" y="484.23" width="8.77" height="44.12" fill="#c9eae5"/>
<rect x="2674.43" y="484.23" width="8.77" height="44.12" fill="#f3a1a3"/>
<rect x="2682.91" y="484.23" width="8.77" height="44.12" fill="#ec666a"/>
<rect x="2691.38" y="484.23" width="8.77" height="44.12" fill="#fcebeb"/>
<rect x="2699.86" y="484.23" width="8.77" height="44.12" fill="#96d5cd"/>
<rect x="2708.33" y="484.23" width="8.77" height="44.12" fill="#8ed2c9"/>
<rect x="2716.80" y="484.23" width="8.77" height="44.12" fill="#fce8e9"/>
<rect x="2725.28" y="484.23" width="8.77" height="44.12" fill="#a0d9d2"/>
<rect x="2733.75" y="484.23" width="8.77" height="44.12" fill="#a1dad2"/>
<rect x="2742.23" y="484.23" width="8.77" height="44.12" fill="#f08386"/>
<rect x="2750.70" y="484.23" width="8.77" height="44.12" fill="#f4aaad"/>
<rect x="2759.18" y="484.23" width="8.77" height="44.12" fill="#fef5f5"/>
<rect x="2767.65" y="484.23" width="8.77" height="44.12" fill="#8cd1c8"/>
<rect x="2776.13" y="484.23" width="8.77" height="44.12" fill="#fce6e6"/>
<rect x="1225.30" y="528.05" width="8.77" height="44.12" fill="#ed6d71"/>
<rect x="1233.77" y="528.05" width="8.77" height="44.12" fill="#f4a9ac"/>
<rect x="1242.25" y="528.05" width="8.77" height="44.12" fill="#e94b50"/>
<rect x="1250.72" y="528.05" width="8.77" height="44.12" fill="#fad4d5"/>
<rect x="1259.20" y="528.05" width="8.77" height="44.12" fill="#c4e8e3"/>
<rect x="1267.67" y="528.05" width="8.77" height="44.12" fill="#fceaea"/>
<rect x="1276.15" y="528.05" width="8.77" height="44.12" fill="#f7bec0"/>
<rect x="1284.62" y="528.05" width="8.77" height="44.12" fill="#9cd8d0"/>
<rect x="1293.10" y="528.05" width="8.77" height="44.12" fill="#f4fbfa"/>
<rect x="1301.57" y="528.05" width="8.77" height="44.12" fill="#f7bbbd"/>
<rect x="1310.04" y="528.05" width="8.77" height="44.12" fill="#ec686c"/>
<rect x="1318.52" y="528.05" width="8.77" height="44.12" fill="#bee5e0"/>
<rect x="1326.99" y="528.05" width="8.77" height="44.12" fill="#f4a8ab"/>
<rect x="1335.47" y="528.05" width="8.77" height="44.12" fill="#f5b2b4"/>
<rect x="1343.94" y="528.05" width="8.77" height="44.12" fill="#f9cdce"/>
<rect x="1352.42" y="528.05" width="8.77" height="44.12" fill="#f6b4b6"/>
<rect x="1360.89" y="528.05" width="8.77" height="44.12" fill="#fce3e4"/>
<rect x="1369.37" y="528.05" width="8.77" height="44.12" fill="#f08a8e"/>
<rect x="1377.84" y="528.05" width="8.77" height="44.12" fill="#f19396"/>
<rect x="1386.31" y="528.05" width="8.77" height="44.12" fill="#f9cfd0"/>
<rect x="1394.79" y="528.05" width="8.77" height="44.12" fill="#f7c1c3"/>
<rect x="1403.26" y="528.05" width="8.77" height="44.12" fill="#e8474c"/>
<rect x="1411.74" y="528.05" width="8.77" height="44.12" fill="#e84a4f"/>
<rect x="1420.21" y="528.05" width="8.77" height="44.12" fill="#fad9da"/>
<rect x="1428.69" y="528.05" width="8.77" height="44.12" fill="#f18f92"/>
<rect x="1437.16" y="528.05" width="8.77" height="44.12" fill="#f5b1b3"/>
<rect x="1445.64" y="528.05" width="8.77" height="44.12" fill="#fef3f4"/>
<rect x="1454.11" y="528.05" width="8.77" height="44.12" fill="#d8f0ed"/>
<rect x="1462.58" y="528.05" width="8.77" height="44.12" fill="#f9d3d4"/>
<rect x="1471.06" y="528.05" width="8.77" height="44.12" fill="#ee777a"/>
<rect x="1479.53" y="528.05" width="8.77" height="44.12" fill="#f8c9cb"/>
<rect x="1488.01" y="528.05" width="8.77" height="44.12" fill="#f4a9ac"/>
<rect x="1496.48" y="528.05" width="8.77" height="44.12" fill="#f6b6b8"/>
<rect x="1504.96" y="528.05" width="8.77" height="44.12" fill="#f29497"/>
<rect x="1513.43" y="528.05" width="8.77" height="44.12" fill="#f0898c"/>
<rect x="1521.91" y="528.05" width="8.77" height="44.12" fill="#edf8f6"/>
<rect x="1530.38" y="528.05" width="8.77" height="44.12" fill="#f3a1a4"/>
<rect x="1538.85" y="528.05" width="8.77" height="44.12" fill="#f5b0b2"/>
<rect x="1547.33" y="528.05" width="8.77" height="44.12" fill="#f5aeb1"/>
<rect x="1555.80" y="528.05" width="8.77" height="44.12" fill="#ed7074"/>
<rect x="1564.28" y="528.05" width="8.77" height="44.12" fill="#f7c1c3"/>
<rect x="1572.75" y="528.05" width="8.77" height="44.12" fill="#f3a2a4"/>
<rect x="1581.23" y="528.05" width="8.77" height="44.12" fill="#f4a7a9"/>
<rect x="1589.70" y="528.05" width="8.77" height="44.12" fill="#b0e0d9"/>
<rect x="1598.18" y="528.05" width="8.77" height="44.12" fill="#fce6e7"/>
<rect x="1606.65" y="528.05" width="8.77" height="44.12" fill="#f39fa2"/>
<rect x="1615.12" y="528.05" width="8.77" height="44.12" fill="#f2999c"/>
<rect x="1623.60" y="528.05" width="8.77" height="44.12" fill="#f6b5b7"/>
<rect x="1632.07" y="528.05" width="8.77" height="44.12" fill="#f08589"/>
<rect x="1640.55" y="528.05" width="8.77" height="44.12" fill="#fbdedf"/>
<rect x="1649.02" y="528.05" width="8.77" height="44.12" fill="#fbdbdc"/>
<rect x="1657.50" y="528.05" width="8.77" height="44.12" fill="#f3a2a4"/>
<rect x="1665.97" y="528.05" width="8.77" height="44.12" fill="#f18f92"/>
<rect x="1674.45" y="528.05" width="8.77" height="44.12" fill="#f9cccd"/>
<rect x="1682.92" y="528.05" width="8.77" height="44.12" fill="#fdeeef"/>
<rect x="1691.40" y="528.05" width="8.77" height="44.12" fill="#f39da0"/>
<rect x="1699.87" y="528.05" width="8.77" height="44.12" fill="#f7bfc1"/>
<rect x="1708.34" y="528.05" width="8.77" height="44.12" fill="#f4a8aa"/>
<rect x="1716.82" y="528.05" width="8.77" height="44.12" fill="#f5aeb0"/>
<rect x="1725.29" y="528.05" width="8.77" height="44.12" fill="#e8474c"/>
<rect x="1733.77" y="528.05" width="8.77" height="44.12" fill="#f6b9bb"/>
<rect x="1742.24" y="528.05" width="8.77" height="44.12" fill="#f4a8ab"/>
<rect x="1750.72" y="528.05" width="8.77" height="44.12" fill="#f6b3b5"/>
<rect x="1759.19" y="528.05" width="8.77" height="44.12" fill="#f9cccd"/>
<rect x="1767.67" y="528.05" width="8.77" height="44.12" fill="#f0f9f8"/>
<rect x="1776.14" y="528.05" width="8.77" height="44.12" fill="#ef7d81"/>
<rect x="1784.61" y="528.05" width="8.77" height="44.12" fill="#fad7d8"/>
<rect x="1793.09" y="528.05" width="8.77" height="44.12" fill="#e6f5f3"/>
<rect x="1801.56" y="528.05" width="8.77" height="44.12" fill="#f3a1a3"/>
<rect x="1810.04" y="528.05" width="8.77" height="44.12" fill="#f08b8e"/>
<rect x="1818.51" y="528.05" width="8.77" height="44.12" fill="#f6babc"/>
<rect x="1826.99" y="528.05" width="8.77" height="44.12" fill="#f8c5c7"/>
<rect x="1835.46" y="528.05" width="8.77" height="44.12" fill="#f8c8c9"/>
<rect x="1843.94" y="528.05" width="8.77" height="44.12" fill="#eb5d62"/>
<rect x="1852.41" y="528.05" width="8.77" height="44.12" fill="#ecf7f6"/>
<rect x="1860.88" y="528.05" width="8.77" height="44.12" fill="#abded7"/>
<rect x="1869.36" y="528.05" width="8.77" height="44.12" fill="#ee797d"/>
<rect x="1877.83" y="528.05" width="8.77" height="44.12" fill="#f9d0d1"/>
<rect x="1886.31" y="528.05" width="8.77" height="44.12" fill="#f39b9e"/>
<rect x="1894.78" y="528.05" width="8.77" height="44.12" fill="#ef8084"/>
<rect x="1903.26" y="528.05" width="8.77" height="44.12" fill="#f0898c"/>
<rect x="1911.73" y="528.05" width="8.77" height="44.12" fill="#e8f6f4"/>
<rect x="1920.21" y="528.05" width="8.77" height="44.12" fill="#e8474c"/>
<rect x="1928.68" y="528.05" width="8.77" height="44.12" fill="#fef8f8"/>
<rect x="1937.15" y="528.05" width="8.77" height="44.12" fill="#f4a8aa"/>
<rect x="1945.63" y="528.05" width="8.77" height="44.12" fill="#f8c5c7"/>
<rect x="1954.10" y="528.05" width="8.77" height="44.12" fill="#f3a0a2"/>
<rect x="1962.58" y="528.05" width="8.77" height="44.12" fill="#f39c9f"/>
<rect x="1971.05" y="528.05" width="8.77" height="44.12" fill="#ef8184"/>
<rect x="1979.53" y="528.05" width="8.77" height="44.12" fill="#f5aeb0"/>
<rect x="1988.00" y="528.05" width="8.77" height="44.12" fill="#ee7a7e"/>
<rect x="1996.48" y="528.05" width="8.77" height="44.12" fill="#fce8e9"/>
<rect x="2004.95" y="528.05" width="8.77" height="44.12" fill="#f7bec0"/>
<rect x="2013.42" y="528.05" width="8.77" height="44.12" fill="#fad8d9"/>
<rect x="2021.90" y="528.05" width="8.77" height="44.12" fill="#f5afb1"/>
<rect x="2030.37" y="528.05" width="8.77" height="44.12" fill="#f7bbbd"/>
<rect x="2038.85" y="528.05" width="8.77" height="44.12" fill="#f29a9d"/>
<rect x="2047.32" y="528.05" width="8.77" height="44.12" fill="#fce4e5"/>
<rect x="2055.80" y="528.05" width="8.77" height="44.12" fill="#f5acae"/>
<rect x="2064.27" y="528.05" width="8.77" height="44.12" fill="#f7c0c2"/>
<rect x="2072.75" y="528.05" width="8.77" height="44.12" fill="#f7c2c3"/>
<rect x="2081.22" y="528.05" width="8.77" height="44.12" fill="#f3a2a4"/>
<rect x="2089.69" y="528.05" width="8.77" height="44.12" fill="#f7c2c3"/>
<rect x="2098.17" y="528.05" width="8.77" height="44.12" fill="#f39ea1"/>
<rect x="2106.64" y="528.05" width="8.77" height="44.12" fill="#f8c4c6"/>
<rect x="2115.12" y="528.05" width="8.77" height="44.12" fill="#f08487"/>
<rect x="2123.59" y="528.05" width="8.77" height="44.12" fill="#ee7478"/>
<rect x="2132.07" y="528.05" width="8.77" height="44.12" fill="#f6b3b5"/>
<rect x="2140.54" y="528.05" width="8.77" height="44.12" fill="#f4aaac"/>
<rect x="2149.02" y="528.05" width="8.77" height="44.12" fill="#f7bcbe"/>
<rect x="2157.49" y="528.05" width="8.77" height="44.12" fill="#f8c5c6"/>
<rect x="2165.96" y="528.05" width="8.77" height="44.12" fill="#ee787b"/>
<rect x="2174.44" y="528.05" width="8.77" height="44.12" fill="#f3a1a3"/>
<rect x="2182.91" y="528.05" width="8.77" height="44.12" fill="#e5f5f3"/>
<rect x="2191.39" y="528.05" width="8.77" height="44.12" fill="#9bd8d0"/>
<rect x="2199.86" y="528.05" width="8.77" height="44.12" fill="#f4a3a6"/>
<rect x="2208.34" y="528.05" width="8.77" height="44.12" fill="#f8c3c5"/>
<rect x="2216.81" y="528.05" width="8.77" height="44.12" fill="#f39ea1"/>
<rect x="2225.29" y="528.05" width="8.77" height="44.12" fill="#ed7175"/>
<rect x="2233.76" y="528.05" width="8.77" height="44.12" fill="#f6b4b6"/>
<rect x="2242.23" y="528.05" width="8.77" height="44.12" fill="#eaf7f5"/>
<rect x="2250.71" y="528.05" width="8.77" height="44.12" fill="#ea565b"/>
<rect x="2259.18" y="528.05" width="8.77" height="44.12" fill="#f7fcfb"/>
<rect x="2267.66" y="528.05" width="8.77" height="44.12" fill="#f4a4a7"/>
<rect x="2276.13" y="528.05" width="8.77" height="44.12" fill="#e8474c"/>
<rect x="2284.61" y="528.05" width="8.77" height="44.12" fill="#f29a9c"/>
<rect x="2293.08" y="528.05" width="8.77" height="44.12" fill="#f5b2b4"/>
<rect x="2301.56" y="528.05" width="8.77" height="44.12" fill="#ef7c80"/>
<rect x="2310.03" y="528.05" width="8.77" height="44.12" fill="#ccebe7"/>
<rect x="2318.50" y="528.05" width="8.77" height="44.12" fill="#f8cbcc"/>
<rect x="2326.98" y="528.05" width="8.77" height="44.12" fill="#e2f3f1"/>
<rect x="2335.45" y="528.05" width="8.77" height="44.12" fill="#f5b2b4"/>
<rect x="2343.93" y="528.05" width="8.77" height="44.12" fill="#ea585d"/>
<rect x="2352.40" y="528.05" width="8.77" height="44.12" fill="#f5aeb1"/>
<rect x="2360.88" y="528.05" width="8.77" height="44.12" fill="#f7bdbe"/>
<rect x="2369.35" y="528.05" width="8.77" height="44.12" fill="#f8c9ca"/>
<rect x="2377.83" y="528.05" width="8.77" height="44.12" fill="#f6b8ba"/>
<rect x="2386.30" y="528.05" width="8.77" height="44.12" fill="#fbe1e2"/>
<rect x="2394.77" y="528.05" width="8.77" height="44.12" fill="#dff2f0"/>
<rect x="2403.25" y="528.05" width="8.77" height="44.12" fill="#d8efec"/>
<rect x="2411.72" y="528.05" width="8.77" height="44.12" fill="#fbfdfd"/>
<rect x="2420.20" y="528.05" width="8.77" height="44.12" fill="#f8fcfc"/>
<rect x="2428.67" y="528.05" width="8.77" height="44.12" fill="#addfd8"/>
<rect x="2437.15" y="528.05" width="8.77" height="44.12" fill="#afdfd9"/>
<rect x="2445.62" y="528.05" width="8.77" height="44.12" fill="#f7c0c2"/>
<rect x="2454.10" y="528.05" width="8.77" height="44.12" fill="#89d0c7"/>
<rect x="2462.57" y="528.05" width="8.77" height="44.12" fill="#fbdedf"/>
<rect x="2471.05" y="528.05" width="8.77" height="44.12" fill="#b7e3dd"/>
<rect x="2479.52" y="528.05" width="8.77" height="44.12" fill="#c1e6e1"/>
<rect x="2487.99" y="528.05" width="8.77" height="44.12" fill="#bae4de"/>
<rect x="2496.47" y="528.05" width="8.77" height="44.12" fill="#f2faf9"/>
<rect x="2504.94" y="528.05" width="8.77" height="44.12" fill="#f39da0"/>
<rect x="2513.42" y="528.05" width="8.77" height="44.12" fill="#f19194"/>
<rect x="2521.89" y="528.05" width="8.77" height="44.12" fill="#8ed2c9"/>
<rect x="2530.37" y="528.05" width="8.77" height="44.12" fill="#f8c4c5"/>
<rect x="2538.84" y="528.05" width="8.77" height="44.12" fill="#d9f0ed"/>
<rect x="2547.32" y="528.05" width="8.77" height="44.12" fill="#f1f9f8"/>
<rect x="2555.79" y="528.05" width="8.77" height="44.12" fill="#fdeeef"/>
<rect x="2564.26" y="528.05" width="8.77" height="44.12" fill="#e1f3f1"/>
<rect x="2572.74" y="528.05" width="8.77" height="44.12" fill="#9ed9d1"/>
<rect x="2581.21" y="528.05" width="8.77" height="44.12" fill="#f8c6c8"/>
<rect x="2589.69" y="528.05" width="8.77" height="44.12" fill="#fbdedf"/>
<rect x="2598.16" y="528.05" width="8.77" height="44.12" fill="#e3f4f2"/>
<rect x="2606.64" y="528.05" width="8.77" height="44.12" fill="#c5e8e3"/>
<rect x="2615.11" y="528.05" width="8.77" height="44.12" fill="#bde5df"/>
<rect x="2623.59" y="528.05" width="8.77" height="44.12" fill="#69c4b8"/>
<rect x="2632.06" y="528.05" width="8.77" height="44.12" fill="#86cfc6"/>
<rect x="2640.53" y="528.05" width="8.77" height="44.12" fill="#afdfd9"/>
<rect x="2649.01" y="528.05" width="8.77" height="44.12" fill="#c3e7e2"/>
<rect x="2657.48" y="528.05" width="8.77" height="44.12" fill="#f3faf9"/>
<rect x="2665.96" y="528.05" width="8.77" height="44.12" fill="#b4e1db"/>
<rect x="2674.43" y="528.05" width="8.77" height="44.12" fill="#fce3e4"/>
<rect x="2682.91" y="528.05" width="8.77" height="44.12" fill="#ed7276"/>
<rect x="2691.38" y="528.05" width="8.77" height="44.12" fill="#def2ef"/>
<rect x="2699.86" y="528.05" width="8.77" height="44.12" fill="#8ad1c8"/>
<rect x="2708.33" y="528.05" width="8.77" height="44.12" fill="#76c9be"/>
<rect x="2716.80" y="528.05" width="8.77" height="44.12" fill="#eff9f7"/>
<rect x="2725.28" y="528.05" width="8.77" height="44.12" fill="#9ad7cf"/>
<rect x="2733.75" y="528.05" width="8.77" height="44.12" fill="#79cabf"/>
<rect x="2742.23" y="528.05" width="8.77" height="44.12" fill="#f6fbfb"/>
<rect x="2750.70" y="528.05" width="8.77" height="44.12" fill="#f9cbcd"/>
<rect x="2759.18" y="528.05" width="8.77" height="44.12" fill="#e6f5f3"/>
<rect x="2767.65" y="528.05" width="8.77" height="44.12" fill="#66c2b6"/>
<rect x="2776.13" y="528.05" width="8.77" height="44.12" fill="#d9f0ed"/>
<rect x="1225.30" y="571.88" width="8.77" height="44.12" fill="#ee777b"/>
<rect x="1233.77" y="571.88" width="8.77" height="44.12" fill="#f7bfc1"/>
<rect x="1242.25" y="571.88" width="8.77" height="44.12" fill="#f5adaf"/>
<rect x="1250.72" y="571.88" width="8.77" height="44.12" fill="#f3a1a4"/>
<rect x="1259.20" y="571.88" width="8.77" height="44.12" fill="#fdeced"/>
<rect x="1267.67" y="571.88" width="8.77" height="44.12" fill="#f29a9d"/>
<rect x="1276.15" y="571.88" width="8.77" height="44.12" fill="#ec656a"/>
<rect x="1284.62" y="571.88" width="8.77" height="44.12" fill="#f9ced0"/>
<rect x="1293.10" y="571.88" width="8.77" height="44.12" fill="#fdf1f1"/>
<rect x="1301.57" y="571.88" width="8.77" height="44.12" fill="#fbe3e4"/>
<rect x="1310.04" y="571.88" width="8.77" height="44.12" fill="#f8c3c5"/>
<rect x="1318.52" y="571.88" width="8.77" height="44.12" fill="#f6bbbc"/>
<rect x="1326.99" y="571.88" width="8.77" height="44.12" fill="#fdeded"/>
<rect x="1335.47" y="571.88" width="8.77" height="44.12" fill="#f3faf9"/>
<rect x="1343.94" y="571.88" width="8.77" height="44.12" fill="#f9d0d1"/>
<rect x="1352.42" y="571.88" width="8.77" height="44.12" fill="#f9d2d3"/>
<rect x="1360.89" y="571.88" width="8.77" height="44.12" fill="#fafdfc"/>
<rect x="1369.37" y="571.88" width="8.77" height="44.12" fill="#fbdbdc"/>
<rect x="1377.84" y="571.88" width="8.77" height="44.12" fill="#f6b7b9"/>
<rect x="1386.31" y="571.88" width="8.77" height="44.12" fill="#f7bec0"/>
<rect x="1394.79" y="571.88" width="8.77" height="44.12" fill="#fbdfe0"/>
<rect x="1403.26" y="571.88" width="8.77" height="44.12" fill="#f5afb1"/>
<rect x="1411.74" y="571.88" width="8.77" height="44.12" fill="#f6b7b9"/>
<rect x="1420.21" y="571.88" width="8.77" height="44.12" fill="#ccebe7"/>
<rect x="1428.69" y="571.88" width="8.77" height="44.12" fill="#ffffff"/>
<rect x="1437.16" y="571.88" width="8.77" height="44.12" fill="#e2f4f1"/>
<rect x="1445.64" y="571.88" width="8.77" height="44.12" fill="#fad4d5"/>
<rect x="1454.11" y="571.88" width="8.77" height="44.12" fill="#f0878a"/>
<rect x="1462.58" y="571.88" width="8.77" height="44.12" fill="#f5fbfa"/>
<rect x="1471.06" y="571.88" width="8.77" height="44.12" fill="#93d4cc"/>
<rect x="1479.53" y="571.88" width="8.77" height="44.12" fill="#f7c3c4"/>
<rect x="1488.01" y="571.88" width="8.77" height="44.12" fill="#f4a5a7"/>
<rect x="1496.48" y="571.88" width="8.77" height="44.12" fill="#ee7b7e"/>
<rect x="1504.96" y="571.88" width="8.77" height="44.12" fill="#f0f9f8"/>
<rect x="1513.43" y="571.88" width="8.77" height="44.12" fill="#f8c8c9"/>
<rect x="1521.91" y="571.88" width="8.77" height="44.12" fill="#f8c5c6"/>
<rect x="1530.38" y="571.88" width="8.77" height="44.12" fill="#fafdfd"/>
<rect x="1538.85" y="571.88" width="8.77" height="44.12" fill="#a2dad3"/>
<rect x="1547.33" y="571.88" width="8.77" height="44.12" fill="#f5b2b5"/>
<rect x="1555.80" y="571.88" width="8.77" height="44.12" fill="#c4e8e3"/>
<rect x="1564.28" y="571.88" width="8.77" height="44.12" fill="#f5adb0"/>
<rect x="1572.75" y="571.88" width="8.77" height="44.12" fill="#f9cccd"/>
<rect x="1581.23" y="571.88" width="8.77" height="44.12" fill="#f6b4b6"/>
<rect x="1589.70" y="571.88" width="8.77" height="44.12" fill="#ed6d71"/>
<rect x="1598.18" y="571.88" width="8.77" height="44.12" fill="#fad6d7"/>
<rect x="1606.65" y="571.88" width="8.77" height="44.12" fill="#ef7d80"/>
<rect x="1615.12" y="571.88" width="8.77" height="44.12" fill="#fad7d8"/>
<rect x="1623.60" y="571.88" width="8.77" height="44.12" fill="#9dd8d0"/>
<rect x="1632.07" y="571.88" width="8.77" height="44.12" fill="#f0898c"/>
<rect x="1640.55" y="571.88" width="8.77" height="44.12" fill="#f5b0b2"/>
<rect x="1649.02" y="571.88" width="8.77" height="44.12" fill="#afe0d9"/>
<rect x="1657.50" y="571.88" width="8.77" height="44.12" fill="#f2989b"/>
<rect x="1665.97" y="571.88" width="8.77" height="44.12" fill="#f9cbcd"/>
<rect x="1674.45" y="571.88" width="8.77" height="44.12" fill="#e9f6f4"/>
<rect x="1682.92" y="571.88" width="8.77" height="44.12" fill="#f6b4b6"/>
<rect x="1691.40" y="571.88" width="8.77" height="44.12" fill="#d4eeeb"/>
<rect x="1699.87" y="571.88" width="8.77" height="44.12" fill="#f8c6c8"/>
<rect x="1708.34" y="571.88" width="8.77" height="44.12" fill="#f8c7c8"/>
<rect x="1716.82" y="571.88" width="8.77" height="44.12" fill="#f9cdce"/>
<rect x="1725.29" y="571.88" width="8.77" height="44.12" fill="#f6b8ba"/>
<rect x="1733.77" y="571.88" width="8.77" height="44.12" fill="#b9e3de"/>
<rect x="1742.24" y="571.88" width="8.77" height="44.12" fill="#fcfefd"/>
<rect x="1750.72" y="571.88" width="8.77" height="44.12" fill="#f6b9bb"/>
<rect x="1759.19" y="571.88" width="8.77" height="44.12" fill="#fadadb"/>
<rect x="1767.67" y="571.88" width="8.77" height="44.12" fill="#f9cbcd"/>
<rect x="1776.14" y="571.88" width="8.77" height="44.12" fill="#f7bcbe"/>
<rect x="1784.61" y="571.88" width="8.77" height="44.12" fill="#d3edea"/>
<rect x="1793.09" y="571.88" width="8.77" height="44.12" fill="#fce6e7"/>
<rect x="1801.56" y="571.88" width="8.77" height="44.12" fill="#f8c5c7"/>
<rect x="1810.04" y="571.88" width="8.77" height="44.12" fill="#ed7175"/>
<rect x="1818.51" y="571.88" width="8.77" height="44.12" fill="#fdf2f2"/>
<rect x="1826.99" y="571.88" width="8.77" height="44.12" fill="#f5b3b5"/>
<rect x="1835.46" y="571.88" width="8.77" height="44.12" fill="#c2e7e2"/>
<rect x="1843.94" y="571.88" width="8.77" height="44.12" fill="#eff9f8"/>
<rect x="1852.41" y="571.88" width="8.77" height="44.12" fill="#fce7e8"/>
<rect x="1860.88" y="571.88" width="8.77" height="44.12" fill="#d5eeeb"/>
<rect x="1869.36" y="571.88" width="8.77" height="44.12" fill="#f39d9f"/>
<rect x="1877.83" y="571.88" width="8.77" height="44.12" fill="#e4f4f2"/>
<rect x="1886.31" y="571.88" width="8.77" height="44.12" fill="#fce6e7"/>
<rect x="1894.78" y="571.88" width="8.77" height="44.12" fill="#f0f9f8"/>
<rect x="1903.26" y="571.88" width="8.77" height="44.12" fill="#cdebe7"/>
<rect x="1911.73" y="571.88" width="8.77" height="44.12" fill="#99d7cf"/>
<rect x="1920.21" y="571.88" width="8.77" height="44.12" fill="#f4a9ab"/>
<rect x="1928.68" y="571.88" width="8.77" height="44.12" fill="#f6b3b5"/>
<rect x="1937.15" y="571.88" width="8.77" height="44.12" fill="#e0f3f0"/>
<rect x="1945.63" y="571.88" width="8.77" height="44.12" fill="#fdf2f2"/>
<rect x="1954.10" y="571.88" width="8.77" height="44.12" fill="#c1e7e2"/>
<rect x="1962.58" y="571.88" width="8.77" height="44.12" fill="#eb5b60"/>
<rect x="1971.05" y="571.88" width="8.77" height="44.12" fill="#d1ede9"/>
<rect x="1979.53" y="571.88" width="8.77" height="44.12" fill="#f7bcbe"/>
<rect x="1988.00" y="571.88" width="8.77" height="44.12" fill="#c4e8e3"/>
<rect x="1996.48" y="571.88" width="8.77" height="44.12" fill="#f6b4b6"/>
<rect x="2004.95" y="571.88" width="8.77" height="44.12" fill="#f5abae"/>
<rect x="2013.42" y="571.88" width="8.77" height="44.12" fill="#fad3d4"/>
<rect x="2021.90" y="571.88" width="8.77" height="44.12" fill="#fbddde"/>
<rect x="2030.37" y="571.88" width="8.77" height="44.12" fill="#f6b8ba"/>
<rect x="2038.85" y="571.88" width="8.77" height="44.12" fill="#f5aeb0"/>
<rect x="2047.32" y="571.88" width="8.77" height="44.12" fill="#a1dad2"/>
<rect x="2055.80" y="571.88" width="8.77" height="44.12" fill="#fdecec"/>
<rect x="2064.27" y="571.88" width="8.77" height="44.12" fill="#ceebe8"/>
<rect x="2072.75" y="571.88" width="8.77" height="44.12" fill="#f2faf9"/>
<rect x="2081.22" y="571.88" width="8.77" height="44.12" fill="#f4a4a7"/>
<rect x="2089.69" y="571.88" width="8.77" height="44.12" fill="#f3a2a4"/>
<rect x="2098.17" y="571.88" width="8.77" height="44.12" fill="#f1f9f8"/>
<rect x="2106.64" y="571.88" width="8.77" height="44.12" fill="#f5fbfa"/>
<rect x="2115.12" y="571.88" width="8.77" height="44.12" fill="#88d0c6"/>
<rect x="2123.59" y="571.88" width="8.77" height="44.12" fill="#fdedee"/>
<rect x="2132.07" y="571.88" width="8.77" height="44.12" fill="#ea595e"/>
<rect x="2140.54" y="571.88" width="8.77" height="44.12" fill="#e2f4f1"/>
<rect x="2149.02" y="571.88" width="8.77" height="44.12" fill="#98d6ce"/>
<rect x="2157.49" y="571.88" width="8.77" height="44.12" fill="#f5abae"/>
<rect x="2165.96" y="571.88" width="8.77" height="44.12" fill="#fad6d7"/>
<rect x="2174.44" y="571.88" width="8.77" height="44.12" fill="#f4a9ac"/>
<rect x="2182.91" y="571.88" width="8.77" height="44.12" fill="#f5afb1"/>
<rect x="2191.39" y="571.88" width="8.77" height="44.12" fill="#85cfc5"/>
<rect x="2199.86" y="571.88" width="8.77" height="44.12" fill="#f5acae"/>
<rect x="2208.34" y="571.88" width="8.77" height="44.12" fill="#f9cdce"/>
<rect x="2216.81" y="571.88" width="8.77" height="44.12" fill="#b2e1da"/>
<rect x="2225.29" y="571.88" width="8.77" height="44.12" fill="#e8474c"/>
<rect x="2233.76" y="571.88" width="8.77" height="44.12" fill="#96d5cd"/>
<rect x="2242.23" y="571.88" width="8.77" height="44.12" fill="#c9eae5"/>
<rect x="2250.71" y="571.88" width="8.77" height="44.12" fill="#a2dad3"/>
<rect x="2259.18" y="571.88" width="8.77" height="44.12" fill="#fad3d4"/>
<rect x="2267.66" y="571.88" width="8.77" height="44.12" fill="#f5afb1"/>
<rect x="2276.13" y="571.88" width="8.77" height="44.12" fill="#daf0ed"/>
<rect x="2284.61" y="571.88" width="8.77" height="44.12" fill="#6cc5b9"/>
<rect x="2293.08" y="571.88" width="8.77" height="44.12" fill="#fbdcdd"/>
<rect x="2301.56" y="571.88" width="8.77" height="44.12" fill="#d9f0ed"/>
<rect x="2310.03" y="571.88" width="8.77" height="44.12" fill="#f5aeb0"/>
<rect x="2318.50" y="571.88" width="8.77" height="44.12" fill="#fef4f5"/>
<rect x="2326.98" y="571.88" width="8.77" height="44.12" fill="#fbdbdc"/>
<rect x="2335.45" y="571.88" width="8.77" height="44.12" fill="#dff2f0"/>
<rect x="2343.93" y="571.88" width="8.77" height="44.12" fill="#d6efec"/>
<rect x="2352.40" y="571.88" width="8.77" height="44.12" fill="#f18b8e"/>
<rect x="2360.88" y="571.88" width="8.77" height="44.12" fill="#fdfefe"/>
<rect x="2369.35" y="571.88" width="8.77" height="44.12" fill="#f7c3c5"/>
<rect x="2377.83" y="571.88" width="8.77" height="44.12" fill="#fbe0e0"/>
<rect x="2386.30" y="571.88" width="8.77" height="44.12" fill="#e8f6f4"/>
<rect x="2394.77" y="571.88" width="8.77" height="44.12" fill="#f7bfc1"/>
<rect x="2403.25" y="571.88" width="8.77" height="44.12" fill="#fad6d7"/>
<rect x="2411.72" y="571.88" width="8.77" height="44.12" fill="#f9cdcf"/>
<rect x="2420.20" y="571.88" width="8.77" height="44.12" fill="#e5f5f3"/>
<rect x="2428.67" y="571.88" width="8.77" height="44.12" fill="#fad3d5"/>
<rect x="2437.15" y="571.88" width="8.77" height="44.12" fill="#ccebe7"/>
<rect x="2445.62" y="571.88" width="8.77" height="44.12" fill="#fbe1e2"/>
<rect x="2454.10" y="571.88" width="8.77" height="44.12" fill="#f8c5c6"/>
<rect x="2462.57" y="571.88" width="8.77" height="44.12" fill="#79cabf"/>
<rect x="2471.05" y="571.88" width="8.77" height="44.12" fill="#fad6d7"/>
<rect x="2479.52" y="571.88" width="8.77" height="44.12" fill="#fefafb"/>
<rect x="2487.99" y="571.88" width="8.77" height="44.12" fill="#f8c3c5"/>
<rect x="2496.47" y="571.88" width="8.77" height="44.12" fill="#91d4cb"/>
<rect x="2504.94" y="571.88" width="8.77" height="44.12" fill="#fad9da"/>
<rect x="2513.42" y="571.88" width="8.77" height="44.12" fill="#fce6e7"/>
<rect x="2521.89" y="571.88" width="8.77" height="44.12" fill="#f9cccd"/>
<rect x="2530.37" y="571.88" width="8.77" height="44.12" fill="#ee7477"/>
<rect x="2538.84" y="571.88" width="8.77" height="44.12" fill="#ee7477"/>
<rect x="2547.32" y="571.88" width="8.77" height="44.12" fill="#a7dcd5"/>
<rect x="2555.79" y="571.88" width="8.77" height="44.12" fill="#eef8f7"/>
<rect x="2564.26" y="571.88" width="8.77" height="44.12" fill="#eef8f7"/>
<rect x="2572.74" y="571.88" width="8.77" height="44.12" fill="#9cd8d0"/>
<rect x="2581.21" y="571.88" width="8.77" height="44.12" fill="#fdf2f2"/>
<rect x="2589.69" y="571.88" width="8.77" height="44.12" fill="#f08689"/>
<rect x="2598.16" y="571.88" width="8.77" height="44.12" fill="#b0e0da"/>
<rect x="2606.64" y="571.88" width="8.77" height="44.12" fill="#fad7d8"/>
<rect x="2615.11" y="571.88" width="8.77" height="44.12" fill="#eef8f7"/>
<rect x="2623.59" y="571.88" width="8.77" height="44.12" fill="#f18e92"/>
<rect x="2632.06" y="571.88" width="8.77" height="44.12" fill="#f29a9d"/>
<rect x="2640.53" y="571.88" width="8.77" height="44.12" fill="#f4aaac"/>
<rect x="2649.01" y="571.88" width="8.77" height="44.12" fill="#fad7d8"/>
<rect x="2657.48" y="571.88" width="8.77" height="44.12" fill="#f4a3a6"/>
<rect x="2665.96" y="571.88" width="8.77" height="44.12" fill="#fce9ea"/>
<rect x="2674.43" y="571.88" width="8.77" height="44.12" fill="#f4aaad"/>
<rect x="2682.91" y="571.88" width="8.77" height="44.12" fill="#e0f3f0"/>
<rect x="2691.38" y="571.88" width="8.77" height="44.12" fill="#abded7"/>
<rect x="2699.86" y="571.88" width="8.77" height="44.12" fill="#b2e1da"/>
<rect x="2708.33" y="571.88" width="8.77" height="44.12" fill="#ed6b6f"/>
<rect x="2716.80" y="571.88" width="8.77" height="44.12" fill="#fef6f6"/>
<rect x="2725.28" y="571.88" width="8.77" height="44.12" fill="#f4a9ab"/>
<rect x="2733.75" y="571.88" width="8.77" height="44.12" fill="#eef8f7"/>
<rect x="2742.23" y="571.88" width="8.77" height="44.12" fill="#fad5d6"/>
<rect x="2750.70" y="571.88" width="8.77" height="44.12" fill="#f8c5c7"/>
<rect x="2759.18" y="571.88" width="8.77" height="44.12" fill="#ee7578"/>
<rect x="2767.65" y="571.88" width="8.77" height="44.12" fill="#f8c4c6"/>
<rect x="2776.13" y="571.88" width="8.77" height="44.12" fill="#f7c2c4"/>
<rect x="1225.30" y="615.70" width="8.77" height="44.12" fill="#f9cbcd"/>
<rect x="1233.77" y="615.70" width="8.77" height="44.12" fill="#f6b6b8"/>
<rect x="1242.25" y="615.70" width="8.77" height="44.12" fill="#fadadb"/>
<rect x="1250.72" y="615.70" width="8.77" height="44.12" fill="#6ec6ba"/>
<rect x="1259.20" y="615.70" width="8.77" height="44.12" fill="#fef9f9"/>
<rect x="1267.67" y="615.70" width="8.77" height="44.12" fill="#f9cdce"/>
<rect x="1276.15" y="615.70" width="8.77" height="44.12" fill="#f19093"/>
<rect x="1284.62" y="615.70" width="8.77" height="44.12" fill="#f7bec0"/>
<rect x="1293.10" y="615.70" width="8.77" height="44.12" fill="#f7c2c4"/>
<rect x="1301.57" y="615.70" width="8.77" height="44.12" fill="#fad3d4"/>
<rect x="1310.04" y="615.70" width="8.77" height="44.12" fill="#f18f92"/>
<rect x="1318.52" y="615.70" width="8.77" height="44.12" fill="#f4a6a8"/>
<rect x="1326.99" y="615.70" width="8.77" height="44.12" fill="#daf0ed"/>
<rect x="1335.47" y="615.70" width="8.77" height="44.12" fill="#f6b4b6"/>
<rect x="1343.94" y="615.70" width="8.77" height="44.12" fill="#d6efec"/>
<rect x="1352.42" y="615.70" width="8.77" height="44.12" fill="#fbfdfd"/>
<rect x="1360.89" y="615.70" width="8.77" height="44.12" fill="#fbe1e2"/>
<rect x="1369.37" y="615.70" width="8.77" height="44.12" fill="#f08487"/>
<rect x="1377.84" y="615.70" width="8.77" height="44.12" fill="#f5adaf"/>
<rect x="1386.31" y="615.70" width="8.77" height="44.12" fill="#f4a7aa"/>
<rect x="1394.79" y="615.70" width="8.77" height="44.12" fill="#f7c0c2"/>
<rect x="1403.26" y="615.70" width="8.77" height="44.12" fill="#fbe2e3"/>
<rect x="1411.74" y="615.70" width="8.77" height="44.12" fill="#f5adaf"/>
<rect x="1420.21" y="615.70" width="8.77" height="44.12" fill="#f8c3c5"/>
<rect x="1428.69" y="615.70" width="8.77" height="44.12" fill="#fce3e4"/>
<rect x="1437.16" y="615.70" width="8.77" height="44.12" fill="#fad8d9"/>
<rect x="1445.64" y="615.70" width="8.77" height="44.12" fill="#f9ced0"/>
<rect x="1454.11" y="615.70" width="8.77" height="44.12" fill="#ea595e"/>
<rect x="1462.58" y="615.70" width="8.77" height="44.12" fill="#fef5f5"/>
<rect x="1471.06" y="615.70" width="8.77" height="44.12" fill="#f2faf9"/>
<rect x="1479.53" y="615.70" width="8.77" height="44.12" fill="#c5e8e4"/>
<rect x="1488.01" y="615.70" width="8.77" height="44.12" fill="#e94c50"/>
<rect x="1496.48" y="615.70" width="8.77" height="44.12" fill="#79cabf"/>
<rect x="1504.96" y="615.70" width="8.77" height="44.12" fill="#f8cacb"/>
<rect x="1513.43" y="615.70" width="8.77" height="44.12" fill="#fdf0f1"/>
<rect x="1521.91" y="615.70" width="8.77" height="44.12" fill="#d5eeeb"/>
<rect x="1530.38" y="615.70" width="8.77" height="44.12" fill="#a1dad2"/>
<rect x="1538.85" y="615.70" width="8.77" height="44.12" fill="#e0f3f0"/>
<rect x="1547.33" y="615.70" width="8.77" height="44.12" fill="#b0e0da"/>
<rect x="1555.80" y="615.70" width="8.77" height="44.12" fill="#f08488"/>
<rect x="1564.28" y="615.70" width="8.77" height="44.12" fill="#fbe1e2"/>
<rect x="1572.75" y="615.70" width="8.77" height="44.12" fill="#f7bbbd"/>
<rect x="1581.23" y="615.70" width="8.77" height="44.12" fill="#9ad7cf"/>
<rect x="1589.70" y="615.70" width="8.77" height="44.12" fill="#f8c8c9"/>
<rect x="1598.18" y="615.70" width="8.77" height="44.12" fill="#f5fbfa"/>
<rect x="1606.65" y="615.70" width="8.77" height="44.12" fill="#eb5c60"/>
<rect x="1615.12" y="615.70" width="8.77" height="44.12" fill="#f7bec0"/>
<rect x="1623.60" y="615.70" width="8.77" height="44.12" fill="#fce8e9"/>
<rect x="1632.07" y="615.70" width="8.77" height="44.12" fill="#ef8386"/>
<rect x="1640.55" y="615.70" width="8.77" height="44.12" fill="#fdebec"/>
<rect x="1649.02" y="615.70" width="8.77" height="44.12" fill="#f9cfd0"/>
<rect x="1657.50" y="615.70" width="8.77" height="44.12" fill="#ceece8"/>
<rect x="1665.97" y="615.70" width="8.77" height="44.12" fill="#cfece8"/>
<rect x="1674.45" y="615.70" width="8.77" height="44.12" fill="#a4dbd4"/>
<rect x="1682.92" y="615.70" width="8.77" height="44.12" fill="#fdfefe"/>
<rect x="1691.40" y="615.70" width="8.77" height="44.12" fill="#b0e0d9"/>
<rect x="1699.87" y="615.70" width="8.77" height="44.12" fill="#e9f6f4"/>
<rect x="1708.34" y="615.70" width="8.77" height="44.12" fill="#f5afb2"/>
<rect x="1716.82" y="615.70" width="8.77" height="44.12" fill="#fce5e5"/>
<rect x="1725.29" y="615.70" width="8.77" height="44.12" fill="#f5acae"/>
<rect x="1733.77" y="615.70" width="8.77" height="44.12" fill="#d7efec"/>
<rect x="1742.24" y="615.70" width="8.77" height="44.12" fill="#fcfefd"/>
<rect x="1750.72" y="615.70" width="8.77" height="44.12" fill="#fefafa"/>
<rect x="1759.19" y="615.70" width="8.77" height="44.12" fill="#caeae6"/>
<rect x="1767.67" y="615.70" width="8.77" height="44.12" fill="#afe0d9"/>
<rect x="1776.14" y="615.70" width="8.77" height="44.12" fill="#d3eeea"/>
<rect x="1784.61" y="615.70" width="8.77" height="44.12" fill="#fef4f4"/>
<rect x="1793.09" y="615.70" width="8.77" height="44.12" fill="#eaf7f5"/>
<rect x="1801.56" y="615.70" width="8.77" height="44.12" fill="#fbdfe0"/>
<rect x="1810.04" y="615.70" width="8.77" height="44.12" fill="#fdeced"/>
<rect x="1818.51" y="615.70" width="8.77" height="44.12" fill="#f9d0d1"/>
<rect x="1826.99" y="615.70" width="8.77" height="44.12" fill="#f4a9ab"/>
<rect x="1835.46" y="615.70" width="8.77" height="44.12" fill="#fef4f4"/>
<rect x="1843.94" y="615.70" width="8.77" height="44.12" fill="#f08487"/>
<rect x="1852.41" y="615.70" width="8.77" height="44.12" fill="#f4a7aa"/>
<rect x="1860.88" y="615.70" width="8.77" height="44.12" fill="#fad8d9"/>
<rect x="1869.36" y="615.70" width="8.77" height="44.12" fill="#fbe3e4"/>
<rect x="1877.83" y="615.70" width="8.77" height="44.12" fill="#f5afb2"/>
<rect x="1886.31" y="615.70" width="8.77" height="44.12" fill="#f29a9c"/>
<rect x="1894.78" y="615.70" width="8.77" height="44.12" fill="#b0e0d9"/>
<rect x="1903.26" y="615.70" width="8.77" height="44.12" fill="#f9cbcd"/>
<rect x="1911.73" y="615.70" width="8.77" height="44.12" fill="#ed6d71"/>
<rect x="1920.21" y="615.70" width="8.77" height="44.12" fill="#f29a9c"/>
<rect x="1928.68" y="615.70" width="8.77" height="44.12" fill="#f6b8ba"/>
<rect x="1937.15" y="615.70" width="8.77" height="44.12" fill="#caeae6"/>
<rect x="1945.63" y="615.70" width="8.77" height="44.12" fill="#ed6e72"/>
<rect x="1954.10" y="615.70" width="8.77" height="44.12" fill="#ee7579"/>
<rect x="1962.58" y="615.70" width="8.77" height="44.12" fill="#f19093"/>
<rect x="1971.05" y="615.70" width="8.77" height="44.12" fill="#fbfefd"/>
<rect x="1979.53" y="615.70" width="8.77" height="44.12" fill="#fbe2e3"/>
<rect x="1988.00" y="615.70" width="8.77" height="44.12" fill="#f9d0d1"/>
<rect x="1996.48" y="615.70" width="8.77" height="44.12" fill="#f5b3b5"/>
<rect x="2004.95" y="615.70" width="8.77" height="44.12" fill="#f39fa1"/>
<rect x="2013.42" y="615.70" width="8.77" height="44.12" fill="#fbe1e2"/>
<rect x="2021.90" y="615.70" width="8.77" height="44.12" fill="#f6b6b8"/>
<rect x="2030.37" y="615.70" width="8.77" height="44.12" fill="#fbdfe0"/>
<rect x="2038.85" y="615.70" width="8.77" height="44.12" fill="#e8474c"/>
<rect x="2047.32" y="615.70" width="8.77" height="44.12" fill="#fdedee"/>
<rect x="2055.80" y="615.70" width="8.77" height="44.12" fill="#def2ef"/>
<rect x="2064.27" y="615.70" width="8.77" height="44.12" fill="#fdf1f2"/>
<rect x="2072.75" y="615.70" width="8.77" height="44.12" fill="#fdf0f1"/>
<rect x="2081.22" y="615.70" width="8.77" height="44.12" fill="#e5f5f3"/>
<rect x="2089.69" y="615.70" width="8.77" height="44.12" fill="#c9eae5"/>
<rect x="2098.17" y="615.70" width="8.77" height="44.12" fill="#9cd8d0"/>
<rect x="2106.64" y="615.70" width="8.77" height="44.12" fill="#f9fdfc"/>
<rect x="2115.12" y="615.70" width="8.77" height="44.12" fill="#edf8f6"/>
<rect x="2123.59" y="615.70" width="8.77" height="44.12" fill="#51baac"/>
<rect x="2132.07" y="615.70" width="8.77" height="44.12" fill="#f08387"/>
<rect x="2140.54" y="615.70" width="8.77" height="44.12" fill="#e5f5f2"/>
<rect x="2149.02" y="615.70" width="8.77" height="44.12" fill="#cdebe7"/>
<rect x="2157.49" y="615.70" width="8.77" height="44.12" fill="#fdf2f2"/>
<rect x="2165.96" y="615.70" width="8.77" height="44.12" fill="#abded7"/>
<rect x="2174.44" y="615.70" width="8.77" height="44.12" fill="#caeae6"/>
<rect x="2182.91" y="615.70" width="8.77" height="44.12" fill="#f4abad"/>
<rect x="2191.39" y="615.70" width="8.77" height="44.12" fill="#fffbfb"/>
<rect x="2199.86" y="615.70" width="8.77" height="44.12" fill="#8cd1c8"/>
<rect x="2208.34" y="615.70" width="8.77" height="44.12" fill="#f39d9f"/>
<rect x="2216.81" y="615.70" width="8.77" height="44.12" fill="#8ed2c9"/>
<rect x="2225.29" y="615.70" width="8.77" height="44.12" fill="#f7c3c4"/>
<rect x="2233.76" y="615.70" width="8.77" height="44.12" fill="#5dbfb2"/>
<rect x="2242.23" y="615.70" width="8.77" height="44.12" fill="#f7fcfb"/>
<rect x="2250.71" y="615.70" width="8.77" height="44.12" fill="#c0e6e1"/>
<rect x="2259.18" y="615.70" width="8.77" height="44.12" fill="#a7dcd5"/>
<rect x="2267.66" y="615.70" width="8.77" height="44.12" fill="#b7e3dd"/>
<rect x="2276.13" y="615.70" width="8.77" height="44.12" fill="#f4a4a7"/>
<rect x="2284.61" y="615.70" width="8.77" height="44.12" fill="#ddf1ef"/>
<rect x="2293.08" y="615.70" width="8.77" height="44.12" fill="#7fccc2"/>
<rect x="2301.56" y="615.70" width="8.77" height="44.12" fill="#def2ef"/>
<rect x="2310.03" y="615.70" width="8.77" height="44.12" fill="#fad9da"/>
<rect x="2318.50" y="615.70" width="8.77" height="44.12" fill="#bde5e0"/>
<rect x="2326.98" y="615.70" width="8.77" height="44.12" fill="#fdeeef"/>
<rect x="2335.45" y="615.70" width="8.77" height="44.12" fill="#a0d9d2"/>
<rect x="2343.93" y="615.70" width="8.77" height="44.12" fill="#ddf2ef"/>
<rect x="2352.40" y="615.70" width="8.77" height="44.12" fill="#f8c8c9"/>
<rect x="2360.88" y="615.70" width="8.77" height="44.12" fill="#f9cdce"/>
<rect x="2369.35" y="615.70" width="8.77" height="44.12" fill="#fbe0e1"/>
<rect x="2377.83" y="615.70" width="8.77" height="44.12" fill="#f7fcfb"/>
<rect x="2386.30" y="615.70" width="8.77" height="44.12" fill="#c9eae5"/>
<rect x="2394.77" y="615.70" width="8.77" height="44.12" fill="#d2edea"/>
<rect x="2403.25" y="615.70" width="8.77" height="44.12" fill="#fcfefe"/>
<rect x="2411.72" y="615.70" width="8.77" height="44.12" fill="#cdebe7"/>
<rect x="2420.20" y="615.70" width="8.77" height="44.12" fill="#f7c3c5"/>
<rect x="2428.67" y="615.70" width="8.77" height="44.12" fill="#51baac"/>
<rect x="2437.15" y="615.70" width="8.77" height="44.12" fill="#8ed2c9"/>
<rect x="2445.62" y="615.70" width="8.77" height="44.12" fill="#6fc6ba"/>
<rect x="2454.10" y="615.70" width="8.77" height="44.12" fill="#aaddd6"/>
<rect x="2462.57" y="615.70" width="8.77" height="44.12" fill="#73c8bd"/>
<rect x="2471.05" y="615.70" width="8.77" height="44.12" fill="#7fccc2"/>
<rect x="2479.52" y="615.70" width="8.77" height="44.12" fill="#99d7ce"/>
<rect x="2487.99" y="615.70" width="8.77" height="44.12" fill="#8ed2c9"/>
<rect x="2496.47" y="615.70" width="8.77" height="44.12" fill="#b9e3de"/>
<rect x="2504.94" y="615.70" width="8.77" height="44.12" fill="#ceece8"/>
<rect x="2513.42" y="615.70" width="8.77" height="44.12" fill="#93d4cb"/>
<rect x="2521.89" y="615.70" width="8.77" height="44.12" fill="#e1f3f1"/>
<rect x="2530.37" y="615.70" width="8.77" height="44.12" fill="#c8e9e5"/>
<rect x="2538.84" y="615.70" width="8.77" height="44.12" fill="#fef4f4"/>
<rect x="2547.32" y="615.70" width="8.77" height="44.12" fill="#3ab1a1"/>
<rect x="2555.79" y="615.70" width="8.77" height="44.12" fill="#a0d9d2"/>
<rect x="2564.26" y="615.70" width="8.77" height="44.12" fill="#b6e2dc"/>
<rect x="2572.74" y="615.70" width="8.77" height="44.12" fill="#c9e9e5"/>
<rect x="2581.21" y="615.70" width="8.77" height="44.12" fill="#f29a9c"/>
<rect x="2589.69" y="615.70" width="8.77" height="44.12" fill="#7ccbc1"/>
<rect x="2598.16" y="615.70" width="8.77" height="44.12" fill="#a6dcd5"/>
<rect x="2606.64" y="615.70" width="8.77" height="44.12" fill="#abded7"/>
<rect x="2615.11" y="615.70" width="8.77" height="44.12" fill="#a8ddd6"/>
<rect x="2623.59" y="615.70" width="8.77" height="44.12" fill="#9ed8d1"/>
<rect x="2632.06" y="615.70" width="8.77" height="44.12" fill="#9fd9d2"/>
<rect x="2640.53" y="615.70" width="8.77" height="44.12" fill="#fdeeee"/>
<rect x="2649.01" y="615.70" width="8.77" height="44.12" fill="#e7f5f3"/>
<rect x="2657.48" y="615.70" width="8.77" height="44.12" fill="#f8c4c6"/>
<rect x="2665.96" y="615.70" width="8.77" height="44.12" fill="#d1ede9"/>
<rect x="2674.43" y="615.70" width="8.77" height="44.12" fill="#fdf2f3"/>
<rect x="2682.91" y="615.70" width="8.77" height="44.12" fill="#ecf7f6"/>
<rect x="2691.38" y="615.70" width="8.77" height="44.12" fill="#88d0c6"/>
<rect x="2699.86" y="615.70" width="8.77" height="44.12" fill="#f9cecf"/>
<rect x="2708.33" y="615.70" width="8.77" height="44.12" fill="#fbfdfd"/>
<rect x="2716.80" y="615.70" width="8.77" height="44.12" fill="#f0898c"/>
<rect x="2725.28" y="615.70" width="8.77" height="44.12" fill="#f6b4b6"/>
<rect x="2733.75" y="615.70" width="8.77" height="44.12" fill="#f7bcbe"/>
<rect x="2742.23" y="615.70" width="8.77" height="44.12" fill="#ee7679"/>
<rect x="2750.70" y="615.70" width="8.77" height="44.12" fill="#e8474c"/>
<rect x="2759.18" y="615.70" width="8.77" height="44.12" fill="#f7bcbe"/>
<rect x="2767.65" y="615.70" width="8.77" height="44.12" fill="#f6b8ba"/>
<rect x="2776.13" y="615.70" width="8.77" height="44.12" fill="#e8474c"/>
<rect x="1225.30" y="659.52" width="8.77" height="44.12" fill="#c1e7e2"/>
<rect x="1233.77" y="659.52" width="8.77" height="44.12" fill="#fbddde"/>
<rect x="1242.25" y="659.52" width="8.77" height="44.12" fill="#f9ced0"/>
<rect x="1250.72" y="659.52" width="8.77" height="44.12" fill="#c3e7e3"/>
<rect x="1259.20" y="659.52" width="8.77" height="44.12" fill="#eaf7f5"/>
<rect x="1267.67" y="659.52" width="8.77" height="44.12" fill="#fdebec"/>
<rect x="1276.15" y="659.52" width="8.77" height="44.12" fill="#f9cccd"/>
<rect x="1284.62" y="659.52" width="8.77" height="44.12" fill="#f4fbfa"/>
<rect x="1293.10" y="659.52" width="8.77" height="44.12" fill="#fdefef"/>
<rect x="1301.57" y="659.52" width="8.77" height="44.12" fill="#f7c1c2"/>
<rect x="1310.04" y="659.52" width="8.77" height="44.12" fill="#f19093"/>
<rect x="1318.52" y="659.52" width="8.77" height="44.12" fill="#f9d2d3"/>
<rect x="1326.99" y="659.52" width="8.77" height="44.12" fill="#f8cacb"/>
<rect x="1335.47" y="659.52" width="8.77" height="44.12" fill="#f2999b"/>
<rect x="1343.94" y="659.52" width="8.77" height="44.12" fill="#eff8f7"/>
<rect x="1352.42" y="659.52" width="8.77" height="44.12" fill="#f1f9f8"/>
<rect x="1360.89" y="659.52" width="8.77" height="44.12" fill="#b5e2dc"/>
<rect x="1369.37" y="659.52" width="8.77" height="44.12" fill="#fad4d5"/>
<rect x="1377.84" y="659.52" width="8.77" height="44.12" fill="#f4a7aa"/>
<rect x="1386.31" y="659.52" width="8.77" height="44.12" fill="#f29497"/>
<rect x="1394.79" y="659.52" width="8.77" height="44.12" fill="#fef4f4"/>
<rect x="1403.26" y="659.52" width="8.77" height="44.12" fill="#f29a9d"/>
<rect x="1411.74" y="659.52" width="8.77" height="44.12" fill="#f9cdce"/>
<rect x="1420.21" y="659.52" width="8.77" height="44.12" fill="#fafdfd"/>
<rect x="1428.69" y="659.52" width="8.77" height="44.12" fill="#b0e0da"/>
<rect x="1437.16" y="659.52" width="8.77" height="44.12" fill="#f6b8ba"/>
<rect x="1445.64" y="659.52" width="8.77" height="44.12" fill="#fdeff0"/>
<rect x="1454.11" y="659.52" width="8.77" height="44.12" fill="#f0868a"/>
<rect x="1462.58" y="659.52" width="8.77" height="44.12" fill="#fce4e5"/>
<rect x="1471.06" y="659.52" width="8.77" height="44.12" fill="#fad7d8"/>
<rect x="1479.53" y="659.52" width="8.77" height="44.12" fill="#d1ede9"/>
<rect x="1488.01" y="659.52" width="8.77" height="44.12" fill="#ea565a"/>
<rect x="1496.48" y="659.52" width="8.77" height="44.12" fill="#7dccc1"/>
<rect x="1504.96" y="659.52" width="8.77" height="44.12" fill="#f5b1b3"/>
<rect x="1513.43" y="659.52" width="8.77" height="44.12" fill="#fce5e5"/>
<rect x="1521.91" y="659.52" width="8.77" height="44.12" fill="#ecf7f6"/>
<rect x="1530.38" y="659.52" width="8.77" height="44.12" fill="#ddf2ef"/>
<rect x="1538.85" y="659.52" width="8.77" height="44.12" fill="#e3f4f2"/>
<rect x="1547.33" y="659.52" width="8.77" height="44.12" fill="#dbf1ee"/>
<rect x="1555.80" y="659.52" width="8.77" height="44.12" fill="#f18d90"/>
<rect x="1564.28" y="659.52" width="8.77" height="44.12" fill="#f1faf9"/>
<rect x="1572.75" y="659.52" width="8.77" height="44.12" fill="#f8c4c6"/>
<rect x="1581.23" y="659.52" width="8.77" height="44.12" fill="#72c7bc"/>
<rect x="1589.70" y="659.52" width="8.77" height="44.12" fill="#ef7e81"/>
<rect x="1598.18" y="659.52" width="8.77" height="44.12" fill="#fbdcdd"/>
<rect x="1606.65" y="659.52" width="8.77" height="44.12" fill="#e8474c"/>
<rect x="1615.12" y="659.52" width="8.77" height="44.12" fill="#fdf1f2"/>
<rect x="1623.60" y="659.52" width="8.77" height="44.12" fill="#96d5cd"/>
<rect x="1632.07" y="659.52" width="8.77" height="44.12" fill="#fadadb"/>
<rect x="1640.55" y="659.52" width="8.77" height="44.12" fill="#f8c8ca"/>
<rect x="1649.02" y="659.52" width="8.77" height="44.12" fill="#e8f6f4"/>
<rect x="1657.50" y="659.52" width="8.77" height="44.12" fill="#fad3d5"/>
<rect x="1665.97" y="659.52" width="8.77" height="44.12" fill="#fdf3f3"/>
<rect x="1674.45" y="659.52" width="8.77" height="44.12" fill="#f8c8c9"/>
<rect x="1682.92" y="659.52" width="8.77" height="44.12" fill="#f9d3d4"/>
<rect x="1691.40" y="659.52" width="8.77" height="44.12" fill="#b7e3dd"/>
<rect x="1699.87" y="659.52" width="8.77" height="44.12" fill="#fffcfc"/>
<rect x="1708.34" y="659.52" width="8.77" height="44.12" fill="#f5acaf"/>
<rect x="1716.82" y="659.52" width="8.77" height="44.12" fill="#f7c2c4"/>
<rect x="1725.29" y="659.52" width="8.77" height="44.12" fill="#f18c8f"/>
<rect x="1733.77" y="659.52" width="8.77" height="44.12" fill="#fef4f4"/>
<rect x="1742.24" y="659.52" width="8.77" height="44.12" fill="#fce5e6"/>
<rect x="1750.72" y="659.52" width="8.77" height="44.12" fill="#d4eeeb"/>
<rect x="1759.19" y="659.52" width="8.77" height="44.12" fill="#fef7f7"/>
<rect x="1767.67" y="659.52" width="8.77" height="44.12" fill="#5fc0b3"/>
<rect x="1776.14" y="659.52" width="8.77" height="44.12" fill="#f9cecf"/>
<rect x="1784.61" y="659.52" width="8.77" height="44.12" fill="#fcebeb"/>
<rect x="1793.09" y="659.52" width="8.77" height="44.12" fill="#fbdedf"/>
<rect x="1801.56" y="659.52" width="8.77" height="44.12" fill="#f8c4c5"/>
<rect x="1810.04" y="659.52" width="8.77" height="44.12" fill="#f9cccd"/>
<rect x="1818.51" y="659.52" width="8.77" height="44.12" fill="#d9f0ed"/>
<rect x="1826.99" y="659.52" width="8.77" height="44.12" fill="#fce6e6"/>
<rect x="1835.46" y="659.52" width="8.77" height="44.12" fill="#fef5f6"/>
<rect x="1843.94" y="659.52" width="8.77" height="44.12" fill="#ef7c80"/>
<rect x="1852.41" y="659.52" width="8.77" height="44.12" fill="#f6b8ba"/>
<rect x="1860.88" y="659.52" width="8.77" height="44.12" fill="#fce4e5"/>
<rect x="1869.36" y="659.52" width="8.77" height="44.12" fill="#8cd1c8"/>
<rect x="1877.83" y="659.52" width="8.77" height="44.12" fill="#fce7e7"/>
<rect x="1886.31" y="659.52" width="8.77" height="44.12" fill="#f3a2a5"/>
<rect x="1894.78" y="659.52" width="8.77" height="44.12" fill="#cbebe6"/>
<rect x="1903.26" y="659.52" width="8.77" height="44.12" fill="#fdefef"/>
<rect x="1911.73" y="659.52" width="8.77" height="44.12" fill="#ee7b7e"/>
<rect x="1920.21" y="659.52" width="8.77" height="44.12" fill="#f3a0a2"/>
<rect x="1928.68" y="659.52" width="8.77" height="44.12" fill="#fbe0e0"/>
<rect x="1937.15" y="659.52" width="8.77" height="44.12" fill="#acded8"/>
<rect x="1945.63" y="659.52" width="8.77" height="44.12" fill="#ee7478"/>
<rect x="1954.10" y="659.52" width="8.77" height="44.12" fill="#ee7b7e"/>
<rect x="1962.58" y="659.52" width="8.77" height="44.12" fill="#f6b3b5"/>
<rect x="1971.05" y="659.52" width="8.77" height="44.12" fill="#f6b7b9"/>
<rect x="1979.53" y="659.52" width="8.77" height="44.12" fill="#f8fcfb"/>
<rect x="1988.00" y="659.52" width="8.77" height="44.12" fill="#f5aeb0"/>
<rect x="1996.48" y="659.52" width="8.77" height="44.12" fill="#f4aaad"/>
<rect x="2004.95" y="659.52" width="8.77" height="44.12" fill="#f7bcbe"/>
<rect x="2013.42" y="659.52" width="8.77" height="44.12" fill="#fdf0f0"/>
<rect x="2021.90" y="659.52" width="8.77" height="44.12" fill="#f39da0"/>
<rect x="2030.37" y="659.52" width="8.77" height="44.12" fill="#fffdfd"/>
<rect x="2038.85" y="659.52" width="8.77" height="44.12" fill="#e95257"/>
<rect x="2047.32" y="659.52" width="8.77" height="44.12" fill="#e6f5f3"/>
<rect x="2055.80" y="659.52" width="8.77" height="44.12" fill="#fcebeb"/>
<rect x="2064.27" y="659.52" width="8.77" height="44.12" fill="#fce6e7"/>
<rect x="2072.75" y="659.52" width="8.77" height="44.12" fill="#fdf1f1"/>
<rect x="2081.22" y="659.52" width="8.77" height="44.12" fill="#ed7276"/>
<rect x="2089.69" y="659.52" width="8.77" height="44.12" fill="#fdefef"/>
<rect x="2098.17" y="659.52" width="8.77" height="44.12" fill="#fdebec"/>
<rect x="2106.64" y="659.52" width="8.77" height="44.12" fill="#afdfd9"/>
<rect x="2115.12" y="659.52" width="8.77" height="44.12" fill="#b2e1da"/>
<rect x="2123.59" y="659.52" width="8.77" height="44.12" fill="#d4eeea"/>
<rect x="2132.07" y="659.52" width="8.77" height="44.12" fill="#f6b4b6"/>
<rect x="2140.54" y="659.52" width="8.77" height="44.12" fill="#ddf2ef"/>
<rect x="2149.02" y="659.52" width="8.77" height="44.12" fill="#cdebe7"/>
<rect x="2157.49" y="659.52" width="8.77" height="44.12" fill="#f5abad"/>
<rect x="2165.96" y="659.52" width="8.77" height="44.12" fill="#f2faf9"/>
<rect x="2174.44" y="659.52" width="8.77" height="44.12" fill="#fdf2f3"/>
<rect x="2182.91" y="659.52" width="8.77" height="44.12" fill="#f4a8aa"/>
<rect x="2191.39" y="659.52" width="8.77" height="44.12" fill="#fdf2f2"/>
<rect x="2199.86" y="659.52" width="8.77" height="44.12" fill="#cbeae6"/>
<rect x="2208.34" y="659.52" width="8.77" height="44.12" fill="#f08386"/>
<rect x="2216.81" y="659.52" width="8.77" height="44.12" fill="#fadadb"/>
<rect x="2225.29" y="659.52" width="8.77" height="44.12" fill="#f6b5b7"/>
<rect x="2233.76" y="659.52" width="8.77" height="44.12" fill="#75c8bd"/>
<rect x="2242.23" y="659.52" width="8.77" height="44.12" fill="#fce3e4"/>
<rect x="2250.71" y="659.52" width="8.77" height="44.12" fill="#ebf7f5"/>
<rect x="2259.18" y="659.52" width="8.77" height="44.12" fill="#def2ef"/>
<rect x="2267.66" y="659.52" width="8.77" height="44.12" fill="#9ed9d1"/>
<rect x="2276.13" y="659.52" width="8.77" height="44.12" fill="#9ad7cf"/>
<rect x="2284.61" y="659.52" width="8.77" height="44.12" fill="#fdeded"/>
<rect x="2293.08" y="659.52" width="8.77" height="44.12" fill="#d9f0ed"/>
<rect x="2301.56" y="659.52" width="8.77" height="44.12" fill="#f9cecf"/>
<rect x="2310.03" y="659.52" width="8.77" height="44.12" fill="#f5abad"/>
<rect x="2318.50" y="659.52" width="8.77" height="44.12" fill="#b2e1da"/>
<rect x="2326.98" y="659.52" width="8.77" height="44.12" fill="#f3faf9"/>
<rect x="2335.45" y="659.52" width="8.77" height="44.12" fill="#cbeae6"/>
<rect x="2343.93" y="659.52" width="8.77" height="44.12" fill="#f8c9ca"/>
<rect x="2352.40" y="659.52" width="8.77" height="44.12" fill="#f8c7c9"/>
<rect x="2360.88" y="659.52" width="8.77" height="44.12" fill="#f4a3a6"/>
<rect x="2369.35" y="659.52" width="8.77" height="44.12" fill="#fadadb"/>
<rect x="2377.83" y="659.52" width="8.77" height="44.12" fill="#aaded7"/>
<rect x="2386.30" y="659.52" width="8.77" height="44.12" fill="#8ad1c7"/>
<rect x="2394.77" y="659.52" width="8.77" height="44.12" fill="#fdeeef"/>
<rect x="2403.25" y="659.52" width="8.77" height="44.12" fill="#ecf8f6"/>
<rect x="2411.72" y="659.52" width="8.77" height="44.12" fill="#f1faf8"/>
<rect x="2420.20" y="659.52" width="8.77" height="44.12" fill="#fdebec"/>
<rect x="2428.67" y="659.52" width="8.77" height="44.12" fill="#6dc5ba"/>
<rect x="2437.15" y="659.52" width="8.77" height="44.12" fill="#8bd1c8"/>
<rect x="2445.62" y="659.52" width="8.77" height="44.12" fill="#89d0c7"/>
<rect x="2454.10" y="659.52" width="8.77" height="44.12" fill="#86cfc6"/>
<rect x="2462.57" y="659.52" width="8.77" height="44.12" fill="#7acac0"/>
<rect x="2471.05" y="659.52" width="8.77" height="44.12" fill="#85cfc5"/>
<rect x="2479.52" y="659.52" width="8.77" height="44.12" fill="#f4a8aa"/>
<rect x="2487.99" y="659.52" width="8.77" height="44.12" fill="#95d5cd"/>
<rect x="2496.47" y="659.52" width="8.77" height="44.12" fill="#9bd8d0"/>
<rect x="2504.94" y="659.52" width="8.77" height="44.12" fill="#fbdcdd"/>
<rect x="2513.42" y="659.52" width="8.77" height="44.12" fill="#76c9be"/>
<rect x="2521.89" y="659.52" width="8.77" height="44.12" fill="#e5f5f3"/>
<rect x="2530.37" y="659.52" width="8.77" height="44.12" fill="#f9d1d3"/>
<rect x="2538.84" y="659.52" width="8.77" height="44.12" fill="#fad6d7"/>
<rect x="2547.32" y="659.52" width="8.77" height="44.12" fill="#bee5e0"/>
<rect x="2555.79" y="659.52" width="8.77" height="44.12" fill="#a7dcd5"/>
<rect x="2564.26" y="659.52" width="8.77" height="44.12" fill="#e9f6f4"/>
<rect x="2572.74" y="659.52" width="8.77" height="44.12" fill="#c1e6e1"/>
<rect x="2581.21" y="659.52" width="8.77" height="44.12" fill="#f6b8ba"/>
<rect x="2589.69" y="659.52" width="8.77" height="44.12" fill="#8fd3ca"/>
<rect x="2598.16" y="659.52" width="8.77" height="44.12" fill="#b8e3dd"/>
<rect x="2606.64" y="659.52" width="8.77" height="44.12" fill="#97d6cd"/>
<rect x="2615.11" y="659.52" width="8.77" height="44.12" fill="#7ccbc0"/>
<rect x="2623.59" y="659.52" width="8.77" height="44.12" fill="#6cc5b9"/>
<rect x="2632.06" y="659.52" width="8.77" height="44.12" fill="#b2e0da"/>
<rect x="2640.53" y="659.52" width="8.77" height="44.12" fill="#f2faf9"/>
<rect x="2649.01" y="659.52" width="8.77" height="44.12" fill="#98d6ce"/>
<rect x="2657.48" y="659.52" width="8.77" height="44.12" fill="#f8cbcc"/>
<rect x="2665.96" y="659.52" width="8.77" height="44.12" fill="#c4e7e3"/>
<rect x="2674.43" y="659.52" width="8.77" height="44.12" fill="#b8e3dd"/>
<rect x="2682.91" y="659.52" width="8.77" height="44.12" fill="#99d7cf"/>
<rect x="2691.38" y="659.52" width="8.77" height="44.12" fill="#addfd8"/>
<rect x="2699.86" y="659.52" width="8.77" height="44.12" fill="#b5e2dc"/>
<rect x="2708.33" y="659.52" width="8.77" height="44.12" fill="#fef7f7"/>
<rect x="2716.80" y="659.52" width="8.77" height="44.12" fill="#f9d0d1"/>
<rect x="2725.28" y="659.52" width="8.77" height="44.12" fill="#fbdcdd"/>
<rect x="2733.75" y="659.52" width="8.77" height="44.12" fill="#f4a9ab"/>
<rect x="2742.23" y="659.52" width="8.77" height="44.12" fill="#ed7175"/>
<rect x="2750.70" y="659.52" width="8.77" height="44.12" fill="#e84b50"/>
<rect x="2759.18" y="659.52" width="8.77" height="44.12" fill="#f6b5b7"/>
<rect x="2767.65" y="659.52" width="8.77" height="44.12" fill="#f7c1c3"/>
<rect x="2776.13" y="659.52" width="8.77" height="44.12" fill="#ea575c"/>
<rect x="1225.30" y="703.35" width="8.77" height="44.12" fill="#f4a8ab"/>
<rect x="1233.77" y="703.35" width="8.77" height="44.12" fill="#9ed9d1"/>
<rect x="1242.25" y="703.35" width="8.77" height="44.12" fill="#fef7f7"/>
<rect x="1250.72" y="703.35" width="8.77" height="44.12" fill="#f9d0d2"/>
<rect x="1259.20" y="703.35" width="8.77" height="44.12" fill="#fad9da"/>
<rect x="1267.67" y="703.35" width="8.77" height="44.12" fill="#f9cecf"/>
<rect x="1276.15" y="703.35" width="8.77" height="44.12" fill="#fbe1e2"/>
<rect x="1284.62" y="703.35" width="8.77" height="44.12" fill="#f0898c"/>
<rect x="1293.10" y="703.35" width="8.77" height="44.12" fill="#f5acaf"/>
<rect x="1301.57" y="703.35" width="8.77" height="44.12" fill="#f29a9c"/>
<rect x="1310.04" y="703.35" width="8.77" height="44.12" fill="#f9cccd"/>
<rect x="1318.52" y="703.35" width="8.77" height="44.12" fill="#fdeded"/>
<rect x="1326.99" y="703.35" width="8.77" height="44.12" fill="#ed6f73"/>
<rect x="1335.47" y="703.35" width="8.77" height="44.12" fill="#b5e2dc"/>
<rect x="1343.94" y="703.35" width="8.77" height="44.12" fill="#fbdcdd"/>
<rect x="1352.42" y="703.35" width="8.77" height="44.12" fill="#f0898c"/>
<rect x="1360.89" y="703.35" width="8.77" height="44.12" fill="#c1e7e2"/>
<rect x="1369.37" y="703.35" width="8.77" height="44.12" fill="#f6b3b5"/>
<rect x="1377.84" y="703.35" width="8.77" height="44.12" fill="#ec6468"/>
<rect x="1386.31" y="703.35" width="8.77" height="44.12" fill="#f39c9f"/>
<rect x="1394.79" y="703.35" width="8.77" height="44.12" fill="#fcfefe"/>
<rect x="1403.26" y="703.35" width="8.77" height="44.12" fill="#fbe2e3"/>
<rect x="1411.74" y="703.35" width="8.77" height="44.12" fill="#fbdfe0"/>
<rect x="1420.21" y="703.35" width="8.77" height="44.12" fill="#f3a0a3"/>
<rect x="1428.69" y="703.35" width="8.77" height="44.12" fill="#d5eeeb"/>
<rect x="1437.16" y="703.35" width="8.77" height="44.12" fill="#f5adb0"/>
<rect x="1445.64" y="703.35" width="8.77" height="44.12" fill="#f8c7c8"/>
<rect x="1454.11" y="703.35" width="8.77" height="44.12" fill="#f2979a"/>
<rect x="1462.58" y="703.35" width="8.77" height="44.12" fill="#e94e53"/>
<rect x="1471.06" y="703.35" width="8.77" height="44.12" fill="#f8c8c9"/>
<rect x="1479.53" y="703.35" width="8.77" height="44.12" fill="#def2ef"/>
<rect x="1488.01" y="703.35" width="8.77" height="44.12" fill="#f7bdbf"/>
<rect x="1496.48" y="703.35" width="8.77" height="44.12" fill="#c9eae5"/>
<rect x="1504.96" y="703.35" width="8.77" height="44.12" fill="#dbf1ee"/>
<rect x="1513.43" y="703.35" width="8.77" height="44.12" fill="#f39fa2"/>
<rect x="1521.91" y="703.35" width="8.77" height="44.12" fill="#6cc5b9"/>
<rect x="1530.38" y="703.35" width="8.77" height="44.12" fill="#f4fbfa"/>
<rect x="1538.85" y="703.35" width="8.77" height="44.12" fill="#e7f6f4"/>
<rect x="1547.33" y="703.35" width="8.77" height="44.12" fill="#f5b2b4"/>
<rect x="1555.80" y="703.35" width="8.77" height="44.12" fill="#ecf7f6"/>
<rect x="1564.28" y="703.35" width="8.77" height="44.12" fill="#f7c1c2"/>
<rect x="1572.75" y="703.35" width="8.77" height="44.12" fill="#f5b1b3"/>
<rect x="1581.23" y="703.35" width="8.77" height="44.12" fill="#d6efec"/>
<rect x="1589.70" y="703.35" width="8.77" height="44.12" fill="#e8474c"/>
<rect x="1598.18" y="703.35" width="8.77" height="44.12" fill="#fbe0e1"/>
<rect x="1606.65" y="703.35" width="8.77" height="44.12" fill="#f08689"/>
<rect x="1615.12" y="703.35" width="8.77" height="44.12" fill="#fce4e5"/>
<rect x="1623.60" y="703.35" width="8.77" height="44.12" fill="#fefafa"/>
<rect x="1632.07" y="703.35" width="8.77" height="44.12" fill="#f29598"/>
<rect x="1640.55" y="703.35" width="8.77" height="44.12" fill="#f4a9ab"/>
<rect x="1649.02" y="703.35" width="8.77" height="44.12" fill="#f6b5b7"/>
<rect x="1657.50" y="703.35" width="8.77" height="44.12" fill="#f39da0"/>
<rect x="1665.97" y="703.35" width="8.77" height="44.12" fill="#ed6c70"/>
<rect x="1674.45" y="703.35" width="8.77" height="44.12" fill="#cdebe7"/>
<rect x="1682.92" y="703.35" width="8.77" height="44.12" fill="#fffdfd"/>
<rect x="1691.40" y="703.35" width="8.77" height="44.12" fill="#b1e0da"/>
<rect x="1699.87" y="703.35" width="8.77" height="44.12" fill="#9dd8d0"/>
<rect x="1708.34" y="703.35" width="8.77" height="44.12" fill="#f7c2c4"/>
<rect x="1716.82" y="703.35" width="8.77" height="44.12" fill="#f7bcbe"/>
<rect x="1725.29" y="703.35" width="8.77" height="44.12" fill="#d4eeea"/>
<rect x="1733.77" y="703.35" width="8.77" height="44.12" fill="#c8e9e5"/>
<rect x="1742.24" y="703.35" width="8.77" height="44.12" fill="#fadadb"/>
<rect x="1750.72" y="703.35" width="8.77" height="44.12" fill="#f5adaf"/>
<rect x="1759.19" y="703.35" width="8.77" height="44.12" fill="#f5aeb1"/>
<rect x="1767.67" y="703.35" width="8.77" height="44.12" fill="#b0e0d9"/>
<rect x="1776.14" y="703.35" width="8.77" height="44.12" fill="#f9d2d3"/>
<rect x="1784.61" y="703.35" width="8.77" height="44.12" fill="#8ed2c9"/>
<rect x="1793.09" y="703.35" width="8.77" height="44.12" fill="#fce7e7"/>
<rect x="1801.56" y="703.35" width="8.77" height="44.12" fill="#c3e7e3"/>
<rect x="1810.04" y="703.35" width="8.77" height="44.12" fill="#fad8d9"/>
<rect x="1818.51" y="703.35" width="8.77" height="44.12" fill="#dcf1ef"/>
<rect x="1826.99" y="703.35" width="8.77" height="44.12" fill="#f4a9ab"/>
<rect x="1835.46" y="703.35" width="8.77" height="44.12" fill="#f2999c"/>
<rect x="1843.94" y="703.35" width="8.77" height="44.12" fill="#d0ece9"/>
<rect x="1852.41" y="703.35" width="8.77" height="44.12" fill="#e2f4f1"/>
<rect x="1860.88" y="703.35" width="8.77" height="44.12" fill="#f39fa2"/>
<rect x="1869.36" y="703.35" width="8.77" height="44.12" fill="#bce5df"/>
<rect x="1877.83" y="703.35" width="8.77" height="44.12" fill="#f5b1b3"/>
<rect x="1886.31" y="703.35" width="8.77" height="44.12" fill="#ed6c70"/>
<rect x="1894.78" y="703.35" width="8.77" height="44.12" fill="#c2e7e2"/>
<rect x="1903.26" y="703.35" width="8.77" height="44.12" fill="#d3edea"/>
<rect x="1911.73" y="703.35" width="8.77" height="44.12" fill="#fef3f4"/>
<rect x="1920.21" y="703.35" width="8.77" height="44.12" fill="#fce5e6"/>
<rect x="1928.68" y="703.35" width="8.77" height="44.12" fill="#ee7579"/>
<rect x="1937.15" y="703.35" width="8.77" height="44.12" fill="#d1ede9"/>
<rect x="1945.63" y="703.35" width="8.77" height="44.12" fill="#def2ef"/>
<rect x="1954.10" y="703.35" width="8.77" height="44.12" fill="#bae4de"/>
<rect x="1962.58" y="703.35" width="8.77" height="44.12" fill="#f39fa1"/>
<rect x="1971.05" y="703.35" width="8.77" height="44.12" fill="#64c2b5"/>
<rect x="1979.53" y="703.35" width="8.77" height="44.12" fill="#94d5cc"/>
<rect x="1988.00" y="703.35" width="8.77" height="44.12" fill="#f8cacb"/>
<rect x="1996.48" y="703.35" width="8.77" height="44.12" fill="#e8474c"/>
<rect x="2004.95" y="703.35" width="8.77" height="44.12" fill="#bae4de"/>
<rect x="2013.42" y="703.35" width="8.77" height="44.12" fill="#fce7e8"/>
<rect x="2021.90" y="703.35" width="8.77" height="44.12" fill="#fbdedf"/>
<rect x="2030.37" y="703.35" width="8.77" height="44.12" fill="#f8c5c6"/>
<rect x="2038.85" y="703.35" width="8.77" height="44.12" fill="#fbe0e1"/>
<rect x="2047.32" y="703.35" width="8.77" height="44.12" fill="#74c8bd"/>
<rect x="2055.80" y="703.35" width="8.77" height="44.12" fill="#abded7"/>
<rect x="2064.27" y="703.35" width="8.77" height="44.12" fill="#a4dbd4"/>
<rect x="2072.75" y="703.35" width="8.77" height="44.12" fill="#f08487"/>
<rect x="2081.22" y="703.35" width="8.77" height="44.12" fill="#b4e1db"/>
<rect x="2089.69" y="703.35" width="8.77" height="44.12" fill="#ef7d80"/>
<rect x="2098.17" y="703.35" width="8.77" height="44.12" fill="#90d3ca"/>
<rect x="2106.64" y="703.35" width="8.77" height="44.12" fill="#fbfdfd"/>
<rect x="2115.12" y="703.35" width="8.77" height="44.12" fill="#b5e2dc"/>
<rect x="2123.59" y="703.35" width="8.77" height="44.12" fill="#d9f0ed"/>
<rect x="2132.07" y="703.35" width="8.77" height="44.12" fill="#d7efec"/>
<rect x="2140.54" y="703.35" width="8.77" height="44.12" fill="#fce6e7"/>
<rect x="2149.02" y="703.35" width="8.77" height="44.12" fill="#fbe3e3"/>
<rect x="2157.49" y="703.35" width="8.77" height="44.12" fill="#d1ede9"/>
<rect x="2165.96" y="703.35" width="8.77" height="44.12" fill="#d1ede9"/>
<rect x="2174.44" y="703.35" width="8.77" height="44.12" fill="#fbddde"/>
<rect x="2182.91" y="703.35" width="8.77" height="44.12" fill="#f8c3c5"/>
<rect x="2191.39" y="703.35" width="8.77" height="44.12" fill="#e0f3f0"/>
<rect x="2199.86" y="703.35" width="8.77" height="44.12" fill="#ccebe7"/>
<rect x="2208.34" y="703.35" width="8.77" height="44.12" fill="#f5b3b5"/>
<rect x="2216.81" y="703.35" width="8.77" height="44.12" fill="#94d5cc"/>
<rect x="2225.29" y="703.35" width="8.77" height="44.12" fill="#ed6e72"/>
<rect x="2233.76" y="703.35" width="8.77" height="44.12" fill="#70c6bb"/>
<rect x="2242.23" y="703.35" width="8.77" height="44.12" fill="#94d5cc"/>
<rect x="2250.71" y="703.35" width="8.77" height="44.12" fill="#c0e6e1"/>
<rect x="2259.18" y="703.35" width="8.77" height="44.12" fill="#f18e91"/>
<rect x="2267.66" y="703.35" width="8.77" height="44.12" fill="#fbddde"/>
<rect x="2276.13" y="703.35" width="8.77" height="44.12" fill="#72c7bc"/>
<rect x="2284.61" y="703.35" width="8.77" height="44.12" fill="#bfe6e0"/>
<rect x="2293.08" y="703.35" width="8.77" height="44.12" fill="#fbe0e1"/>
<rect x="2301.56" y="703.35" width="8.77" height="44.12" fill="#fbdfdf"/>
<rect x="2310.03" y="703.35" width="8.77" height="44.12" fill="#fbe2e3"/>
<rect x="2318.50" y="703.35" width="8.77" height="44.12" fill="#fef5f5"/>
<rect x="2326.98" y="703.35" width="8.77" height="44.12" fill="#d1ede9"/>
<rect x="2335.45" y="703.35" width="8.77" height="44.12" fill="#aedfd8"/>
<rect x="2343.93" y="703.35" width="8.77" height="44.12" fill="#e3f4f1"/>
<rect x="2352.40" y="703.35" width="8.77" height="44.12" fill="#f39fa1"/>
<rect x="2360.88" y="703.35" width="8.77" height="44.12" fill="#c2e7e2"/>
<rect x="2369.35" y="703.35" width="8.77" height="44.12" fill="#bce5df"/>
<rect x="2377.83" y="703.35" width="8.77" height="44.12" fill="#fef8f8"/>
<rect x="2386.30" y="703.35" width="8.77" height="44.12" fill="#8fd3ca"/>
<rect x="2394.77" y="703.35" width="8.77" height="44.12" fill="#aedfd8"/>
<rect x="2403.25" y="703.35" width="8.77" height="44.12" fill="#d6efec"/>
<rect x="2411.72" y="703.35" width="8.77" height="44.12" fill="#d6efec"/>
<rect x="2420.20" y="703.35" width="8.77" height="44.12" fill="#b5e2dc"/>
<rect x="2428.67" y="703.35" width="8.77" height="44.12" fill="#aaddd7"/>
<rect x="2437.15" y="703.35" width="8.77" height="44.12" fill="#6ac4b8"/>
<rect x="2445.62" y="703.35" width="8.77" height="44.12" fill="#93d4cc"/>
<rect x="2454.10" y="703.35" width="8.77" height="44.12" fill="#74c8bd"/>
<rect x="2462.57" y="703.35" width="8.77" height="44.12" fill="#9cd8d0"/>
<rect x="2471.05" y="703.35" width="8.77" height="44.12" fill="#4bb8a9"/>
<rect x="2479.52" y="703.35" width="8.77" height="44.12" fill="#5fc0b3"/>
<rect x="2487.99" y="703.35" width="8.77" height="44.12" fill="#7ccbc0"/>
<rect x="2496.47" y="703.35" width="8.77" height="44.12" fill="#7acac0"/>
<rect x="2504.94" y="703.35" width="8.77" height="44.12" fill="#fef7f7"/>
<rect x="2513.42" y="703.35" width="8.77" height="44.12" fill="#b1e0da"/>
<rect x="2521.89" y="703.35" width="8.77" height="44.12" fill="#b6e2dc"/>
<rect x="2530.37" y="703.35" width="8.77" height="44.12" fill="#b9e3de"/>
<rect x="2538.84" y="703.35" width="8.77" height="44.12" fill="#daf0ed"/>
<rect x="2547.32" y="703.35" width="8.77" height="44.12" fill="#81cdc3"/>
<rect x="2555.79" y="703.35" width="8.77" height="44.12" fill="#f3a2a4"/>
<rect x="2564.26" y="703.35" width="8.77" height="44.12" fill="#f8c4c5"/>
<rect x="2572.74" y="703.35" width="8.77" height="44.12" fill="#4bb8a9"/>
<rect x="2581.21" y="703.35" width="8.77" height="44.12" fill="#f0f9f8"/>
<rect x="2589.69" y="703.35" width="8.77" height="44.12" fill="#fce6e7"/>
<rect x="2598.16" y="703.35" width="8.77" height="44.12" fill="#c7e9e4"/>
<rect x="2606.64" y="703.35" width="8.77" height="44.12" fill="#e7f5f4"/>
<rect x="2615.11" y="703.35" width="8.77" height="44.12" fill="#95d5cd"/>
<rect x="2623.59" y="703.35" width="8.77" height="44.12" fill="#8ad1c7"/>
<rect x="2632.06" y="703.35" width="8.77" height="44.12" fill="#dcf1ee"/>
<rect x="2640.53" y="703.35" width="8.77" height="44.12" fill="#7fccc2"/>
<rect x="2649.01" y="703.35" width="8.77" height="44.12" fill="#ef7e82"/>
<rect x="2657.48" y="703.35" width="8.77" height="44.12" fill="#7dcbc1"/>
<rect x="2665.96" y="703.35" width="8.77" height="44.12" fill="#b1e0da"/>
<rect x="2674.43" y="703.35" width="8.77" height="44.12" fill="#9fd9d1"/>
<rect x="2682.91" y="703.35" width="8.77" height="44.12" fill="#9ed9d1"/>
<rect x="2691.38" y="703.35" width="8.77" height="44.12" fill="#3cb2a2"/>
<rect x="2699.86" y="703.35" width="8.77" height="44.12" fill="#b1e0da"/>
<rect x="2708.33" y="703.35" width="8.77" height="44.12" fill="#ee7679"/>
<rect x="2716.80" y="703.35" width="8.77" height="44.12" fill="#f6b3b5"/>
<rect x="2725.28" y="703.35" width="8.77" height="44.12" fill="#ef7f82"/>
<rect x="2733.75" y="703.35" width="8.77" height="44.12" fill="#f5aeb0"/>
<rect x="2742.23" y="703.35" width="8.77" height="44.12" fill="#f4a6a9"/>
<rect x="2750.70" y="703.35" width="8.77" height="44.12" fill="#f5b2b4"/>
<rect x="2759.18" y="703.35" width="8.77" height="44.12" fill="#f7bdbf"/>
<rect x="2767.65" y="703.35" width="8.77" height="44.12" fill="#eaf7f5"/>
<rect x="2776.13" y="703.35" width="8.77" height="44.12" fill="#f39fa2"/>
<rect x="1225.30" y="747.17" width="8.77" height="44.12" fill="#f9cdce"/>
<rect x="1233.77" y="747.17" width="8.77" height="44.12" fill="#ecf7f6"/>
<rect x="1242.25" y="747.17" width="8.77" height="44.12" fill="#f8c9ca"/>
<rect x="1250.72" y="747.17" width="8.77" height="44.12" fill="#f9cecf"/>
<rect x="1259.20" y="747.17" width="8.77" height="44.12" fill="#acded7"/>
<rect x="1267.67" y="747.17" width="8.77" height="44.12" fill="#c5e8e3"/>
<rect x="1276.15" y="747.17" width="8.77" height="44.12" fill="#aedfd9"/>
<rect x="1284.62" y="747.17" width="8.77" height="44.12" fill="#f7c0c2"/>
<rect x="1293.10" y="747.17" width="8.77" height="44.12" fill="#f29497"/>
<rect x="1301.57" y="747.17" width="8.77" height="44.12" fill="#f9cccd"/>
<rect x="1310.04" y="747.17" width="8.77" height="44.12" fill="#fce8e9"/>
<rect x="1318.52" y="747.17" width="8.77" height="44.12" fill="#ed7276"/>
<rect x="1326.99" y="747.17" width="8.77" height="44.12" fill="#ee7b7e"/>
<rect x="1335.47" y="747.17" width="8.77" height="44.12" fill="#b0e0d9"/>
<rect x="1343.94" y="747.17" width="8.77" height="44.12" fill="#fef8f9"/>
<rect x="1352.42" y="747.17" width="8.77" height="44.12" fill="#fbdedf"/>
<rect x="1360.89" y="747.17" width="8.77" height="44.12" fill="#e8f6f4"/>
<rect x="1369.37" y="747.17" width="8.77" height="44.12" fill="#ebf7f6"/>
<rect x="1377.84" y="747.17" width="8.77" height="44.12" fill="#f4a5a8"/>
<rect x="1386.31" y="747.17" width="8.77" height="44.12" fill="#fcebeb"/>
<rect x="1394.79" y="747.17" width="8.77" height="44.12" fill="#8ed2c9"/>
<rect x="1403.26" y="747.17" width="8.77" height="44.12" fill="#f9cfd0"/>
<rect x="1411.74" y="747.17" width="8.77" height="44.12" fill="#c6e9e4"/>
<rect x="1420.21" y="747.17" width="8.77" height="44.12" fill="#f4a9ab"/>
<rect x="1428.69" y="747.17" width="8.77" height="44.12" fill="#86cfc6"/>
<rect x="1437.16" y="747.17" width="8.77" height="44.12" fill="#fceaeb"/>
<rect x="1445.64" y="747.17" width="8.77" height="44.12" fill="#fceaeb"/>
<rect x="1454.11" y="747.17" width="8.77" height="44.12" fill="#f8c4c6"/>
<rect x="1462.58" y="747.17" width="8.77" height="44.12" fill="#ec656a"/>
<rect x="1471.06" y="747.17" width="8.77" height="44.12" fill="#f7c1c3"/>
<rect x="1479.53" y="747.17" width="8.77" height="44.12" fill="#8ad1c8"/>
<rect x="1488.01" y="747.17" width="8.77" height="44.12" fill="#fce9e9"/>
<rect x="1496.48" y="747.17" width="8.77" height="44.12" fill="#c0e6e1"/>
<rect x="1504.96" y="747.17" width="8.77" height="44.12" fill="#a0d9d2"/>
<rect x="1513.43" y="747.17" width="8.77" height="44.12" fill="#ef7f83"/>
<rect x="1521.91" y="747.17" width="8.77" height="44.12" fill="#8ed2c9"/>
<rect x="1530.38" y="747.17" width="8.77" height="44.12" fill="#fad8da"/>
<rect x="1538.85" y="747.17" width="8.77" height="44.12" fill="#9fd9d1"/>
<rect x="1547.33" y="747.17" width="8.77" height="44.12" fill="#e5f5f3"/>
<rect x="1555.80" y="747.17" width="8.77" height="44.12" fill="#c8e9e5"/>
<rect x="1564.28" y="747.17" width="8.77" height="44.12" fill="#cdebe7"/>
<rect x="1572.75" y="747.17" width="8.77" height="44.12" fill="#d7efec"/>
<rect x="1581.23" y="747.17" width="8.77" height="44.12" fill="#bbe4df"/>
<rect x="1589.70" y="747.17" width="8.77" height="44.12" fill="#eb5c60"/>
<rect x="1598.18" y="747.17" width="8.77" height="44.12" fill="#fdfefe"/>
<rect x="1606.65" y="747.17" width="8.77" height="44.12" fill="#f7bdbf"/>
<rect x="1615.12" y="747.17" width="8.77" height="44.12" fill="#caeae6"/>
<rect x="1623.60" y="747.17" width="8.77" height="44.12" fill="#b9e3de"/>
<rect x="1632.07" y="747.17" width="8.77" height="44.12" fill="#dff2f0"/>
<rect x="1640.55" y="747.17" width="8.77" height="44.12" fill="#f7c3c5"/>
<rect x="1649.02" y="747.17" width="8.77" height="44.12" fill="#f7bdbf"/>
<rect x="1657.50" y="747.17" width="8.77" height="44.12" fill="#c9eae5"/>
<rect x="1665.97" y="747.17" width="8.77" height="44.12" fill="#ef7d81"/>
<rect x="1674.45" y="747.17" width="8.77" height="44.12" fill="#b3e1db"/>
<rect x="1682.92" y="747.17" width="8.77" height="44.12" fill="#b2e1da"/>
<rect x="1691.40" y="747.17" width="8.77" height="44.12" fill="#86cfc5"/>
<rect x="1699.87" y="747.17" width="8.77" height="44.12" fill="#7acac0"/>
<rect x="1708.34" y="747.17" width="8.77" height="44.12" fill="#f2999c"/>
<rect x="1716.82" y="747.17" width="8.77" height="44.12" fill="#fceaeb"/>
<rect x="1725.29" y="747.17" width="8.77" height="44.12" fill="#b4e1db"/>
<rect x="1733.77" y="747.17" width="8.77" height="44.12" fill="#8ad1c8"/>
<rect x="1742.24" y="747.17" width="8.77" height="44.12" fill="#9ad7cf"/>
<rect x="1750.72" y="747.17" width="8.77" height="44.12" fill="#fad6d7"/>
<rect x="1759.19" y="747.17" width="8.77" height="44.12" fill="#f7fcfb"/>
<rect x="1767.67" y="747.17" width="8.77" height="44.12" fill="#70c7bb"/>
<rect x="1776.14" y="747.17" width="8.77" height="44.12" fill="#e1f3f1"/>
<rect x="1784.61" y="747.17" width="8.77" height="44.12" fill="#b0e0d9"/>
<rect x="1793.09" y="747.17" width="8.77" height="44.12" fill="#bee5e0"/>
<rect x="1801.56" y="747.17" width="8.77" height="44.12" fill="#eef8f7"/>
<rect x="1810.04" y="747.17" width="8.77" height="44.12" fill="#fefafa"/>
<rect x="1818.51" y="747.17" width="8.77" height="44.12" fill="#e3f4f2"/>
<rect x="1826.99" y="747.17" width="8.77" height="44.12" fill="#e4f4f2"/>
<rect x="1835.46" y="747.17" width="8.77" height="44.12" fill="#f5b0b2"/>
<rect x="1843.94" y="747.17" width="8.77" height="44.12" fill="#dbf1ee"/>
<rect x="1852.41" y="747.17" width="8.77" height="44.12" fill="#f9cdce"/>
<rect x="1860.88" y="747.17" width="8.77" height="44.12" fill="#f7bfc1"/>
<rect x="1869.36" y="747.17" width="8.77" height="44.12" fill="#88d0c6"/>
<rect x="1877.83" y="747.17" width="8.77" height="44.12" fill="#f8c4c6"/>
<rect x="1886.31" y="747.17" width="8.77" height="44.12" fill="#eaf7f5"/>
<rect x="1894.78" y="747.17" width="8.77" height="44.12" fill="#5fc0b3"/>
<rect x="1903.26" y="747.17" width="8.77" height="44.12" fill="#e9f6f5"/>
<rect x="1911.73" y="747.17" width="8.77" height="44.12" fill="#c2e7e2"/>
<rect x="1920.21" y="747.17" width="8.77" height="44.12" fill="#7fccc2"/>
<rect x="1928.68" y="747.17" width="8.77" height="44.12" fill="#ea565a"/>
<rect x="1937.15" y="747.17" width="8.77" height="44.12" fill="#fef7f7"/>
<rect x="1945.63" y="747.17" width="8.77" height="44.12" fill="#acded8"/>
<rect x="1954.10" y="747.17" width="8.77" height="44.12" fill="#9ad7cf"/>
<rect x="1962.58" y="747.17" width="8.77" height="44.12" fill="#f8c3c5"/>
<rect x="1971.05" y="747.17" width="8.77" height="44.12" fill="#5cbeb1"/>
<rect x="1979.53" y="747.17" width="8.77" height="44.12" fill="#84cec5"/>
<rect x="1988.00" y="747.17" width="8.77" height="44.12" fill="#f18d91"/>
<rect x="1996.48" y="747.17" width="8.77" height="44.12" fill="#e94e53"/>
<rect x="2004.95" y="747.17" width="8.77" height="44.12" fill="#afe0d9"/>
<rect x="2013.42" y="747.17" width="8.77" height="44.12" fill="#f9d1d2"/>
<rect x="2021.90" y="747.17" width="8.77" height="44.12" fill="#f9cccd"/>
<rect x="2030.37" y="747.17" width="8.77" height="44.12" fill="#f9cecf"/>
<rect x="2038.85" y="747.17" width="8.77" height="44.12" fill="#fdf1f2"/>
<rect x="2047.32" y="747.17" width="8.77" height="44.12" fill="#72c7bc"/>
<rect x="2055.80" y="747.17" width="8.77" height="44.12" fill="#c9eae6"/>
<rect x="2064.27" y="747.17" width="8.77" height="44.12" fill="#9fd9d1"/>
<rect x="2072.75" y="747.17" width="8.77" height="44.12" fill="#caeae6"/>
<rect x="2081.22" y="747.17" width="8.77" height="44.12" fill="#b5e2dc"/>
<rect x="2089.69" y="747.17" width="8.77" height="44.12" fill="#f18e91"/>
<rect x="2098.17" y="747.17" width="8.77" height="44.12" fill="#8dd2c9"/>
<rect x="2106.64" y="747.17" width="8.77" height="44.12" fill="#fefafa"/>
<rect x="2115.12" y="747.17" width="8.77" height="44.12" fill="#a3dbd3"/>
<rect x="2123.59" y="747.17" width="8.77" height="44.12" fill="#afdfd9"/>
<rect x="2132.07" y="747.17" width="8.77" height="44.12" fill="#94d5cc"/>
<rect x="2140.54" y="747.17" width="8.77" height="44.12" fill="#e0f3f0"/>
<rect x="2149.02" y="747.17" width="8.77" height="44.12" fill="#eaf7f5"/>
<rect x="2157.49" y="747.17" width="8.77" height="44.12" fill="#feffff"/>
<rect x="2165.96" y="747.17" width="8.77" height="44.12" fill="#e3f4f2"/>
<rect x="2174.44" y="747.17" width="8.77" height="44.12" fill="#cbebe6"/>
<rect x="2182.91" y="747.17" width="8.77" height="44.12" fill="#f3a2a5"/>
<rect x="2191.39" y="747.17" width="8.77" height="44.12" fill="#cfece8"/>
<rect x="2199.86" y="747.17" width="8.77" height="44.12" fill="#bee5e0"/>
<rect x="2208.34" y="747.17" width="8.77" height="44.12" fill="#f8c4c5"/>
<rect x="2216.81" y="747.17" width="8.77" height="44.12" fill="#7ccbc1"/>
<rect x="2225.29" y="747.17" width="8.77" height="44.12" fill="#f19295"/>
<rect x="2233.76" y="747.17" width="8.77" height="44.12" fill="#69c3b7"/>
<rect x="2242.23" y="747.17" width="8.77" height="44.12" fill="#66c2b6"/>
<rect x="2250.71" y="747.17" width="8.77" height="44.12" fill="#e3f4f2"/>
<rect x="2259.18" y="747.17" width="8.77" height="44.12" fill="#f39ea1"/>
<rect x="2267.66" y="747.17" width="8.77" height="44.12" fill="#fad5d6"/>
<rect x="2276.13" y="747.17" width="8.77" height="44.12" fill="#76c9be"/>
<rect x="2284.61" y="747.17" width="8.77" height="44.12" fill="#8bd1c8"/>
<rect x="2293.08" y="747.17" width="8.77" height="44.12" fill="#f9cfd0"/>
<rect x="2301.56" y="747.17" width="8.77" height="44.12" fill="#f7fcfb"/>
<rect x="2310.03" y="747.17" width="8.77" height="44.12" fill="#fdeded"/>
<rect x="2318.50" y="747.17" width="8.77" height="44.12" fill="#dbf1ee"/>
<rect x="2326.98" y="747.17" width="8.77" height="44.12" fill="#bbe4df"/>
<rect x="2335.45" y="747.17" width="8.77" height="44.12" fill="#daf0ed"/>
<rect x="2343.93" y="747.17" width="8.77" height="44.12" fill="#caeae6"/>
<rect x="2352.40" y="747.17" width="8.77" height="44.12" fill="#fbe1e2"/>
<rect x="2360.88" y="747.17" width="8.77" height="44.12" fill="#bae4de"/>
<rect x="2369.35" y="747.17" width="8.77" height="44.12" fill="#b2e0da"/>
<rect x="2377.83" y="747.17" width="8.77" height="44.12" fill="#fef6f6"/>
<rect x="2386.30" y="747.17" width="8.77" height="44.12" fill="#88d0c6"/>
<rect x="2394.77" y="747.17" width="8.77" height="44.12" fill="#f7bbbd"/>
<rect x="2403.25" y="747.17" width="8.77" height="44.12" fill="#b5e2dc"/>
<rect x="2411.72" y="747.17" width="8.77" height="44.12" fill="#f9cfd0"/>
<rect x="2420.20" y="747.17" width="8.77" height="44.12" fill="#aedfd8"/>
<rect x="2428.67" y="747.17" width="8.77" height="44.12" fill="#fad6d7"/>
<rect x="2437.15" y="747.17" width="8.77" height="44.12" fill="#a4dbd4"/>
<rect x="2445.62" y="747.17" width="8.77" height="44.12" fill="#dcf1ee"/>
<rect x="2454.10" y="747.17" width="8.77" height="44.12" fill="#f8fcfc"/>
<rect x="2462.57" y="747.17" width="8.77" height="44.12" fill="#f7bcbe"/>
<rect x="2471.05" y="747.17" width="8.77" height="44.12" fill="#a6dcd5"/>
<rect x="2479.52" y="747.17" width="8.77" height="44.12" fill="#b0e0d9"/>
<rect x="2487.99" y="747.17" width="8.77" height="44.12" fill="#fef4f4"/>
<rect x="2496.47" y="747.17" width="8.77" height="44.12" fill="#f9cecf"/>
<rect x="2504.94" y="747.17" width="8.77" height="44.12" fill="#f8c5c7"/>
<rect x="2513.42" y="747.17" width="8.77" height="44.12" fill="#eef8f7"/>
<rect x="2521.89" y="747.17" width="8.77" height="44.12" fill="#cdebe7"/>
<rect x="2530.37" y="747.17" width="8.77" height="44.12" fill="#fdedee"/>
<rect x="2538.84" y="747.17" width="8.77" height="44.12" fill="#fad4d5"/>
<rect x="2547.32" y="747.17" width="8.77" height="44.12" fill="#b1e0da"/>
<rect x="2555.79" y="747.17" width="8.77" height="44.12" fill="#f08b8e"/>
<rect x="2564.26" y="747.17" width="8.77" height="44.12" fill="#f3a3a5"/>
<rect x="2572.74" y="747.17" width="8.77" height="44.12" fill="#79cabf"/>
<rect x="2581.21" y="747.17" width="8.77" height="44.12" fill="#f7c1c2"/>
<rect x="2589.69" y="747.17" width="8.77" height="44.12" fill="#fadadb"/>
<rect x="2598.16" y="747.17" width="8.77" height="44.12" fill="#bbe4de"/>
<rect x="2606.64" y="747.17" width="8.77" height="44.12" fill="#fdf1f2"/>
<rect x="2615.11" y="747.17" width="8.77" height="44.12" fill="#b1e0da"/>
<rect x="2623.59" y="747.17" width="8.77" height="44.12" fill="#bae4de"/>
<rect x="2632.06" y="747.17" width="8.77" height="44.12" fill="#f8c7c8"/>
<rect x="2640.53" y="747.17" width="8.77" height="44.12" fill="#fef9f9"/>
<rect x="2649.01" y="747.17" width="8.77" height="44.12" fill="#ef7c80"/>
<rect x="2657.48" y="747.17" width="8.77" height="44.12" fill="#b3e1db"/>
<rect x="2665.96" y="747.17" width="8.77" height="44.12" fill="#cfece8"/>
<rect x="2674.43" y="747.17" width="8.77" height="44.12" fill="#cbebe6"/>
<rect x="2682.91" y="747.17" width="8.77" height="44.12" fill="#e5f5f3"/>
<rect x="2691.38" y="747.17" width="8.77" height="44.12" fill="#abded7"/>
<rect x="2699.86" y="747.17" width="8.77" height="44.12" fill="#fef6f7"/>
<rect x="2708.33" y="747.17" width="8.77" height="44.12" fill="#f7bdbf"/>
<rect x="2716.80" y="747.17" width="8.77" height="44.12" fill="#f8fcfc"/>
<rect x="2725.28" y="747.17" width="8.77" height="44.12" fill="#f4aaac"/>
<rect x="2733.75" y="747.17" width="8.77" height="44.12" fill="#f8c6c8"/>
<rect x="2742.23" y="747.17" width="8.77" height="44.12" fill="#fbdfe0"/>
<rect x="2750.70" y="747.17" width="8.77" height="44.12" fill="#fce6e7"/>
<rect x="2759.18" y="747.17" width="8.77" height="44.12" fill="#f7bdbf"/>
<rect x="2767.65" y="747.17" width="8.77" height="44.12" fill="#fefafa"/>
<rect x="2776.13" y="747.17" width="8.77" height="44.12" fill="#fad5d6"/>
<rect x="2776.13" y="747.17" width="8.77" height="44.12" fill="#e8494e"/>
<rect x="2767.65" y="747.17" width="8.77" height="44.12" fill="#ee787c"/>
<rect x="2420.20" y="703.35" width="8.77" height="44.12" fill="#ee787c"/>
<rect x="2420.20" y="747.17" width="8.77" height="44.12" fill="#ed6f73"/>
<rect x="2411.72" y="747.17" width="8.77" height="44.12" fill="#ef8286"/>
<rect x="2411.72" y="703.35" width="8.77" height="44.12" fill="#f18c8f"/>
<rect x="2632.06" y="571.88" width="8.77" height="44.12" fill="#e95257"/>
<rect x="2640.53" y="571.88" width="8.77" height="44.12" fill="#e95257"/>
<rect x="2649.01" y="571.88" width="8.77" height="44.12" fill="#eb5c60"/>
</g>
<rect x="1208.4" y="89.8" width="13.3" height="219.1" fill="#F08481"/>
<rect x="1208.4" y="308.9" width="13.3" height="263.0" fill="#D2693A"/>
<rect x="1208.4" y="571.9" width="13.3" height="219.1" fill="#0B9E4F"/>
<rect x="1225.3" y="791.0" width="762.7" height="8.5" fill="#D987BC"/>
<rect x="1988.0" y="791.0" width="59.3" height="8.5" fill="#F7A83C"/>
<rect x="2047.3" y="791.0" width="16.9" height="8.5" fill="#ffffff"/>
<rect x="2064.3" y="791.0" width="364.4" height="8.5" fill="#E83C4B"/>
<rect x="2428.7" y="791.0" width="279.7" height="8.5" fill="#454C9A"/>
<rect x="2708.3" y="791.0" width="76.3" height="8.5" fill="#13A08C"/>
<rect x="2039" y="82.5" width="17" height="5.5" fill="#111"/>
<text x="2069.5" y="76.3" font-size="37" textLength="145.5" lengthAdjust="spacingAndGlyphs" fill="#1a1a1a">AA (n=2)</text>
<text x="2790.5" y="116.3" font-size="32.5" textLength="54.5" lengthAdjust="spacingAndGlyphs" fill="#1a1a1a">S.2</text>
<text x="2790.5" y="160.1" font-size="32.5" textLength="54.5" lengthAdjust="spacingAndGlyphs" fill="#1a1a1a">S.3</text>
<text x="2790.5" y="204.0" font-size="32.5" textLength="54.5" lengthAdjust="spacingAndGlyphs" fill="#1a1a1a">S.1</text>
<text x="2790.5" y="247.8" font-size="32.5" textLength="54.5" lengthAdjust="spacingAndGlyphs" fill="#1a1a1a">S.4</text>
<text x="2790.5" y="291.6" font-size="32.5" textLength="54.5" lengthAdjust="spacingAndGlyphs" fill="#1a1a1a">S.5</text>
<text x="2790.5" y="335.4" font-size="32.5" textLength="68.5" lengthAdjust="spacingAndGlyphs" fill="#1a1a1a">TA.3</text>
<text x="2790.5" y="379.3" font-size="32.5" textLength="68.5" lengthAdjust="spacingAndGlyphs" fill="#1a1a1a">TA.1</text>
<text x="2790.5" y="423.1" font-size="32.5" textLength="68.5" lengthAdjust="spacingAndGlyphs" fill="#1a1a1a">TA.4</text>
<text x="2790.5" y="466.9" font-size="32.5" textLength="68.5" lengthAdjust="spacingAndGlyphs" fill="#1a1a1a">TA.5</text>
<text x="2790.5" y="510.7" font-size="32.5" textLength="68.5" lengthAdjust="spacingAndGlyphs" fill="#1a1a1a">TA.2</text>
<text x="2790.5" y="554.6" font-size="32.5" textLength="68.5" lengthAdjust="spacingAndGlyphs" fill="#1a1a1a">TA.6</text>
<text x="2790.5" y="598.4" font-size="32.5" textLength="82.0" lengthAdjust="spacingAndGlyphs" fill="#1a1a1a">PN.1</text>
<text x="2790.5" y="642.2" font-size="32.5" textLength="82.0" lengthAdjust="spacingAndGlyphs" fill="#1a1a1a">PN.4</text>
<text x="2790.5" y="686.0" font-size="32.5" textLength="82.0" lengthAdjust="spacingAndGlyphs" fill="#1a1a1a">PN.5</text>
<text x="2790.5" y="729.9" font-size="32.5" textLength="82.0" lengthAdjust="spacingAndGlyphs" fill="#1a1a1a">PN.2</text>
<text x="2790.5" y="773.7" font-size="32.5" textLength="82.0" lengthAdjust="spacingAndGlyphs" fill="#1a1a1a">PN.3</text>
<path d="M1208.4,111.7 L1201.3,111.7 L1201.3,155.5 L1208.4,155.5" fill="none" stroke="#111" stroke-width="2.6" stroke-linejoin="miter" stroke-linecap="square"/>
<path d="M1201.3,133.6 L1176.4,133.6" fill="none" stroke="#111" stroke-width="2.6" stroke-linejoin="miter" stroke-linecap="square"/>
<path d="M1208.4,243.2 L1188.0,243.2 L1188.0,287.0 L1208.4,287.0" fill="none" stroke="#111" stroke-width="2.6" stroke-linejoin="miter" stroke-linecap="square"/>
<path d="M1208.4,199.4 L1186.2,199.4 L1186.2,265.1" fill="none" stroke="#111" stroke-width="2.6" stroke-linejoin="miter" stroke-linecap="square"/>
<path d="M1186.2,232.2 L1176.4,232.2" fill="none" stroke="#111" stroke-width="2.6" stroke-linejoin="miter" stroke-linecap="square"/>
<path d="M1176.4,133.6 L1176.4,232.2" fill="none" stroke="#111" stroke-width="2.6" stroke-linejoin="miter" stroke-linecap="square"/>
<path d="M1176.4,182.9 L1141.6,182.9" fill="none" stroke="#111" stroke-width="2.6" stroke-linejoin="miter" stroke-linecap="square"/>
<path d="M1208.4,418.5 L1201.3,418.5 L1201.3,462.3 L1208.4,462.3" fill="none" stroke="#111" stroke-width="2.6" stroke-linejoin="miter" stroke-linecap="square"/>
<path d="M1201.3,440.4 L1189.5,440.4" fill="none" stroke="#111" stroke-width="2.6" stroke-linejoin="miter" stroke-linecap="square"/>
<path d="M1208.4,506.1 L1190.6,506.1 L1190.6,550.0 L1208.4,550.0" fill="none" stroke="#111" stroke-width="2.6" stroke-linejoin="miter" stroke-linecap="square"/>
<path d="M1189.5,440.4 L1189.5,528.0" fill="none" stroke="#111" stroke-width="2.6" stroke-linejoin="miter" stroke-linecap="square"/>
<path d="M1208.4,374.7 L1188.0,374.7 L1188.0,484.2" fill="none" stroke="#111" stroke-width="2.6" stroke-linejoin="miter" stroke-linecap="square"/>
<path d="M1208.4,330.8 L1187.0,330.8 L1187.0,414.7" fill="none" stroke="#111" stroke-width="2.6" stroke-linejoin="miter" stroke-linecap="square"/>
<path d="M1187.0,379.7 L1153.8,379.7" fill="none" stroke="#111" stroke-width="2.6" stroke-linejoin="miter" stroke-linecap="square"/>
<path d="M1208.4,725.3 L1194.2,725.3 L1194.2,769.1 L1208.4,769.1" fill="none" stroke="#111" stroke-width="2.6" stroke-linejoin="miter" stroke-linecap="square"/>
<path d="M1194.2,747.2 L1190.0,747.2" fill="none" stroke="#111" stroke-width="2.6" stroke-linejoin="miter" stroke-linecap="square"/>
<path d="M1208.4,681.4 L1189.5,681.4 L1189.5,747.2" fill="none" stroke="#111" stroke-width="2.6" stroke-linejoin="miter" stroke-linecap="square"/>
<path d="M1208.4,637.6 L1188.2,637.6 L1188.2,711.4" fill="none" stroke="#111" stroke-width="2.6" stroke-linejoin="miter" stroke-linecap="square"/>
<path d="M1208.4,593.8 L1182.3,593.8 L1182.3,677.0" fill="none" stroke="#111" stroke-width="2.6" stroke-linejoin="miter" stroke-linecap="square"/>
<path d="M1182.3,635.0 L1153.8,635.0" fill="none" stroke="#111" stroke-width="2.6" stroke-linejoin="miter" stroke-linecap="square"/>
<path d="M1153.8,379.7 L1153.8,635.0" fill="none" stroke="#111" stroke-width="2.6" stroke-linejoin="miter" stroke-linecap="square"/>
<path d="M1153.8,508.0 L1141.6,508.0" fill="none" stroke="#111" stroke-width="2.6" stroke-linejoin="miter" stroke-linecap="square"/>
<path d="M1141.6,182.9 L1141.6,508.0" fill="none" stroke="#111" stroke-width="2.6" stroke-linejoin="miter" stroke-linecap="square"/>
<defs><linearGradient id="cbg" x1="0" y1="0" x2="0" y2="1"><stop offset="0" stop-color="#E8474C"/><stop offset="0.18" stop-color="#EE6E72"/><stop offset="0.36" stop-color="#F5A9AC"/><stop offset="0.5" stop-color="#ffffff"/><stop offset="0.64" stop-color="#A5D8D2"/><stop offset="0.82" stop-color="#5CBBB0"/><stop offset="1" stop-color="#1AA598"/></linearGradient></defs>
<rect x="2861" y="92.4" width="30.2" height="235" fill="url(#cbg)"/>
<text x="2904.5" y="143.7" font-size="15.8" textLength="13.8" lengthAdjust="spacingAndGlyphs" fill="#1a1a1a">2</text>
<text x="2904.5" y="215.5" font-size="15.8" textLength="13.8" lengthAdjust="spacingAndGlyphs" fill="#1a1a1a">0</text>
<text x="2904.5" y="288.8" font-size="15.8" textLength="32.0" lengthAdjust="spacingAndGlyphs" fill="#1a1a1a">−2</text>
<text x="2950.0" y="104.0" font-size="25.5" font-weight="bold" textLength="132.5" lengthAdjust="spacingAndGlyphs" fill="#1a1a1a">Groups</text>
<rect x="2948" y="124.2" width="62.4" height="40.5" fill="#0B9B4C"/>
<text x="3025.3" y="153.8" font-size="26.5" textLength="55.1" lengthAdjust="spacingAndGlyphs" fill="#1a1a1a">PN</text>
<rect x="2948" y="164.5" width="62.4" height="40.5" fill="#F08481"/>
<text x="3025.0" y="194.0" font-size="26.5" textLength="52.0" lengthAdjust="spacingAndGlyphs" fill="#1a1a1a">TS</text>
<rect x="2948" y="204.8" width="62.4" height="40.5" fill="#D2693A"/>
<text x="3020.0" y="234.4" font-size="26.5" textLength="47.7" lengthAdjust="spacingAndGlyphs" fill="#1a1a1a">TA</text>
<text transform="translate(1201.8,797.5) rotate(90)" font-size="38" font-weight="bold" textLength="116" lengthAdjust="spacingAndGlyphs" fill="#111">Groups</text>
<text x="1620.4" y="840.0" font-size="37" textLength="71.2" lengthAdjust="spacingAndGlyphs" fill="#1a1a1a">GHs</text>
<text x="1599.0" y="890.3" font-size="37" textLength="106.8" lengthAdjust="spacingAndGlyphs" fill="#1a1a1a">(n=90)</text>
<text x="1998.4" y="836.5" font-size="37" textLength="68.4" lengthAdjust="spacingAndGlyphs" fill="#1a1a1a">CEs</text>
<text x="1989.5" y="886.7" font-size="37" textLength="85.4" lengthAdjust="spacingAndGlyphs" fill="#1a1a1a">(n=7)</text>
<text x="2245.6" y="837.8" font-size="37" textLength="99.2" lengthAdjust="spacingAndGlyphs" fill="#1a1a1a">CBMs</text>
<text x="2226.5" y="889.0" font-size="37" textLength="105.8" lengthAdjust="spacingAndGlyphs" fill="#1a1a1a">(n=43)</text>
<text x="2548.0" y="832.5" font-size="37" textLength="69.0" lengthAdjust="spacingAndGlyphs" fill="#1a1a1a">GTs</text>
<text x="2528.0" y="884.5" font-size="37" textLength="105.8" lengthAdjust="spacingAndGlyphs" fill="#1a1a1a">(n=33)</text>
<text x="2730.3" y="832.5" font-size="37" textLength="61.4" lengthAdjust="spacingAndGlyphs" fill="#1a1a1a">PLs</text>
<text x="2709.4" y="884.5" font-size="37" textLength="86.6" lengthAdjust="spacingAndGlyphs" fill="#1a1a1a">(n=9)</text>
</g>
<g id="panel-c">
<text x="101.5" y="928.5" font-size="66" textLength="39.0" lengthAdjust="spacingAndGlyphs" fill="#1a1a1a">c</text>
<rect x="217.2" y="951" width="2620.4" height="482.6" fill="#fff"/>
<line x1="217.2" x2="2837.6" y1="1412.0" y2="1412.0" stroke="#E9E9E9" stroke-width="1.3"/>
<line x1="217.2" x2="2837.6" y1="1346.5" y2="1346.5" stroke="#E9E9E9" stroke-width="1.0"/>
<line x1="217.2" x2="2837.6" y1="1281.0" y2="1281.0" stroke="#E9E9E9" stroke-width="1.3"/>
<line x1="217.2" x2="2837.6" y1="1215.5" y2="1215.5" stroke="#E9E9E9" stroke-width="1.0"/>
<line x1="217.2" x2="2837.6" y1="1150.0" y2="1150.0" stroke="#E9E9E9" stroke-width="1.3"/>
<line x1="217.2" x2="2837.6" y1="1084.5" y2="1084.5" stroke="#E9E9E9" stroke-width="1.0"/>
<line x1="217.2" x2="2837.6" y1="1019.0" y2="1019.0" stroke="#E9E9E9" stroke-width="1.3"/>
<line x1="291.5" x2="291.5" y1="963" y2="1431.6" stroke="#E9E9E9" stroke-width="1.2"/>
<line x1="415.1" x2="415.1" y1="963" y2="1431.6" stroke="#E9E9E9" stroke-width="1.2"/>
<line x1="538.7" x2="538.7" y1="963" y2="1431.6" stroke="#E9E9E9" stroke-width="1.2"/>
<line x1="662.3" x2="662.3" y1="963" y2="1431.6" stroke="#E9E9E9" stroke-width="1.2"/>
<line x1="785.9" x2="785.9" y1="963" y2="1431.6" stroke="#E9E9E9" stroke-width="1.2"/>
<line x1="909.5" x2="909.5" y1="963" y2="1431.6" stroke="#E9E9E9" stroke-width="1.2"/>
<line x1="1033.1" x2="1033.1" y1="963" y2="1431.6" stroke="#E9E9E9" stroke-width="1.2"/>
<line x1="1156.7" x2="1156.7" y1="963" y2="1431.6" stroke="#E9E9E9" stroke-width="1.2"/>
<line x1="1280.3" x2="1280.3" y1="963" y2="1431.6" stroke="#E9E9E9" stroke-width="1.2"/>
<line x1="1403.9" x2="1403.9" y1="963" y2="1431.6" stroke="#E9E9E9" stroke-width="1.2"/>
<line x1="1527.5" x2="1527.5" y1="963" y2="1431.6" stroke="#E9E9E9" stroke-width="1.2"/>
<line x1="1651.1" x2="1651.1" y1="963" y2="1431.6" stroke="#E9E9E9" stroke-width="1.2"/>
<line x1="1774.7" x2="1774.7" y1="963" y2="1431.6" stroke="#E9E9E9" stroke-width="1.2"/>
<line x1="1898.3" x2="1898.3" y1="963" y2="1431.6" stroke="#E9E9E9" stroke-width="1.2"/>
<line x1="2021.9" x2="2021.9" y1="963" y2="1431.6" stroke="#E9E9E9" stroke-width="1.2"/>
<line x1="2145.5" x2="2145.5" y1="963" y2="1431.6" stroke="#E9E9E9" stroke-width="1.2"/>
<line x1="2269.1" x2="2269.1" y1="963" y2="1431.6" stroke="#E9E9E9" stroke-width="1.2"/>
<line x1="2392.7" x2="2392.7" y1="963" y2="1431.6" stroke="#E9E9E9" stroke-width="1.2"/>
<line x1="2516.3" x2="2516.3" y1="963" y2="1431.6" stroke="#E9E9E9" stroke-width="1.2"/>
<line x1="2639.9" x2="2639.9" y1="963" y2="1431.6" stroke="#E9E9E9" stroke-width="1.2"/>
<line x1="2763.5" x2="2763.5" y1="963" y2="1431.6" stroke="#E9E9E9" stroke-width="1.2"/>
<rect x="217.2" y="1446" width="2620.4" height="782.8" fill="#fff"/>
<line x1="217.2" x2="2837.6" y1="2193.0" y2="2193.0" stroke="#EBE5E3" stroke-width="4.2"/>
<line x1="217.2" x2="2837.6" y1="2121.8" y2="2121.8" stroke="#EBE5E3" stroke-width="2.2"/>
<line x1="217.2" x2="2837.6" y1="2050.7" y2="2050.7" stroke="#EBE5E3" stroke-width="4.2"/>
<line x1="217.2" x2="2837.6" y1="1979.5" y2="1979.5" stroke="#EBE5E3" stroke-width="2.2"/>
<line x1="217.2" x2="2837.6" y1="1908.4" y2="1908.4" stroke="#EBE5E3" stroke-width="4.2"/>
<line x1="217.2" x2="2837.6" y1="1837.2" y2="1837.2" stroke="#EBE5E3" stroke-width="2.2"/>
<line x1="217.2" x2="2837.6" y1="1766.1" y2="1766.1" stroke="#EBE5E3" stroke-width="4.2"/>
<line x1="217.2" x2="2837.6" y1="1694.9" y2="1694.9" stroke="#EBE5E3" stroke-width="2.2"/>
<line x1="217.2" x2="2837.6" y1="1623.8" y2="1623.8" stroke="#EBE5E3" stroke-width="4.2"/>
<line x1="217.2" x2="2837.6" y1="1552.7" y2="1552.7" stroke="#EBE5E3" stroke-width="2.2"/>
<line x1="217.2" x2="2837.6" y1="1481.5" y2="1481.5" stroke="#EBE5E3" stroke-width="4.2"/>
<line x1="291.5" x2="291.5" y1="1448" y2="2228.8" stroke="#EBE5E3" stroke-width="4.2"/>
<line x1="415.1" x2="415.1" y1="1448" y2="2228.8" stroke="#EBE5E3" stroke-width="4.2"/>
<line x1="538.7" x2="538.7" y1="1448" y2="2228.8" stroke="#EBE5E3" stroke-width="4.2"/>
<line x1="662.3" x2="662.3" y1="1448" y2="2228.8" stroke="#EBE5E3" stroke-width="4.2"/>
<line x1="785.9" x2="785.9" y1="1448" y2="2228.8" stroke="#EBE5E3" stroke-width="4.2"/>
<line x1="909.5" x2="909.5" y1="1448" y2="2228.8" stroke="#EBE5E3" stroke-width="4.2"/>
<line x1="1033.1" x2="1033.1" y1="1448" y2="2228.8" stroke="#EBE5E3" stroke-width="4.2"/>
<line x1="1156.7" x2="1156.7" y1="1448" y2="2228.8" stroke="#EBE5E3" stroke-width="4.2"/>
<line x1="1280.3" x2="1280.3" y1="1448" y2="2228.8" stroke="#EBE5E3" stroke-width="4.2"/>
<line x1="1403.9" x2="1403.9" y1="1448" y2="2228.8" stroke="#EBE5E3" stroke-width="4.2"/>
<line x1="1527.5" x2="1527.5" y1="1448" y2="2228.8" stroke="#EBE5E3" stroke-width="4.2"/>
<line x1="1651.1" x2="1651.1" y1="1448" y2="2228.8" stroke="#EBE5E3" stroke-width="4.2"/>
<line x1="1774.7" x2="1774.7" y1="1448" y2="2228.8" stroke="#EBE5E3" stroke-width="4.2"/>
<line x1="1898.3" x2="1898.3" y1="1448" y2="2228.8" stroke="#EBE5E3" stroke-width="4.2"/>
<line x1="2021.9" x2="2021.9" y1="1448" y2="2228.8" stroke="#EBE5E3" stroke-width="4.2"/>
<line x1="2145.5" x2="2145.5" y1="1448" y2="2228.8" stroke="#EBE5E3" stroke-width="4.2"/>
<line x1="2269.1" x2="2269.1" y1="1448" y2="2228.8" stroke="#EBE5E3" stroke-width="4.2"/>
<line x1="2392.7" x2="2392.7" y1="1448" y2="2228.8" stroke="#EBE5E3" stroke-width="4.2"/>
<line x1="2516.3" x2="2516.3" y1="1448" y2="2228.8" stroke="#EBE5E3" stroke-width="4.2"/>
<line x1="2639.9" x2="2639.9" y1="1448" y2="2228.8" stroke="#EBE5E3" stroke-width="4.2"/>
<line x1="2763.5" x2="2763.5" y1="1448" y2="2228.8" stroke="#EBE5E3" stroke-width="4.2"/>
<clipPath id="cl"><rect x="217.2" y="1447" width="2620.4" height="782.8"/></clipPath>
<g clip-path="url(#cl)">
<line x1="262.4" x2="262.4" y1="1739.3" y2="1818.8" stroke="#53968E" stroke-width="3.8"/>
<line x1="256.1" x2="268.6" y1="1739.3" y2="1739.3" stroke="#53968E" stroke-width="3.8"/>
<rect x="252.1" y="1818.8" width="20.6" height="374.2" fill="#53968E"/>
<line x1="291.5" x2="291.5" y1="1918.4" y2="1990.2" stroke="#F2B8D1" stroke-width="3.8"/>
<line x1="285.2" x2="297.8" y1="1918.4" y2="1918.4" stroke="#F2B8D1" stroke-width="3.8"/>
<rect x="281.2" y="1990.2" width="20.6" height="202.8" fill="#F2B8D1"/>
<line x1="320.6" x2="320.6" y1="1465.3" y2="1532.7" stroke="#D4693A" stroke-width="3.8"/>
<line x1="314.4" x2="326.9" y1="1465.3" y2="1465.3" stroke="#D4693A" stroke-width="3.8"/>
<rect x="310.3" y="1532.7" width="20.6" height="660.3" fill="#D4693A"/>
<line x1="386.0" x2="386.0" y1="1648.9" y2="1702.5" stroke="#53968E" stroke-width="3.8"/>
<line x1="379.8" x2="392.2" y1="1648.9" y2="1648.9" stroke="#53968E" stroke-width="3.8"/>
<rect x="375.7" y="1702.5" width="20.6" height="490.5" fill="#53968E"/>
<line x1="415.1" x2="415.1" y1="1728.6" y2="1806.8" stroke="#F2B8D1" stroke-width="3.8"/>
<line x1="408.9" x2="421.4" y1="1728.6" y2="1728.6" stroke="#F2B8D1" stroke-width="3.8"/>
<rect x="404.8" y="1806.8" width="20.6" height="386.2" fill="#F2B8D1"/>
<line x1="444.2" x2="444.2" y1="1574.9" y2="1633.8" stroke="#D4693A" stroke-width="3.8"/>
<line x1="438.0" x2="450.5" y1="1574.9" y2="1574.9" stroke="#D4693A" stroke-width="3.8"/>
<rect x="433.9" y="1633.8" width="20.6" height="559.2" fill="#D4693A"/>
<line x1="509.6" x2="509.6" y1="2053.7" y2="2089.3" stroke="#53968E" stroke-width="3.8"/>
<line x1="503.4" x2="515.9" y1="2053.7" y2="2053.7" stroke="#53968E" stroke-width="3.8"/>
<rect x="499.3" y="2089.3" width="20.6" height="103.7" fill="#53968E"/>
<line x1="538.7" x2="538.7" y1="2145.8" y2="2155.6" stroke="#F2B8D1" stroke-width="3.8"/>
<line x1="532.5" x2="545.0" y1="2145.8" y2="2145.8" stroke="#F2B8D1" stroke-width="3.8"/>
<rect x="528.4" y="2155.6" width="20.6" height="37.4" fill="#F2B8D1"/>
<line x1="567.8" x2="567.8" y1="2053.0" y2="2076.9" stroke="#D4693A" stroke-width="3.8"/>
<line x1="561.6" x2="574.1" y1="2053.0" y2="2053.0" stroke="#D4693A" stroke-width="3.8"/>
<rect x="557.5" y="2076.9" width="20.6" height="116.1" fill="#D4693A"/>
<line x1="633.2" x2="633.2" y1="2147.4" y2="2158.3" stroke="#53968E" stroke-width="3.8"/>
<line x1="626.9" x2="639.4" y1="2147.4" y2="2147.4" stroke="#53968E" stroke-width="3.8"/>
<rect x="622.9" y="2158.3" width="20.6" height="34.7" fill="#53968E"/>
<line x1="662.3" x2="662.3" y1="2160.7" y2="2170.5" stroke="#F2B8D1" stroke-width="3.8"/>
<line x1="656.0" x2="668.5" y1="2160.7" y2="2160.7" stroke="#F2B8D1" stroke-width="3.8"/>
<rect x="652.0" y="2170.5" width="20.6" height="22.5" fill="#F2B8D1"/>
<line x1="691.4" x2="691.4" y1="2105.1" y2="2119.7" stroke="#D4693A" stroke-width="3.8"/>
<line x1="685.1" x2="697.6" y1="2105.1" y2="2105.1" stroke="#D4693A" stroke-width="3.8"/>
<rect x="681.1" y="2119.7" width="20.6" height="73.3" fill="#D4693A"/>
<line x1="756.8" x2="756.8" y1="2162.9" y2="2174.5" stroke="#53968E" stroke-width="3.8"/>
<line x1="750.5" x2="763.0" y1="2162.9" y2="2162.9" stroke="#53968E" stroke-width="3.8"/>
<rect x="746.5" y="2174.5" width="20.6" height="18.5" fill="#53968E"/>
<line x1="785.9" x2="785.9" y1="2182.7" y2="2185.0" stroke="#F2B8D1" stroke-width="3.8"/>
<line x1="779.6" x2="792.1" y1="2182.7" y2="2182.7" stroke="#F2B8D1" stroke-width="3.8"/>
<rect x="775.6" y="2185.0" width="20.6" height="8.0" fill="#F2B8D1"/>
<line x1="815.0" x2="815.0" y1="2138.4" y2="2149.6" stroke="#D4693A" stroke-width="3.8"/>
<line x1="808.8" x2="821.2" y1="2138.4" y2="2138.4" stroke="#D4693A" stroke-width="3.8"/>
<rect x="804.7" y="2149.6" width="20.6" height="43.4" fill="#D4693A"/>
<line x1="880.4" x2="880.4" y1="2186.8" y2="2187.6" stroke="#53968E" stroke-width="3.8"/>
<line x1="874.1" x2="886.6" y1="2186.8" y2="2186.8" stroke="#53968E" stroke-width="3.8"/>
<rect x="870.1" y="2187.6" width="20.6" height="5.4" fill="#53968E"/>
<line x1="909.5" x2="909.5" y1="2189.6" y2="2190.3" stroke="#F2B8D1" stroke-width="3.8"/>
<line x1="903.2" x2="915.8" y1="2189.6" y2="2189.6" stroke="#F2B8D1" stroke-width="3.8"/>
<rect x="899.2" y="2190.3" width="20.6" height="2.7" fill="#F2B8D1"/>
<line x1="938.6" x2="938.6" y1="2158.3" y2="2166.0" stroke="#D4693A" stroke-width="3.8"/>
<line x1="932.4" x2="944.9" y1="2158.3" y2="2158.3" stroke="#D4693A" stroke-width="3.8"/>
<rect x="928.3" y="2166.0" width="20.6" height="27.0" fill="#D4693A"/>
<line x1="1004.0" x2="1004.0" y1="2191.3" y2="2191.4" stroke="#53968E" stroke-width="3.8"/>
<line x1="997.7" x2="1010.2" y1="2191.3" y2="2191.3" stroke="#53968E" stroke-width="3.8"/>
<rect x="993.7" y="2191.4" width="20.6" height="1.6" fill="#53968E"/>
<line x1="1033.1" x2="1033.1" y1="2191.3" y2="2191.4" stroke="#F2B8D1" stroke-width="3.8"/>
<line x1="1026.8" x2="1039.3" y1="2191.3" y2="2191.3" stroke="#F2B8D1" stroke-width="3.8"/>
<rect x="1022.8" y="2191.4" width="20.6" height="1.6" fill="#F2B8D1"/>
<line x1="1062.2" x2="1062.2" y1="2181.7" y2="2185.0" stroke="#D4693A" stroke-width="3.8"/>
<line x1="1055.9" x2="1068.4" y1="2181.7" y2="2181.7" stroke="#D4693A" stroke-width="3.8"/>
<rect x="1051.9" y="2185.0" width="20.6" height="8.0" fill="#D4693A"/>
<line x1="1127.6" x2="1127.6" y1="2188.2" y2="2188.2" stroke="#53968E" stroke-width="3.8"/>
<line x1="1121.3" x2="1133.8" y1="2188.2" y2="2188.2" stroke="#53968E" stroke-width="3.8"/>
<rect x="1117.3" y="2188.2" width="20.6" height="4.8" fill="#53968E"/>
<line x1="1156.7" x2="1156.7" y1="2191.1" y2="2190.9" stroke="#F2B8D1" stroke-width="3.8"/>
<line x1="1150.4" x2="1162.9" y1="2191.1" y2="2191.1" stroke="#F2B8D1" stroke-width="3.8"/>
<rect x="1146.4" y="2190.9" width="20.6" height="2.1" fill="#F2B8D1"/>
<line x1="1185.8" x2="1185.8" y1="2188.5" y2="2189.7" stroke="#D4693A" stroke-width="3.8"/>
<line x1="1179.5" x2="1192.0" y1="2188.5" y2="2188.5" stroke="#D4693A" stroke-width="3.8"/>
<rect x="1175.5" y="2189.7" width="20.6" height="3.3" fill="#D4693A"/>
<rect x="1240.9" y="912.3" width="20.6" height="1280.7" fill="#53968E"/>
<rect x="1270.0" y="912.3" width="20.6" height="1280.7" fill="#F2B8D1"/>
<rect x="1299.1" y="912.3" width="20.6" height="1280.7" fill="#D4693A"/>
<line x1="1374.8" x2="1374.8" y1="1671.7" y2="1749.5" stroke="#53968E" stroke-width="3.8"/>
<line x1="1368.5" x2="1381.0" y1="1671.7" y2="1671.7" stroke="#53968E" stroke-width="3.8"/>
<rect x="1364.5" y="1749.5" width="20.6" height="443.5" fill="#53968E"/>
<line x1="1403.9" x2="1403.9" y1="1849.5" y2="1915.5" stroke="#F2B8D1" stroke-width="3.8"/>
<line x1="1397.6" x2="1410.1" y1="1849.5" y2="1849.5" stroke="#F2B8D1" stroke-width="3.8"/>
<rect x="1393.6" y="1915.5" width="20.6" height="277.5" fill="#F2B8D1"/>
<line x1="1433.0" x2="1433.0" y1="1497.3" y2="1600.3" stroke="#D4693A" stroke-width="3.8"/>
<line x1="1426.7" x2="1439.2" y1="1497.3" y2="1497.3" stroke="#D4693A" stroke-width="3.8"/>
<rect x="1422.7" y="1600.3" width="20.6" height="592.7" fill="#D4693A"/>
<line x1="1498.4" x2="1498.4" y1="1897.1" y2="1910.0" stroke="#53968E" stroke-width="3.8"/>
<line x1="1492.2" x2="1504.7" y1="1897.1" y2="1897.1" stroke="#53968E" stroke-width="3.8"/>
<rect x="1488.1" y="1910.0" width="20.6" height="283.0" fill="#53968E"/>
<line x1="1527.5" x2="1527.5" y1="1920.0" y2="1986.5" stroke="#F2B8D1" stroke-width="3.8"/>
<line x1="1521.2" x2="1533.8" y1="1920.0" y2="1920.0" stroke="#F2B8D1" stroke-width="3.8"/>
<rect x="1517.2" y="1986.5" width="20.6" height="206.5" fill="#F2B8D1"/>
<line x1="1556.6" x2="1556.6" y1="1826.9" y2="1881.6" stroke="#D4693A" stroke-width="3.8"/>
<line x1="1550.3" x2="1562.8" y1="1826.9" y2="1826.9" stroke="#D4693A" stroke-width="3.8"/>
<rect x="1546.3" y="1881.6" width="20.6" height="311.4" fill="#D4693A"/>
<line x1="1622.0" x2="1622.0" y1="2024.8" y2="2050.7" stroke="#53968E" stroke-width="3.8"/>
<line x1="1615.8" x2="1628.2" y1="2024.8" y2="2024.8" stroke="#53968E" stroke-width="3.8"/>
<rect x="1611.7" y="2050.7" width="20.6" height="142.3" fill="#53968E"/>
<line x1="1651.1" x2="1651.1" y1="1929.6" y2="1979.5" stroke="#F2B8D1" stroke-width="3.8"/>
<line x1="1644.8" x2="1657.3" y1="1929.6" y2="1929.6" stroke="#F2B8D1" stroke-width="3.8"/>
<rect x="1640.8" y="1979.5" width="20.6" height="213.5" fill="#F2B8D1"/>
<line x1="1680.2" x2="1680.2" y1="1984.1" y2="2005.7" stroke="#D4693A" stroke-width="3.8"/>
<line x1="1673.9" x2="1686.4" y1="1984.1" y2="1984.1" stroke="#D4693A" stroke-width="3.8"/>
<rect x="1669.9" y="2005.7" width="20.6" height="187.3" fill="#D4693A"/>
<line x1="1745.6" x2="1745.6" y1="1995.0" y2="2013.8" stroke="#53968E" stroke-width="3.8"/>
<line x1="1739.3" x2="1751.8" y1="1995.0" y2="1995.0" stroke="#53968E" stroke-width="3.8"/>
<rect x="1735.3" y="2013.8" width="20.6" height="179.2" fill="#53968E"/>
<line x1="1774.7" x2="1774.7" y1="2005.6" y2="2030.9" stroke="#F2B8D1" stroke-width="3.8"/>
<line x1="1768.4" x2="1780.9" y1="2005.6" y2="2005.6" stroke="#F2B8D1" stroke-width="3.8"/>
<rect x="1764.4" y="2030.9" width="20.6" height="162.1" fill="#F2B8D1"/>
<line x1="1803.8" x2="1803.8" y1="1970.3" y2="1979.5" stroke="#D4693A" stroke-width="3.8"/>
<line x1="1797.5" x2="1810.0" y1="1970.3" y2="1970.3" stroke="#D4693A" stroke-width="3.8"/>
<rect x="1793.5" y="1979.5" width="20.6" height="213.5" fill="#D4693A"/>
<line x1="1869.2" x2="1869.2" y1="2108.8" y2="2129.8" stroke="#53968E" stroke-width="3.8"/>
<line x1="1863.0" x2="1875.5" y1="2108.8" y2="2108.8" stroke="#53968E" stroke-width="3.8"/>
<rect x="1858.9" y="2129.8" width="20.6" height="63.2" fill="#53968E"/>
<line x1="1898.3" x2="1898.3" y1="2156.5" y2="2162.0" stroke="#F2B8D1" stroke-width="3.8"/>
<line x1="1892.0" x2="1904.5" y1="2156.5" y2="2156.5" stroke="#F2B8D1" stroke-width="3.8"/>
<rect x="1888.0" y="2162.0" width="20.6" height="31.0" fill="#F2B8D1"/>
<line x1="1927.4" x2="1927.4" y1="2023.3" y2="2049.1" stroke="#D4693A" stroke-width="3.8"/>
<line x1="1921.1" x2="1933.6" y1="2023.3" y2="2023.3" stroke="#D4693A" stroke-width="3.8"/>
<rect x="1917.1" y="2049.1" width="20.6" height="143.9" fill="#D4693A"/>
<line x1="1992.8" x2="1992.8" y1="2170.8" y2="2173.8" stroke="#53968E" stroke-width="3.8"/>
<line x1="1986.5" x2="1999.0" y1="2170.8" y2="2170.8" stroke="#53968E" stroke-width="3.8"/>
<rect x="1982.5" y="2173.8" width="20.6" height="19.2" fill="#53968E"/>
<line x1="2021.9" x2="2021.9" y1="2183.2" y2="2185.0" stroke="#F2B8D1" stroke-width="3.8"/>
<line x1="2015.6" x2="2028.1" y1="2183.2" y2="2183.2" stroke="#F2B8D1" stroke-width="3.8"/>
<rect x="2011.6" y="2185.0" width="20.6" height="8.0" fill="#F2B8D1"/>
<line x1="2051.0" x2="2051.0" y1="2175.7" y2="2179.6" stroke="#D4693A" stroke-width="3.8"/>
<line x1="2044.8" x2="2057.2" y1="2175.7" y2="2175.7" stroke="#D4693A" stroke-width="3.8"/>
<rect x="2040.7" y="2179.6" width="20.6" height="13.4" fill="#D4693A"/>
<rect x="2106.1" y="2131.5" width="20.6" height="61.5" fill="#53968E"/>
<rect x="2135.2" y="2150.3" width="20.6" height="42.7" fill="#F2B8D1"/>
<line x1="2174.6" x2="2174.6" y1="2076.2" y2="2098.8" stroke="#D4693A" stroke-width="3.8"/>
<line x1="2168.3" x2="2180.8" y1="2076.2" y2="2076.2" stroke="#D4693A" stroke-width="3.8"/>
<rect x="2164.3" y="2098.8" width="20.6" height="94.2" fill="#D4693A"/>
<line x1="2240.0" x2="2240.0" y1="913.2" y2="1473.5" stroke="#53968E" stroke-width="3.8"/>
<line x1="2233.8" x2="2246.2" y1="913.2" y2="913.2" stroke="#53968E" stroke-width="3.8"/>
<rect x="2229.7" y="1473.5" width="20.6" height="719.5" fill="#53968E"/>
<rect x="2258.8" y="912.3" width="20.6" height="1280.7" fill="#F2B8D1"/>
<rect x="2287.9" y="912.3" width="20.6" height="1280.7" fill="#D4693A"/>
<line x1="2363.6" x2="2363.6" y1="1457.2" y2="1546.2" stroke="#53968E" stroke-width="3.8"/>
<line x1="2357.3" x2="2369.8" y1="1457.2" y2="1457.2" stroke="#53968E" stroke-width="3.8"/>
<rect x="2353.3" y="1546.2" width="20.6" height="646.8" fill="#53968E"/>
<line x1="2392.7" x2="2392.7" y1="1723.2" y2="1843.1" stroke="#F2B8D1" stroke-width="3.8"/>
<line x1="2386.4" x2="2398.9" y1="1723.2" y2="1723.2" stroke="#F2B8D1" stroke-width="3.8"/>
<rect x="2382.4" y="1843.1" width="20.6" height="349.9" fill="#F2B8D1"/>
<rect x="2411.5" y="912.3" width="20.6" height="1280.7" fill="#D4693A"/>
<line x1="2487.2" x2="2487.2" y1="1953.1" y2="1972.0" stroke="#53968E" stroke-width="3.8"/>
<line x1="2480.9" x2="2493.4" y1="1953.1" y2="1953.1" stroke="#53968E" stroke-width="3.8"/>
<rect x="2476.9" y="1972.0" width="20.6" height="221.0" fill="#53968E"/>
<line x1="2516.3" x2="2516.3" y1="2059.1" y2="2086.6" stroke="#F2B8D1" stroke-width="3.8"/>
<line x1="2510.0" x2="2522.5" y1="2059.1" y2="2059.1" stroke="#F2B8D1" stroke-width="3.8"/>
<rect x="2506.0" y="2086.6" width="20.6" height="106.4" fill="#F2B8D1"/>
<line x1="2545.4" x2="2545.4" y1="1974.0" y2="1996.2" stroke="#D4693A" stroke-width="3.8"/>
<line x1="2539.1" x2="2551.6" y1="1974.0" y2="1974.0" stroke="#D4693A" stroke-width="3.8"/>
<rect x="2535.1" y="1996.2" width="20.6" height="196.8" fill="#D4693A"/>
<line x1="2610.8" x2="2610.8" y1="2055.9" y2="2075.3" stroke="#53968E" stroke-width="3.8"/>
<line x1="2604.6" x2="2617.1" y1="2055.9" y2="2055.9" stroke="#53968E" stroke-width="3.8"/>
<rect x="2600.5" y="2075.3" width="20.6" height="117.7" fill="#53968E"/>
<line x1="2639.9" x2="2639.9" y1="2115.2" y2="2137.4" stroke="#F2B8D1" stroke-width="3.8"/>
<line x1="2633.7" x2="2646.2" y1="2115.2" y2="2115.2" stroke="#F2B8D1" stroke-width="3.8"/>
<rect x="2629.6" y="2137.4" width="20.6" height="55.6" fill="#F2B8D1"/>
<line x1="2669.0" x2="2669.0" y1="1986.9" y2="2008.4" stroke="#D4693A" stroke-width="3.8"/>
<line x1="2662.8" x2="2675.2" y1="1986.9" y2="1986.9" stroke="#D4693A" stroke-width="3.8"/>
<rect x="2658.7" y="2008.4" width="20.6" height="184.6" fill="#D4693A"/>
<line x1="2734.4" x2="2734.4" y1="2016.3" y2="2047.4" stroke="#53968E" stroke-width="3.8"/>
<line x1="2728.2" x2="2740.7" y1="2016.3" y2="2016.3" stroke="#53968E" stroke-width="3.8"/>
<rect x="2724.1" y="2047.4" width="20.6" height="145.6" fill="#53968E"/>
<line x1="2763.5" x2="2763.5" y1="2080.5" y2="2109.6" stroke="#F2B8D1" stroke-width="3.8"/>
<line x1="2757.2" x2="2769.8" y1="2080.5" y2="2080.5" stroke="#F2B8D1" stroke-width="3.8"/>
<rect x="2753.2" y="2109.6" width="20.6" height="83.4" fill="#F2B8D1"/>
<line x1="2792.6" x2="2792.6" y1="2108.8" y2="2116.0" stroke="#D4693A" stroke-width="3.8"/>
<line x1="2786.3" x2="2798.8" y1="2108.8" y2="2108.8" stroke="#D4693A" stroke-width="3.8"/>
<rect x="2782.3" y="2116.0" width="20.6" height="77.0" fill="#D4693A"/>
<line x1="2116.4" x2="2116.4" y1="2116.2" y2="2145.6" stroke="#E8736F" stroke-width="3.8"/>
<line x1="2110.2" x2="2122.7" y1="2116.2" y2="2116.2" stroke="#E8736F" stroke-width="3.8"/>
<line x1="2110.2" x2="2122.7" y1="2145.6" y2="2145.6" stroke="#E8736F" stroke-width="3.8"/>
<line x1="2145.5" x2="2145.5" y1="2143.0" y2="2156.4" stroke="#0B9E4F" stroke-width="3.8"/>
<line x1="2139.2" x2="2151.8" y1="2143.0" y2="2143.0" stroke="#0B9E4F" stroke-width="3.8"/>
<line x1="2139.2" x2="2151.8" y1="2156.4" y2="2156.4" stroke="#0B9E4F" stroke-width="3.8"/>
</g>
<line x1="1251.2" x2="1251.2" y1="1057.2" y2="1084.9" stroke="#53968E" stroke-width="1.4"/>
<line x1="1245.0" x2="1257.5" y1="1057.2" y2="1057.2" stroke="#53968E" stroke-width="1.4"/>
<rect x="1240.9" y="1084.9" width="20.6" height="347.7" fill="#53968E"/>
<line x1="1280.3" x2="1280.3" y1="1105.2" y2="1138.0" stroke="#F2B8D1" stroke-width="1.4"/>
<line x1="1274.0" x2="1286.5" y1="1105.2" y2="1105.2" stroke="#F2B8D1" stroke-width="1.4"/>
<rect x="1270.0" y="1138.0" width="20.6" height="294.6" fill="#F2B8D1"/>
<line x1="1309.4" x2="1309.4" y1="985.7" y2="1033.0" stroke="#D4693A" stroke-width="1.4"/>
<line x1="1303.1" x2="1315.6" y1="985.7" y2="985.7" stroke="#D4693A" stroke-width="1.4"/>
<rect x="1299.1" y="1033.0" width="20.6" height="399.6" fill="#D4693A"/>
<line x1="2240.0" x2="2240.0" y1="1399.7" y2="1411.0" stroke="#53968E" stroke-width="1.4"/>
<line x1="2233.8" x2="2246.2" y1="1399.7" y2="1399.7" stroke="#53968E" stroke-width="1.4"/>
<rect x="2229.7" y="1411.0" width="20.6" height="21.6" fill="#53968E"/>
<line x1="2269.1" x2="2269.1" y1="1106.4" y2="1178.9" stroke="#F2B8D1" stroke-width="3.8"/>
<line x1="2262.8" x2="2275.3" y1="1106.4" y2="1106.4" stroke="#F2B8D1" stroke-width="3.8"/>
<rect x="2258.8" y="1178.9" width="20.6" height="253.7" fill="#F2B8D1"/>
<line x1="2298.2" x2="2298.2" y1="1281.9" y2="1319.4" stroke="#D4693A" stroke-width="3.8"/>
<line x1="2291.9" x2="2304.4" y1="1281.9" y2="1281.9" stroke="#D4693A" stroke-width="3.8"/>
<rect x="2287.9" y="1319.4" width="20.6" height="113.2" fill="#D4693A"/>
<line x1="2363.6" x2="2363.6" y1="1408.7" y2="1424.2" stroke="#53968E" stroke-width="1.4"/>
<line x1="2357.3" x2="2369.8" y1="1408.7" y2="1408.7" stroke="#53968E" stroke-width="1.4"/>
<rect x="2353.3" y="1424.2" width="20.6" height="8.4" fill="#53968E"/>
<line x1="2421.8" x2="2421.8" y1="1381.3" y2="1399.0" stroke="#D4693A" stroke-width="1.4"/>
<line x1="2415.5" x2="2428.0" y1="1381.3" y2="1381.3" stroke="#D4693A" stroke-width="1.4"/>
<rect x="2411.5" y="1399.0" width="20.6" height="33.6" fill="#D4693A"/>
<line x1="2233.8" x2="2246.2" y1="1406.5" y2="1406.5" stroke="#53968E" stroke-width="3.8"/>
<line x1="1423.0" x2="1443.0" y1="1433.2" y2="1433.2" stroke="#D4693A" stroke-width="1.6"/>
<rect x="252.5" y="2198.3" width="942.8" height="25.8" fill="#E2DFEE"/>
<text x="616.3" y="2226.6" font-size="41.3" textLength="169.8" lengthAdjust="spacingAndGlyphs" fill="#1a1a1a">Cellulase</text>
<rect x="1241.8" y="2198.3" width="819.2" height="25.8" fill="#A6A5AE"/>
<text x="1512.0" y="2226.6" font-size="41.3" textLength="256.9" lengthAdjust="spacingAndGlyphs" fill="#1a1a1a">Hemicellulase</text>
<rect x="2228.9" y="2198.3" width="572.5" height="25.8" fill="#7F7E85"/>
<text x="2452.0" y="2223.5" font-size="41.3" textLength="161.6" lengthAdjust="spacingAndGlyphs" fill="#1a1a1a">Esterase</text>
<rect x="217.2" y="951" width="2620.4" height="482.6" fill="none" stroke="#6b6664" stroke-width="1.6"/>
<line x1="216.2" x2="2838.6" y1="949.8" y2="949.8" stroke="#6b6664" stroke-width="1.6"/>
<line x1="217.2" x2="217.2" y1="949" y2="1433.6" stroke="#3a3330" stroke-width="1.8"/>
<rect x="217.2" y="1446" width="2620.4" height="782.8" fill="none" stroke="#3a3330" stroke-width="2"/>
<line x1="211.2" x2="217.2" y1="1019.0" y2="1019.0" stroke="#3a3330" stroke-width="3.4"/>
<text x="206.0" y="1032.4" font-size="34.7" text-anchor="end" fill="#4D4643">0.0020</text>
<line x1="211.2" x2="217.2" y1="1150.0" y2="1150.0" stroke="#3a3330" stroke-width="3.4"/>
<text x="206.0" y="1163.4" font-size="34.7" text-anchor="end" fill="#4D4643">0.0015</text>
<line x1="211.2" x2="217.2" y1="1281.0" y2="1281.0" stroke="#3a3330" stroke-width="3.4"/>
<text x="206.0" y="1294.4" font-size="34.7" text-anchor="end" fill="#4D4643">0.0010</text>
<line x1="211.2" x2="217.2" y1="1412.0" y2="1412.0" stroke="#3a3330" stroke-width="3.4"/>
<text x="206.0" y="1425.4" font-size="34.7" text-anchor="end" fill="#4D4643">0.0005</text>
<line x1="211.2" x2="217.2" y1="1481.5" y2="1481.5" stroke="#3a3330" stroke-width="3.4"/>
<text x="206.0" y="1494.9" font-size="34.7" text-anchor="end" fill="#4D4643">5e−04</text>
<line x1="211.2" x2="217.2" y1="1623.8" y2="1623.8" stroke="#3a3330" stroke-width="3.4"/>
<text x="206.0" y="1637.2" font-size="34.7" text-anchor="end" fill="#4D4643">4e−04</text>
<line x1="211.2" x2="217.2" y1="1766.1" y2="1766.1" stroke="#3a3330" stroke-width="3.4"/>
<text x="206.0" y="1779.5" font-size="34.7" text-anchor="end" fill="#4D4643">3e−04</text>
<line x1="211.2" x2="217.2" y1="1908.4" y2="1908.4" stroke="#3a3330" stroke-width="3.4"/>
<text x="206.0" y="1921.8" font-size="34.7" text-anchor="end" fill="#4D4643">2e−04</text>
<line x1="211.2" x2="217.2" y1="2050.7" y2="2050.7" stroke="#3a3330" stroke-width="3.4"/>
<text x="206.0" y="2064.1" font-size="34.7" text-anchor="end" fill="#4D4643">1e−04</text>
<line x1="211.2" x2="217.2" y1="2193.0" y2="2193.0" stroke="#3a3330" stroke-width="3.4"/>
<text x="206.0" y="2206.4" font-size="34.7" text-anchor="end" fill="#4D4643">0e+00</text>
<line x1="291.5" x2="291.5" y1="2228.8" y2="2234.8" stroke="#3a3330" stroke-width="3.2"/>
<text x="291.5" y="2263.4" font-size="34.7" text-anchor="middle" fill="#4D4643">GH9</text>
<line x1="415.1" x2="415.1" y1="2228.8" y2="2234.8" stroke="#3a3330" stroke-width="3.2"/>
<text x="415.1" y="2263.4" font-size="34.7" text-anchor="middle" fill="#4D4643">GH51</text>
<line x1="538.7" x2="538.7" y1="2228.8" y2="2234.8" stroke="#3a3330" stroke-width="3.2"/>
<text x="538.7" y="2263.4" font-size="34.7" text-anchor="middle" fill="#4D4643">GH8</text>
<line x1="662.3" x2="662.3" y1="2228.8" y2="2234.8" stroke="#3a3330" stroke-width="3.2"/>
<text x="662.3" y="2263.4" font-size="34.7" text-anchor="middle" fill="#4D4643">GH74</text>
<line x1="785.9" x2="785.9" y1="2228.8" y2="2234.8" stroke="#3a3330" stroke-width="3.2"/>
<text x="785.9" y="2263.4" font-size="34.7" text-anchor="middle" fill="#4D4643">GH44</text>
<line x1="909.5" x2="909.5" y1="2228.8" y2="2234.8" stroke="#3a3330" stroke-width="3.2"/>
<text x="909.5" y="2263.4" font-size="34.7" text-anchor="middle" fill="#4D4643">GH48</text>
<line x1="1033.1" x2="1033.1" y1="2228.8" y2="2234.8" stroke="#3a3330" stroke-width="3.2"/>
<text x="1033.1" y="2263.4" font-size="34.7" text-anchor="middle" fill="#4D4643">GH124</text>
<line x1="1156.7" x2="1156.7" y1="2228.8" y2="2234.8" stroke="#3a3330" stroke-width="3.2"/>
<text x="1156.7" y="2263.4" font-size="34.7" text-anchor="middle" fill="#4D4643">GH12</text>
<line x1="1280.3" x2="1280.3" y1="2228.8" y2="2234.8" stroke="#3a3330" stroke-width="3.2"/>
<text x="1280.3" y="2263.4" font-size="34.7" text-anchor="middle" fill="#4D4643">GH43</text>
<line x1="1403.9" x2="1403.9" y1="2228.8" y2="2234.8" stroke="#3a3330" stroke-width="3.2"/>
<text x="1403.9" y="2263.4" font-size="34.7" text-anchor="middle" fill="#4D4643">GH10</text>
<line x1="1527.5" x2="1527.5" y1="2228.8" y2="2234.8" stroke="#3a3330" stroke-width="3.2"/>
<text x="1527.5" y="2263.4" font-size="34.7" text-anchor="middle" fill="#4D4643">GH26</text>
<line x1="1651.1" x2="1651.1" y1="2228.8" y2="2234.8" stroke="#3a3330" stroke-width="3.2"/>
<text x="1651.1" y="2263.4" font-size="34.7" text-anchor="middle" fill="#4D4643">GH1</text>
<line x1="1774.7" x2="1774.7" y1="2228.8" y2="2234.8" stroke="#3a3330" stroke-width="3.2"/>
<text x="1774.7" y="2263.4" font-size="34.7" text-anchor="middle" fill="#4D4643">GH30</text>
<line x1="1898.3" x2="1898.3" y1="2228.8" y2="2234.8" stroke="#3a3330" stroke-width="3.2"/>
<text x="1898.3" y="2263.4" font-size="34.7" text-anchor="middle" fill="#4D4643">GH11</text>
<line x1="2021.9" x2="2021.9" y1="2228.8" y2="2234.8" stroke="#3a3330" stroke-width="3.2"/>
<text x="2021.9" y="2263.4" font-size="34.7" text-anchor="middle" fill="#4D4643">GH98</text>
<line x1="2145.5" x2="2145.5" y1="2228.8" y2="2234.8" stroke="#3a3330" stroke-width="3.2"/>
<text x="2145.5" y="2263.4" font-size="34.7" text-anchor="middle" fill="#4D4643">PL9</text>
<line x1="2269.1" x2="2269.1" y1="2228.8" y2="2234.8" stroke="#3a3330" stroke-width="3.2"/>
<text x="2269.1" y="2263.4" font-size="34.7" text-anchor="middle" fill="#4D4643">CE4</text>
<line x1="2392.7" x2="2392.7" y1="2228.8" y2="2234.8" stroke="#3a3330" stroke-width="3.2"/>
<text x="2392.7" y="2263.4" font-size="34.7" text-anchor="middle" fill="#4D4643">CE1</text>
<line x1="2516.3" x2="2516.3" y1="2228.8" y2="2234.8" stroke="#3a3330" stroke-width="3.2"/>
<text x="2516.3" y="2263.4" font-size="34.7" text-anchor="middle" fill="#4D4643">CE6</text>
<line x1="2639.9" x2="2639.9" y1="2228.8" y2="2234.8" stroke="#3a3330" stroke-width="3.2"/>
<text x="2639.9" y="2263.4" font-size="34.7" text-anchor="middle" fill="#4D4643">CE3</text>
<line x1="2763.5" x2="2763.5" y1="2228.8" y2="2234.8" stroke="#3a3330" stroke-width="3.2"/>
<text x="2763.5" y="2263.4" font-size="34.7" text-anchor="middle" fill="#4D4643">CE7</text>
<text transform="translate(69,1761) rotate(-90)" font-size="44.5" textLength="373" lengthAdjust="spacingAndGlyphs" fill="#1a1a1a">Relative abundance</text>
<text x="2874.2" y="1544.5" font-size="42" textLength="139.0" lengthAdjust="spacingAndGlyphs" fill="#1a1a1a">Groups</text>
<rect x="2874.2" y="1573.9" width="34.8" height="33.7" fill="#53968E"/>
<text x="2933.0" y="1602.2" font-size="32.5" textLength="45.5" lengthAdjust="spacingAndGlyphs" fill="#1a1a1a">PN</text>
<rect x="2874.2" y="1610.8" width="34.8" height="33.7" fill="#F2B8D1"/>
<text x="2933.0" y="1639.2" font-size="32.5" textLength="43.0" lengthAdjust="spacingAndGlyphs" fill="#1a1a1a">TS</text>
<rect x="2874.2" y="1647.7" width="34.8" height="33.7" fill="#D4693A"/>
<text x="2933.0" y="1676.6" font-size="32.5" textLength="39.0" lengthAdjust="spacingAndGlyphs" fill="#1a1a1a">TA</text>
<path d="M261.3,1723.4 L261.3,1711.9 L290.6,1711.9 L290.6,1723.4" fill="none" stroke="#111" stroke-width="3.8" stroke-linejoin="miter"/>
<text transform="translate(275.9,1711.6) scale(0.5,1)" font-size="38.6" font-weight="bold" text-anchor="middle" fill="#111" style="font-family:'DejaVu Sans',sans-serif">*</text>
<path d="M291.9,1528.0 L291.9,1516.5 L321.7,1516.5 L321.7,1528.0" fill="none" stroke="#111" stroke-width="3.8" stroke-linejoin="miter"/>
<text transform="translate(306.8,1516.2) scale(0.5,1)" font-size="38.6" font-weight="bold" text-anchor="middle" fill="#111" style="font-family:'DejaVu Sans',sans-serif">**</text>
<path d="M264.3,1481.0 L264.3,1469.5 L320.7,1469.5 L320.7,1481.0" fill="none" stroke="#111" stroke-width="3.8" stroke-linejoin="miter"/>
<text x="292.5" y="1475.1" font-size="50" text-anchor="middle" fill="#111">**</text>
<path d="M384.9,1626.0 L384.9,1614.5 L414.2,1614.5 L414.2,1626.0" fill="none" stroke="#111" stroke-width="3.8" stroke-linejoin="miter"/>
<text transform="translate(399.6,1614.2) scale(0.5,1)" font-size="38.6" font-weight="bold" text-anchor="middle" fill="#111" style="font-family:'DejaVu Sans',sans-serif">*</text>
<path d="M415.5,1558.4 L415.5,1546.9 L445.3,1546.9 L445.3,1558.4" fill="none" stroke="#111" stroke-width="3.8" stroke-linejoin="miter"/>
<text transform="translate(430.4,1546.6) scale(0.5,1)" font-size="38.6" font-weight="bold" text-anchor="middle" fill="#111" style="font-family:'DejaVu Sans',sans-serif">**</text>
<path d="M508.5,2043.8 L508.5,2032.3 L537.8,2032.3 L537.8,2043.8" fill="none" stroke="#111" stroke-width="3.8" stroke-linejoin="miter"/>
<text transform="translate(523.2,2032.0) scale(0.5,1)" font-size="38.6" font-weight="bold" text-anchor="middle" fill="#111" style="font-family:'DejaVu Sans',sans-serif">*</text>
<path d="M539.1,2009.4 L539.1,1997.9 L568.9,1997.9 L568.9,2009.4" fill="none" stroke="#111" stroke-width="3.8" stroke-linejoin="miter"/>
<text transform="translate(554.0,1997.6) scale(0.5,1)" font-size="38.6" font-weight="bold" text-anchor="middle" fill="#111" style="font-family:'DejaVu Sans',sans-serif">**</text>
<path d="M662.7,2097.4 L662.7,2085.9 L692.5,2085.9 L692.5,2097.4" fill="none" stroke="#111" stroke-width="3.8" stroke-linejoin="miter"/>
<text transform="translate(677.6,2085.6) scale(0.5,1)" font-size="38.6" font-weight="bold" text-anchor="middle" fill="#111" style="font-family:'DejaVu Sans',sans-serif">**</text>
<path d="M635.1,2057.7 L635.1,2046.2 L691.5,2046.2 L691.5,2057.7" fill="none" stroke="#111" stroke-width="3.8" stroke-linejoin="miter"/>
<text x="663.3" y="2051.8" font-size="50" text-anchor="middle" fill="#111">**</text>
<path d="M786.3,2128.4 L786.3,2116.9 L816.1,2116.9 L816.1,2128.4" fill="none" stroke="#111" stroke-width="3.8" stroke-linejoin="miter"/>
<text transform="translate(801.2,2116.6) scale(0.5,1)" font-size="38.6" font-weight="bold" text-anchor="middle" fill="#111" style="font-family:'DejaVu Sans',sans-serif">**</text>
<path d="M758.7,2080.2 L758.7,2068.7 L815.1,2068.7 L815.1,2080.2" fill="none" stroke="#111" stroke-width="3.8" stroke-linejoin="miter"/>
<text x="786.9" y="2074.3" font-size="50" text-anchor="middle" fill="#111">*</text>
<path d="M879.3,2172.8 L879.3,2161.3 L908.6,2161.3 L908.6,2172.8" fill="none" stroke="#111" stroke-width="3.8" stroke-linejoin="miter"/>
<text transform="translate(894.0,2161.0) scale(0.5,1)" font-size="38.6" font-weight="bold" text-anchor="middle" fill="#111" style="font-family:'DejaVu Sans',sans-serif">*</text>
<path d="M909.9,2148.7 L909.9,2137.2 L939.7,2137.2 L939.7,2148.7" fill="none" stroke="#111" stroke-width="3.8" stroke-linejoin="miter"/>
<text transform="translate(924.8,2136.9) scale(0.5,1)" font-size="38.6" font-weight="bold" text-anchor="middle" fill="#111" style="font-family:'DejaVu Sans',sans-serif">**</text>
<path d="M882.3,2104.8 L882.3,2093.3 L938.7,2093.3 L938.7,2104.8" fill="none" stroke="#111" stroke-width="3.8" stroke-linejoin="miter"/>
<text x="910.5" y="2098.9" font-size="50" text-anchor="middle" fill="#111">**</text>
<path d="M1033.5,2170.1 L1033.5,2158.6 L1063.3,2158.6 L1063.3,2170.1" fill="none" stroke="#111" stroke-width="3.8" stroke-linejoin="miter"/>
<text transform="translate(1048.4,2158.3) scale(0.5,1)" font-size="38.6" font-weight="bold" text-anchor="middle" fill="#111" style="font-family:'DejaVu Sans',sans-serif">**</text>
<path d="M1005.9,2127.4 L1005.9,2115.9 L1062.3,2115.9 L1062.3,2127.4" fill="none" stroke="#111" stroke-width="3.8" stroke-linejoin="miter"/>
<text x="1034.1" y="2121.5" font-size="50" text-anchor="middle" fill="#111">**</text>
<path d="M1157.1,2174.9 L1157.1,2163.4 L1186.9,2163.4 L1186.9,2174.9" fill="none" stroke="#111" stroke-width="3.8" stroke-linejoin="miter"/>
<text transform="translate(1172.0,2163.1) scale(0.5,1)" font-size="38.6" font-weight="bold" text-anchor="middle" fill="#111" style="font-family:'DejaVu Sans',sans-serif">**</text>
<path d="M1129.5,2127.4 L1129.5,2115.9 L1185.9,2115.9 L1185.9,2127.4" fill="none" stroke="#111" stroke-width="3.8" stroke-linejoin="miter"/>
<text x="1157.7" y="2121.5" font-size="50" text-anchor="middle" fill="#111">**</text>
<path d="M1250.1,1045.4 L1250.1,1033.9 L1279.4,1033.9 L1279.4,1045.4" fill="none" stroke="#111" stroke-width="3.8" stroke-linejoin="miter"/>
<text transform="translate(1264.8,1033.6) scale(0.5,1)" font-size="38.6" font-weight="bold" text-anchor="middle" fill="#111" style="font-family:'DejaVu Sans',sans-serif">*</text>
<path d="M1280.7,988.6 L1280.7,977.1 L1310.5,977.1 L1310.5,988.6" fill="none" stroke="#111" stroke-width="3.8" stroke-linejoin="miter"/>
<text transform="translate(1295.6,976.8) scale(0.5,1)" font-size="38.6" font-weight="bold" text-anchor="middle" fill="#111" style="font-family:'DejaVu Sans',sans-serif">*</text>
<path d="M1373.7,1654.8 L1373.7,1643.3 L1403.0,1643.3 L1403.0,1654.8" fill="none" stroke="#111" stroke-width="3.8" stroke-linejoin="miter"/>
<text transform="translate(1388.3,1643.0) scale(0.5,1)" font-size="38.6" font-weight="bold" text-anchor="middle" fill="#111" style="font-family:'DejaVu Sans',sans-serif">*</text>
<path d="M1404.3,1494.4 L1404.3,1482.9 L1434.1,1482.9 L1434.1,1494.4" fill="none" stroke="#111" stroke-width="3.8" stroke-linejoin="miter"/>
<text transform="translate(1419.2,1482.6) scale(0.5,1)" font-size="38.6" font-weight="bold" text-anchor="middle" fill="#111" style="font-family:'DejaVu Sans',sans-serif">**</text>
<path d="M1371.2,1432.0 L1371.2,1420.5 L1427.4,1420.5 L1427.4,1432.0" fill="none" stroke="#111" stroke-width="3.8" stroke-linejoin="miter"/>
<text x="1399.3" y="1426.1" font-size="50" text-anchor="middle" fill="#111">*</text>
<path d="M1497.3,1881.2 L1497.3,1869.7 L1526.6,1869.7 L1526.6,1881.2" fill="none" stroke="#111" stroke-width="3.8" stroke-linejoin="miter"/>
<text transform="translate(1512.0,1869.4) scale(0.5,1)" font-size="38.6" font-weight="bold" text-anchor="middle" fill="#111" style="font-family:'DejaVu Sans',sans-serif">*</text>
<path d="M1527.9,1813.8 L1527.9,1802.3 L1557.7,1802.3 L1557.7,1813.8" fill="none" stroke="#111" stroke-width="3.8" stroke-linejoin="miter"/>
<text transform="translate(1542.8,1802.0) scale(0.5,1)" font-size="38.6" font-weight="bold" text-anchor="middle" fill="#111" style="font-family:'DejaVu Sans',sans-serif">*</text>
<path d="M1620.9,1914.4 L1620.9,1902.9 L1650.2,1902.9 L1650.2,1914.4" fill="none" stroke="#111" stroke-width="3.8" stroke-linejoin="miter"/>
<text transform="translate(1635.5,1902.6) scale(0.5,1)" font-size="38.6" font-weight="bold" text-anchor="middle" fill="#111" style="font-family:'DejaVu Sans',sans-serif">*</text>
<path d="M1623.9,1873.1 L1623.9,1861.6 L1680.3,1861.6 L1680.3,1873.1" fill="none" stroke="#111" stroke-width="3.8" stroke-linejoin="miter"/>
<text x="1652.1" y="1867.2" font-size="50" text-anchor="middle" fill="#111">*</text>
<path d="M1775.1,1957.1 L1775.1,1945.6 L1804.9,1945.6 L1804.9,1957.1" fill="none" stroke="#111" stroke-width="3.8" stroke-linejoin="miter"/>
<text transform="translate(1790.0,1945.3) scale(0.5,1)" font-size="38.6" font-weight="bold" text-anchor="middle" fill="#111" style="font-family:'DejaVu Sans',sans-serif">**</text>
<path d="M1747.5,1909.0 L1747.5,1897.5 L1803.9,1897.5 L1803.9,1909.0" fill="none" stroke="#111" stroke-width="3.8" stroke-linejoin="miter"/>
<text x="1775.7" y="1903.1" font-size="50" text-anchor="middle" fill="#111">**</text>
<path d="M1868.1,2097.4 L1868.1,2085.9 L1897.4,2085.9 L1897.4,2097.4" fill="none" stroke="#111" stroke-width="3.8" stroke-linejoin="miter"/>
<text transform="translate(1882.8,2085.6) scale(0.5,1)" font-size="38.6" font-weight="bold" text-anchor="middle" fill="#111" style="font-family:'DejaVu Sans',sans-serif">*</text>
<path d="M1898.7,2016.0 L1898.7,2004.5 L1928.5,2004.5 L1928.5,2016.0" fill="none" stroke="#111" stroke-width="3.8" stroke-linejoin="miter"/>
<text transform="translate(1913.6,2004.2) scale(0.5,1)" font-size="38.6" font-weight="bold" text-anchor="middle" fill="#111" style="font-family:'DejaVu Sans',sans-serif">**</text>
<path d="M1871.1,1974.8 L1871.1,1963.3 L1927.5,1963.3 L1927.5,1974.8" fill="none" stroke="#111" stroke-width="3.8" stroke-linejoin="miter"/>
<text x="1899.3" y="1968.9" font-size="50" text-anchor="middle" fill="#111">**</text>
<path d="M1991.7,2156.2 L1991.7,2144.7 L2021.0,2144.7 L2021.0,2156.2" fill="none" stroke="#111" stroke-width="3.8" stroke-linejoin="miter"/>
<text transform="translate(2006.3,2144.4) scale(0.5,1)" font-size="38.6" font-weight="bold" text-anchor="middle" fill="#111" style="font-family:'DejaVu Sans',sans-serif">**</text>
<path d="M2022.3,2132.1 L2022.3,2120.6 L2052.1,2120.6 L2052.1,2132.1" fill="none" stroke="#111" stroke-width="3.8" stroke-linejoin="miter"/>
<text transform="translate(2037.2,2120.3) scale(0.5,1)" font-size="38.6" font-weight="bold" text-anchor="middle" fill="#111" style="font-family:'DejaVu Sans',sans-serif">*</text>
<path d="M2145.9,2065.2 L2145.9,2053.7 L2175.7,2053.7 L2175.7,2065.2" fill="none" stroke="#111" stroke-width="3.8" stroke-linejoin="miter"/>
<text transform="translate(2160.8,2053.4) scale(0.5,1)" font-size="38.6" font-weight="bold" text-anchor="middle" fill="#111" style="font-family:'DejaVu Sans',sans-serif">**</text>
<path d="M2118.3,2014.9 L2118.3,2003.4 L2174.7,2003.4 L2174.7,2014.9" fill="none" stroke="#111" stroke-width="3.8" stroke-linejoin="miter"/>
<text x="2146.5" y="2009.0" font-size="50" text-anchor="middle" fill="#111">*</text>
<path d="M2238.8,1083.4 L2238.8,1071.9 L2267.4,1071.9 L2267.4,1083.4" fill="none" stroke="#111" stroke-width="3.8" stroke-linejoin="miter"/>
<text transform="translate(2253.1,1071.6) scale(0.5,1)" font-size="38.6" font-weight="bold" text-anchor="middle" fill="#111" style="font-family:'DejaVu Sans',sans-serif">**</text>
<path d="M2269.2,1053.4 L2269.2,1041.9 L2297.4,1041.9 L2297.4,1053.4" fill="none" stroke="#111" stroke-width="3.8" stroke-linejoin="miter"/>
<text transform="translate(2283.3,1041.6) scale(0.5,1)" font-size="38.6" font-weight="bold" text-anchor="middle" fill="#111" style="font-family:'DejaVu Sans',sans-serif">**</text>
<path d="M2238.8,1004.6 L2238.8,993.1 L2289.1,993.1 L2289.1,1004.6" fill="none" stroke="#111" stroke-width="3.8" stroke-linejoin="miter"/>
<text x="2263.9" y="998.7" font-size="50" text-anchor="middle" fill="#111">**</text>
<path d="M2361.2,1389.6 L2361.2,1378.1 L2390.3,1378.1 L2390.3,1389.6" fill="none" stroke="#111" stroke-width="3.8" stroke-linejoin="miter"/>
<text transform="translate(2375.8,1377.8) scale(0.5,1)" font-size="38.6" font-weight="bold" text-anchor="middle" fill="#111" style="font-family:'DejaVu Sans',sans-serif">**</text>
<path d="M2391.3,1343.6 L2391.3,1332.1 L2420.3,1332.1 L2420.3,1343.6" fill="none" stroke="#111" stroke-width="3.8" stroke-linejoin="miter"/>
<text transform="translate(2405.8,1331.8) scale(0.5,1)" font-size="38.6" font-weight="bold" text-anchor="middle" fill="#111" style="font-family:'DejaVu Sans',sans-serif">**</text>
<path d="M2486.1,1942.2 L2486.1,1930.7 L2515.4,1930.7 L2515.4,1942.2" fill="none" stroke="#111" stroke-width="3.8" stroke-linejoin="miter"/>
<text transform="translate(2500.8,1930.4) scale(0.5,1)" font-size="38.6" font-weight="bold" text-anchor="middle" fill="#111" style="font-family:'DejaVu Sans',sans-serif">**</text>
<path d="M2516.7,1896.7 L2516.7,1885.2 L2546.5,1885.2 L2546.5,1896.7" fill="none" stroke="#111" stroke-width="3.8" stroke-linejoin="miter"/>
<text transform="translate(2531.6,1884.9) scale(0.5,1)" font-size="38.6" font-weight="bold" text-anchor="middle" fill="#111" style="font-family:'DejaVu Sans',sans-serif">**</text>
<path d="M2609.7,2042.8 L2609.7,2031.3 L2639.0,2031.3 L2639.0,2042.8" fill="none" stroke="#111" stroke-width="3.8" stroke-linejoin="miter"/>
<text transform="translate(2624.4,2031.0) scale(0.5,1)" font-size="38.6" font-weight="bold" text-anchor="middle" fill="#111" style="font-family:'DejaVu Sans',sans-serif">**</text>
<path d="M2640.3,1968.9 L2640.3,1957.4 L2670.1,1957.4 L2670.1,1968.9" fill="none" stroke="#111" stroke-width="3.8" stroke-linejoin="miter"/>
<text transform="translate(2655.2,1957.1) scale(0.5,1)" font-size="38.6" font-weight="bold" text-anchor="middle" fill="#111" style="font-family:'DejaVu Sans',sans-serif">**</text>
<path d="M2733.3,2001.6 L2733.3,1990.1 L2762.6,1990.1 L2762.6,2001.6" fill="none" stroke="#111" stroke-width="3.8" stroke-linejoin="miter"/>
<text transform="translate(2747.9,1989.8) scale(0.5,1)" font-size="38.6" font-weight="bold" text-anchor="middle" fill="#111" style="font-family:'DejaVu Sans',sans-serif">*</text>
<path d="M2732.8,1955.0 L2732.8,1943.5 L2789.2,1943.5 L2789.2,1955.0" fill="none" stroke="#111" stroke-width="3.8" stroke-linejoin="miter"/>
<text x="2761.0" y="1949.1" font-size="50" text-anchor="middle" fill="#111">**</text>
</g>
</svg>
</body></html>
